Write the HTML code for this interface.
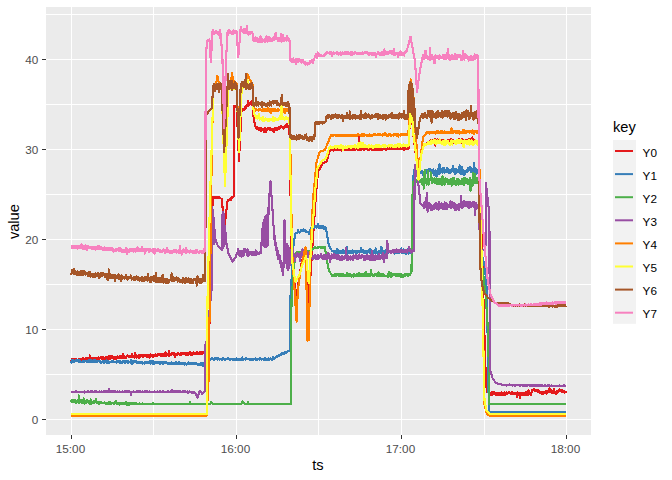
<!DOCTYPE html>
<html><head><meta charset="utf-8"><title>plot</title>
<style>
html,body{margin:0;padding:0;background:#fff;}
body{width:672px;height:480px;overflow:hidden;font-family:"Liberation Sans",sans-serif;}
svg{display:block;}
text{font-family:"Liberation Sans",sans-serif;}
.tk{font-size:11.73px;fill:#4D4D4D;}
.lg{font-size:11.73px;fill:#000;}
.tt{font-size:14.67px;fill:#000;}
.ln path{shape-rendering:crispEdges;fill:none;stroke-width:2.13;stroke-linejoin:round;stroke-linecap:butt;}
</style></head><body>
<svg width="672" height="480" viewBox="0 0 672 480">
<rect width="672" height="480" fill="#fff"/>
<rect x="46" y="7" width="545" height="428" fill="#EBEBEB"/>
<defs><clipPath id="cp"><rect x="46" y="7" width="545" height="428"/></clipPath></defs>
<g><rect x="46" y="14" width="545" height="1" fill="#fff"/><rect x="46" y="104" width="545" height="1" fill="#fff"/><rect x="46" y="194" width="545" height="1" fill="#fff"/><rect x="46" y="284" width="545" height="1" fill="#fff"/><rect x="46" y="374" width="545" height="1" fill="#fff"/><rect x="46" y="59" width="545" height="1" fill="#fff"/><rect x="46" y="149" width="545" height="1" fill="#fff"/><rect x="46" y="239" width="545" height="1" fill="#fff"/><rect x="46" y="329" width="545" height="1" fill="#fff"/><rect x="46" y="419" width="545" height="1" fill="#fff"/><rect x="153" y="7" width="1" height="428" fill="#fff"/><rect x="318" y="7" width="1" height="428" fill="#fff"/><rect x="484" y="7" width="1" height="428" fill="#fff"/><rect x="71" y="7" width="1" height="428" fill="#fff"/><rect x="236" y="7" width="1" height="428" fill="#fff"/><rect x="401" y="7" width="1" height="428" fill="#fff"/><rect x="566" y="7" width="1" height="428" fill="#fff"/></g>
<g class="ln" clip-path="url(#cp)">
<path d="M71.0,360.0 71.3,360.8 71.6,360.1 71.9,358.7 72.2,360.3 72.5,360.3 72.8,358.7 73.1,358.8 73.4,360.8 73.7,359.6 74.0,360.9 74.3,359.2 74.6,359.5 74.9,358.8 75.2,359.8 75.5,360.7 75.8,359.7 76.1,359.1 76.4,359.3 76.7,359.2 77.0,360.1 77.3,359.9 77.6,360.0 77.9,359.8 78.2,360.2 78.5,360.0 78.8,360.5 79.1,359.4 79.4,360.7 79.7,359.2 80.0,359.7 80.3,359.2 80.6,360.6 80.9,358.8 81.2,360.9 81.5,358.8 81.8,358.8 82.1,359.4 82.4,360.0 82.7,358.5 83.0,357.8 83.3,360.7 83.6,359.9 83.9,360.3 84.2,360.0 84.5,359.3 84.8,359.0 85.1,359.5 85.4,358.9 85.7,359.0 86.0,358.4 86.3,361.2 86.6,358.8 86.9,358.5 87.2,359.0 87.5,359.6 87.8,358.0 88.1,359.2 88.4,357.7 88.7,358.8 89.0,359.5 89.3,359.7 89.6,359.0 89.9,355.4 90.2,358.0 90.5,359.0 90.8,359.2 91.1,358.7 91.4,358.2 91.7,359.2 92.0,359.5 92.3,358.5 92.6,358.2 92.9,358.5 93.2,358.8 93.5,359.3 93.8,358.4 94.1,358.2 94.4,358.5 94.7,357.6 95.0,358.3 95.3,359.3 95.6,359.9 95.9,359.0 96.2,359.2 96.5,358.4 96.8,357.9 97.1,357.7 97.4,358.7 97.7,359.0 98.0,358.7 98.3,359.0 98.6,357.3 98.9,357.9 99.2,359.3 99.5,357.7 99.8,358.0 100.1,358.3 100.4,358.3 100.7,357.3 101.0,358.5 101.3,357.3 101.6,358.8 101.9,359.1 102.2,357.3 102.5,358.0 102.8,358.1 103.1,359.3 103.4,358.5 103.7,357.4 104.0,358.4 104.3,357.6 104.6,359.4 104.9,359.1 105.2,358.4 105.5,359.3 105.8,359.0 106.1,357.3 106.4,359.0 106.7,358.3 107.0,357.8 107.3,358.1 107.6,358.5 107.9,356.8 108.2,356.8 108.5,358.9 108.8,358.1 109.1,357.7 109.4,356.0 109.7,356.6 110.0,356.9 110.3,358.8 110.6,358.0 110.9,356.3 111.2,357.3 111.5,358.4 111.8,357.6 112.1,356.7 112.4,356.0 112.7,357.1 113.0,356.5 113.3,357.6 113.6,357.3 113.9,359.0 114.2,356.7 114.5,357.7 114.8,358.0 115.1,358.1 115.4,358.5 115.7,358.3 116.0,357.2 116.3,358.2 116.6,358.6 116.9,356.9 117.2,356.5 117.5,357.7 117.8,357.6 118.1,356.6 118.4,357.6 118.7,357.9 119.0,358.4 119.3,357.0 119.6,357.8 119.9,357.2 120.2,355.7 120.5,357.4 120.8,356.1 121.1,357.4 121.4,358.1 121.7,356.6 122.0,357.9 122.3,356.6 122.6,357.1 122.9,356.3 123.2,353.7 123.5,356.9 123.8,356.6 124.1,357.7 124.4,356.0 124.7,357.5 125.0,356.7 125.3,356.9 125.6,357.7 125.9,357.3 126.2,357.5 126.5,356.2 126.8,356.7 127.1,356.1 127.4,355.4 127.7,355.5 128.0,356.4 128.3,355.6 128.6,356.6 128.9,357.0 129.2,357.3 129.5,356.4 129.8,356.5 130.1,356.5 130.4,356.1 130.7,356.6 131.0,357.2 131.3,356.1 131.6,357.1 131.9,354.0 132.2,357.4 132.5,356.5 132.8,356.7 133.1,357.5 133.4,355.7 133.7,356.0 134.0,356.2 134.3,355.6 134.6,357.8 134.9,357.2 135.2,352.9 135.5,356.2 135.8,356.3 136.1,356.0 136.4,357.6 136.7,355.4 137.0,357.0 137.3,356.5 137.6,355.6 137.9,356.5 138.2,357.4 138.5,355.4 138.8,357.8 139.1,356.2 139.4,355.5 139.7,356.8 140.0,357.1 140.3,356.6 140.6,356.6 140.9,355.5 141.2,356.3 141.5,356.1 141.8,355.3 142.1,355.4 142.4,356.6 142.7,356.9 143.0,356.6 143.3,355.1 143.6,356.2 143.9,356.0 144.2,355.0 144.5,354.8 144.8,355.9 145.1,355.0 145.4,355.8 145.7,356.4 146.0,356.4 146.3,356.4 146.6,355.4 146.9,356.7 147.2,356.4 147.5,355.7 147.8,354.8 148.1,355.6 148.4,356.9 148.7,356.7 149.0,355.9 149.3,357.6 149.6,355.2 149.9,355.6 150.2,354.5 150.5,356.6 150.8,355.0 151.1,356.5 151.4,354.8 151.7,354.9 152.0,354.8 152.3,356.5 152.6,356.8 152.9,356.2 153.2,355.1 153.5,356.5 153.8,355.2 154.1,354.6 154.4,355.8 154.7,355.0 155.0,354.9 155.3,354.6 155.6,354.4 155.9,355.2 156.2,355.8 156.5,355.4 156.8,355.3 157.1,355.5 157.4,355.8 157.7,354.4 158.0,354.1 158.3,354.2 158.6,354.8 158.9,353.8 159.2,355.2 159.5,354.0 159.8,355.3 160.1,354.6 160.4,355.9 160.7,355.2 161.0,354.4 161.3,355.4 161.6,354.8 161.9,355.0 162.2,356.4 162.5,355.3 162.8,356.3 163.1,354.3 163.4,354.2 163.7,356.2 164.0,355.9 164.3,354.3 164.6,354.4 164.9,356.2 165.2,354.4 165.5,352.5 165.8,354.6 166.1,353.9 166.4,355.5 166.7,354.7 167.0,354.5 167.3,354.3 167.6,355.2 167.9,353.9 168.2,355.3 168.5,355.3 168.8,355.7 169.1,350.7 169.4,355.5 169.7,353.9 170.0,355.4 170.3,354.1 170.6,353.9 170.9,353.9 171.2,354.7 171.5,353.3 171.8,354.4 172.1,353.1 172.4,354.3 172.7,353.1 173.0,354.5 173.3,354.6 173.6,354.6 173.9,354.1 174.2,354.9 174.5,353.3 174.8,353.8 175.1,356.8 175.4,354.0 175.7,354.4 176.0,355.1 176.3,354.5 176.6,355.1 176.9,354.0 177.2,354.3 177.5,353.0 177.8,352.8 178.1,353.7 178.4,353.0 178.7,353.9 179.0,354.4 179.3,354.5 179.6,354.1 179.9,354.5 180.2,354.0 180.5,354.8 180.8,354.2 181.1,354.7 181.4,352.8 181.7,352.8 182.0,353.3 182.3,354.0 182.6,353.7 182.9,353.4 183.2,352.7 183.5,352.6 183.8,353.8 184.1,353.6 184.4,352.6 184.7,352.9 185.0,353.0 185.3,353.2 185.6,354.0 185.9,355.0 186.2,354.2 186.5,352.6 186.8,354.9 187.1,353.7 187.4,354.2 187.7,354.9 188.0,353.2 188.3,353.6 188.6,353.1 188.9,352.9 189.2,353.0 189.5,354.0 189.8,352.5 190.1,352.0 190.4,352.9 190.7,352.9 191.0,354.8 191.3,354.1 191.6,354.1 191.9,354.8 192.2,353.4 192.5,354.2 192.8,353.3 193.1,353.5 193.4,352.3 193.7,353.2 194.0,353.1 194.3,353.1 194.6,353.8 194.9,352.9 195.2,353.6 195.5,354.4 195.8,353.6 196.1,353.7 196.4,353.3 196.7,352.3 197.0,353.4 197.3,352.5 197.6,352.3 197.9,352.5 198.2,353.8 198.5,353.8 198.8,353.4 199.1,353.2 199.4,353.5 199.7,352.0 200.0,353.0 200.3,353.5 200.6,352.7 200.9,352.4 201.2,353.8 201.5,352.2 201.8,353.7 202.1,353.5 202.4,351.8 202.7,352.0 203.0,352.0 203.3,352.5 203.6,353.4 203.9,351.8 204.2,353.4 204.5,352.5 204.8,352.3 205.2,352.2 205.5,352.0 205.8,351.6 206.1,351.9 206.4,352.5 206.7,351.8 207.0,351.3 207.3,351.8 207.6,351.3 207.9,351.3 208.2,351.4 208.5,352.0 208.8,352.0 209.2,334.7 209.6,317.3 210.0,300.0 210.3,270.7 210.7,241.3 211.0,212.0 211.3,211.0 211.7,210.0 212.0,209.0 212.3,208.0 212.6,204.3 213.0,200.7 213.3,197.0 213.6,197.9 213.9,197.0 214.2,197.1 214.5,197.6 214.8,197.9 215.1,196.8 215.4,197.9 215.7,196.9 216.0,197.9 216.3,196.7 216.7,197.0 217.0,196.8 217.3,196.7 217.6,196.9 217.9,197.6 218.2,197.6 218.5,197.9 218.8,197.5 219.1,197.0 219.4,197.8 219.7,197.6 220.0,198.0 220.3,198.2 220.7,198.3 221.0,198.5 221.3,198.7 221.7,198.8 222.0,199.0 222.3,204.4 222.7,209.9 223.0,215.3 223.3,220.8 223.7,226.2 224.0,231.7 224.3,229.0 224.6,226.2 225.0,223.5 225.3,220.8 225.6,218.1 225.9,215.3 226.2,212.6 226.5,209.9 226.9,207.2 227.2,204.4 227.5,201.7 227.8,201.0 228.1,200.2 228.5,200.6 228.8,200.6 229.1,200.3 229.4,199.6 229.8,200.1 230.1,199.9 230.4,198.7 230.7,198.9 231.1,198.3 231.4,199.8 231.7,197.5 232.0,197.4 232.3,197.3 232.6,197.2 232.9,197.0 233.2,196.9 233.5,196.8 233.8,196.7 234.2,105.8 234.5,105.8 234.8,106.5 235.1,106.0 235.4,106.7 235.8,107.0 236.1,106.3 236.4,107.4 236.7,106.7 237.0,114.4 237.4,122.2 237.7,129.9 238.0,137.6 238.3,145.3 238.7,153.1 239.0,160.8 239.3,154.6 239.6,148.4 239.9,142.1 240.2,135.9 240.6,129.7 240.9,123.5 241.2,117.2 241.5,111.0 241.8,109.4 242.1,108.8 242.4,109.9 242.7,110.3 243.0,110.0 243.3,108.9 243.6,109.2 243.9,110.2 244.2,108.9 244.5,107.9 244.8,107.5 245.1,107.5 245.4,109.0 245.7,107.9 246.0,107.9 246.3,105.9 246.7,106.8 247.0,104.9 247.3,104.3 247.6,106.0 247.9,105.6 248.2,100.5 248.5,103.6 248.8,103.2 249.1,104.7 249.4,103.6 249.7,103.5 250.0,103.0 250.3,104.3 250.7,102.3 251.0,103.0 251.3,101.8 251.6,101.6 252.0,103.0 252.3,103.0 252.6,106.4 252.9,109.8 253.2,113.2 253.5,116.6 253.8,120.0 254.1,121.1 254.4,122.3 254.7,123.4 255.1,124.6 255.4,125.7 255.7,126.9 256.0,128.0 256.3,126.7 256.6,127.0 256.9,129.3 257.2,128.3 257.5,127.4 257.8,128.6 258.1,128.5 258.4,127.9 258.7,130.2 259.0,127.6 259.3,129.4 259.6,129.1 259.9,128.8 260.2,130.4 260.5,128.5 260.8,131.2 261.1,128.4 261.4,130.4 261.7,129.4 262.0,130.5 262.3,129.2 262.6,129.5 262.9,130.2 263.2,129.5 263.5,130.8 263.8,129.7 264.1,132.0 264.4,130.5 264.7,131.3 265.0,130.5 265.3,127.9 265.6,129.5 265.9,132.0 266.2,131.2 266.5,129.3 266.8,130.1 267.1,129.0 267.4,128.3 267.7,128.7 268.0,129.5 268.3,128.5 268.7,129.3 269.0,129.1 269.3,129.4 269.6,128.1 269.9,129.0 270.2,128.3 270.5,130.3 270.8,129.2 271.1,128.5 271.4,129.1 271.7,129.2 272.0,129.1 272.3,130.2 272.6,129.5 272.9,128.7 273.2,130.9 273.5,129.6 273.8,131.9 274.1,129.4 274.4,129.1 274.7,129.0 275.0,128.5 275.3,127.6 275.6,128.4 275.9,130.1 276.2,128.6 276.5,128.0 276.8,129.7 277.1,129.9 277.4,128.1 277.7,128.7 278.0,129.6 278.3,128.5 278.7,127.1 279.0,129.4 279.3,129.0 279.6,129.0 279.9,127.4 280.2,126.5 280.5,128.0 280.8,126.5 281.1,126.6 281.4,126.1 281.7,126.6 282.0,127.1 282.3,127.7 282.6,127.2 282.9,126.7 283.2,127.6 283.5,128.6 283.8,128.0 284.1,128.3 284.4,128.3 284.7,125.8 285.0,127.5 285.3,127.5 285.7,125.5 286.0,125.5 286.3,126.6 286.6,126.3 286.9,126.8 287.2,124.3 287.5,126.6 287.8,127.1 288.1,125.5 288.4,126.5 288.7,125.9 289.0,127.0 289.5,129.0 289.8,149.2 290.2,169.3 290.5,189.5 290.8,209.7 291.2,229.8 291.5,250.0 291.8,253.4 292.1,256.8 292.4,260.2 292.7,263.6 293.0,267.0 293.3,270.4 293.6,273.8 293.9,277.2 294.2,280.5 294.5,283.9 294.8,287.3 295.1,290.7 295.4,294.1 295.7,297.5 296.0,300.9 296.3,304.3 296.6,307.7 297.1,298.9 297.5,290.0 297.8,287.8 298.1,285.5 298.4,283.2 298.8,281.0 299.1,278.8 299.4,276.5 299.7,274.2 300.0,272.0 300.3,270.3 300.7,268.6 301.0,266.9 301.3,265.1 301.6,263.4 302.0,261.7 302.3,260.0 302.6,258.8 302.9,257.6 303.3,256.4 303.6,255.2 303.9,254.0 304.2,252.8 304.5,251.6 304.9,250.4 305.2,249.2 305.5,248.0 305.8,253.5 306.1,258.9 306.5,264.4 306.8,269.8 307.1,275.3 307.4,280.8 307.7,286.2 308.1,291.7 308.4,297.1 308.7,302.6 309.0,297.8 309.3,293.0 309.7,288.3 310.0,283.5 310.3,278.7 310.6,273.9 310.9,269.1 311.2,264.3 311.6,259.6 311.9,254.8 312.2,250.0 312.5,245.4 312.8,240.8 313.1,236.2 313.4,231.7 313.7,227.1 314.0,222.5 314.4,217.9 314.7,213.3 315.0,208.8 315.3,204.2 315.6,199.6 315.9,195.0 316.2,191.7 316.5,188.4 316.8,185.1 317.1,181.9 317.4,178.6 317.7,175.3 318.0,172.0 318.3,171.4 318.6,170.9 318.9,170.3 319.2,169.7 319.5,169.2 319.8,168.6 320.1,168.0 320.4,167.5 320.7,166.9 321.0,166.3 321.3,165.8 321.6,165.2 321.9,164.6 322.2,164.1 322.5,163.5 322.8,163.3 323.1,163.2 323.4,163.0 323.7,162.9 324.0,162.7 324.3,162.6 324.7,162.4 325.0,162.3 325.3,162.1 325.6,162.0 325.9,161.8 326.2,161.7 326.5,161.5 326.8,160.5 327.1,159.4 327.5,158.4 327.8,157.3 328.1,156.3 328.4,155.2 328.7,154.2 329.0,153.1 329.4,152.1 329.7,151.0 330.0,150.0 330.3,149.8 330.6,150.1 330.9,149.9 331.2,149.6 331.5,150.2 331.8,150.2 332.1,150.0 332.4,149.7 332.7,149.6 333.0,149.9 333.3,150.5 333.6,150.3 333.9,150.1 334.2,149.2 334.5,148.8 334.8,149.7 335.1,149.3 335.4,150.0 335.7,148.8 336.0,149.4 336.3,149.9 336.6,149.8 336.9,149.3 337.2,149.4 337.5,150.2 337.8,149.1 338.1,149.7 338.4,150.2 338.7,149.4 339.0,149.5 339.3,149.7 339.6,149.0 339.9,149.5 340.2,150.3 340.5,149.0 340.8,149.2 341.1,150.0 341.4,149.7 341.7,150.5 342.0,149.0 342.3,149.3 342.6,149.3 342.9,149.3 343.2,147.6 343.5,150.1 343.8,149.3 344.1,149.8 344.4,149.2 344.7,149.8 345.0,148.5 345.3,149.0 345.6,149.8 345.9,149.1 346.2,150.1 346.5,150.1 346.8,149.1 347.1,148.9 347.4,149.7 347.7,150.0 348.0,149.0 348.3,149.4 348.6,149.5 348.9,149.0 349.2,149.3 349.5,149.3 349.8,150.2 350.1,149.2 350.4,149.6 350.7,149.1 351.0,150.5 351.3,149.2 351.6,149.7 351.9,149.9 352.2,149.4 352.5,149.9 352.8,149.7 353.1,149.3 353.4,150.1 353.7,150.1 354.0,149.5 354.3,149.8 354.6,148.7 354.9,150.0 355.2,148.7 355.5,148.7 355.8,148.8 356.1,148.5 356.4,148.6 356.7,148.6 357.0,148.5 357.3,148.3 357.6,146.5 357.9,149.8 358.2,149.5 358.5,149.3 359.0,136.5 359.5,149.3 359.8,149.0 360.1,149.8 360.4,149.9 360.7,150.2 361.0,150.1 361.3,150.0 361.6,148.7 361.9,148.4 362.2,148.7 362.5,148.9 362.8,149.3 363.1,148.6 363.4,148.3 363.7,149.9 364.0,149.1 364.3,149.8 364.6,149.4 364.9,148.5 365.2,148.6 365.5,148.7 365.8,148.4 366.1,148.9 366.4,148.6 366.7,148.0 367.0,148.9 367.3,149.4 367.6,149.5 367.9,149.3 368.2,150.4 368.5,148.6 368.8,148.3 369.1,149.8 369.4,149.4 369.7,148.9 370.0,148.0 370.3,149.3 370.6,149.4 370.9,148.8 371.2,149.2 371.5,149.9 371.9,149.1 372.2,149.8 372.5,148.3 372.8,149.7 373.1,149.1 373.4,148.7 373.7,149.6 374.0,149.9 374.3,149.2 374.6,148.7 374.9,149.6 375.2,149.6 375.5,148.8 375.8,149.5 376.1,149.5 376.4,149.7 376.7,150.1 377.0,149.0 377.3,148.9 377.6,149.3 377.9,148.7 378.2,149.6 378.5,149.2 378.8,148.6 379.1,149.0 379.4,148.8 379.7,149.6 380.0,148.5 380.3,149.0 380.6,148.3 380.9,149.8 381.2,148.5 381.5,148.3 381.8,149.8 382.1,149.4 382.4,149.3 382.7,149.3 383.0,149.5 383.3,148.4 383.6,148.9 383.9,148.7 384.2,148.3 384.5,148.7 384.8,149.3 385.1,148.7 385.4,148.5 385.7,149.9 386.0,148.5 386.3,149.6 386.6,148.6 386.9,149.3 387.2,148.7 387.5,149.0 387.8,148.9 388.1,148.3 388.4,148.8 388.7,149.3 389.0,148.7 389.3,148.5 389.6,147.8 389.9,147.9 390.2,148.9 390.5,148.4 390.8,149.0 391.1,148.2 391.4,149.2 391.7,148.8 392.0,149.2 392.3,148.5 392.6,149.2 392.9,148.2 393.2,148.5 393.5,147.7 393.8,148.5 394.1,148.3 394.4,146.3 394.7,147.8 395.0,148.7 395.3,149.1 395.6,148.9 395.9,148.5 396.2,147.7 396.6,147.5 396.9,148.9 397.2,148.3 397.5,147.7 397.8,148.3 398.1,148.9 398.4,148.5 398.7,149.2 399.0,148.8 399.3,148.4 399.6,149.1 399.9,147.8 400.2,148.0 400.5,147.4 400.8,147.4 401.1,148.5 401.4,149.1 401.7,148.9 402.0,148.8 402.3,148.0 402.6,149.4 402.9,149.4 403.2,149.5 403.5,148.3 403.8,149.1 404.1,149.2 404.4,149.4 404.7,148.6 405.0,148.1 405.3,148.4 405.6,146.7 405.9,148.9 406.2,148.8 406.5,149.2 406.8,149.1 407.1,147.6 407.4,146.0 407.7,149.2 408.0,148.4 408.3,147.4 408.6,148.5 408.9,140.8 409.3,133.1 409.6,125.4 410.0,117.7 410.3,110.0 410.6,111.6 411.0,113.2 411.3,114.8 411.7,116.4 412.0,118.0 412.3,121.6 412.6,125.2 412.9,128.8 413.2,132.4 413.5,136.0 413.8,138.5 414.1,140.9 414.4,143.4 414.7,145.9 415.0,148.4 415.3,150.8 415.6,153.3 415.9,155.8 416.2,158.2 416.5,160.7 416.8,163.2 417.1,165.6 417.4,168.1 417.7,170.6 418.0,173.1 418.3,175.5 418.6,178.0 418.9,174.7 419.3,171.4 419.6,168.1 420.0,164.9 420.3,161.6 420.7,158.3 421.0,155.0 421.3,154.0 421.6,153.0 421.9,152.0 422.2,151.0 422.5,150.0 422.8,149.0 423.1,148.0 423.4,147.0 423.7,146.0 424.0,145.0 424.3,144.8 424.6,144.7 424.9,144.5 425.2,144.3 425.5,144.1 425.8,143.9 426.1,143.8 426.4,143.6 426.7,143.4 427.0,143.2 427.3,143.1 427.6,142.9 427.9,142.7 428.2,142.6 428.5,142.4 428.8,142.2 429.1,142.0 429.4,141.8 429.7,141.7 430.0,141.5 430.3,140.9 430.6,141.0 430.9,142.6 431.2,140.2 431.5,143.0 431.8,141.6 432.1,140.9 432.4,142.5 432.7,140.4 433.0,143.4 433.3,141.7 433.6,141.3 433.9,141.8 434.2,140.6 434.5,142.8 434.8,139.8 435.1,139.3 435.4,145.6 435.7,142.4 436.0,139.7 436.3,141.6 436.6,141.7 436.9,140.9 437.2,142.2 437.5,139.0 437.8,142.7 438.1,141.4 438.4,140.4 438.7,141.2 439.0,142.9 439.3,139.5 439.6,139.6 439.9,141.9 440.2,142.4 440.5,140.3 440.8,140.1 441.1,140.3 441.4,141.4 441.7,140.7 442.0,142.1 442.3,141.2 442.6,142.7 442.9,140.4 443.2,142.1 443.5,143.0 443.8,143.8 444.1,140.3 444.4,143.0 444.7,140.8 445.0,142.7 445.3,140.9 445.6,143.5 445.9,142.9 446.2,140.6 446.5,143.4 446.8,142.7 447.1,140.9 447.4,142.0 447.7,139.9 448.0,141.4 448.3,141.6 448.6,141.8 448.9,140.1 449.2,140.1 449.5,140.4 449.8,141.7 450.1,141.2 450.4,141.8 450.7,142.8 451.0,139.4 451.3,139.5 451.6,141.6 451.9,140.4 452.2,142.8 452.5,141.4 452.8,140.9 453.1,140.0 453.4,142.2 453.7,142.8 454.0,143.0 454.3,141.6 454.6,142.8 454.9,141.4 455.2,141.7 455.5,141.6 455.8,141.0 456.1,141.2 456.4,142.4 456.7,140.2 457.0,140.3 457.3,141.7 457.6,141.8 457.9,141.0 458.2,139.6 458.5,139.3 458.8,140.2 459.1,138.5 459.4,140.9 459.7,141.0 460.0,140.5 460.3,142.0 460.6,140.3 460.9,141.2 461.2,142.2 461.5,142.6 461.8,141.0 462.1,139.4 462.4,141.1 462.7,141.1 463.0,142.6 463.3,139.8 463.6,140.8 463.9,142.0 464.2,142.5 464.5,140.6 464.8,142.5 465.1,141.3 465.4,141.3 465.7,139.8 466.0,141.0 466.3,141.7 466.6,140.7 466.9,141.4 467.2,139.8 467.5,141.1 467.8,142.5 468.1,140.4 468.4,140.6 468.7,140.9 469.0,140.8 469.3,139.1 469.6,139.6 469.9,141.3 470.2,140.5 470.5,140.1 470.8,139.3 471.1,142.2 471.4,142.2 471.7,139.1 472.0,141.2 472.3,137.5 472.6,139.4 472.9,140.9 473.2,140.5 473.5,140.1 473.8,141.0 474.1,140.0 474.4,142.4 474.7,141.9 475.0,139.7 475.3,141.3 475.6,141.2 475.9,141.5 476.2,141.6 476.5,142.8 476.8,142.2 477.1,141.8 477.4,141.4 477.7,141.9 478.0,141.0 478.3,141.0 478.6,141.0 478.9,150.9 479.2,160.8 479.5,170.7 479.8,180.6 480.1,190.5 480.5,200.5 480.8,210.4 481.1,220.3 481.4,230.2 481.7,240.1 482.0,250.0 482.3,260.8 482.6,271.7 482.9,282.5 483.3,293.3 483.6,304.2 483.9,315.0 484.2,325.8 484.5,336.7 484.9,347.5 485.2,358.3 485.5,369.2 485.8,380.0 486.2,384.0 486.6,388.0 487.0,392.0 487.3,392.2 487.6,392.3 487.9,392.5 488.2,392.6 488.5,392.8 488.8,393.0 489.1,393.1 489.4,393.3 489.7,393.4 490.0,393.6 490.3,393.2 490.6,394.3 490.9,394.6 491.2,394.2 491.5,395.3 491.8,391.9 492.1,393.8 492.4,392.6 492.7,394.1 493.0,392.8 493.3,392.7 493.6,393.5 493.9,393.1 494.2,392.2 494.5,393.3 494.8,393.4 495.1,393.9 495.4,393.5 495.7,392.8 496.0,394.6 496.3,394.2 496.6,394.9 496.9,394.4 497.2,393.6 497.5,393.1 497.8,394.6 498.1,394.9 498.4,393.9 498.7,393.5 499.0,393.0 499.3,395.0 499.6,394.3 499.9,393.7 500.2,393.3 500.6,395.1 500.9,394.3 501.2,392.4 501.5,392.6 501.8,394.5 502.1,392.8 502.4,394.5 502.7,394.5 503.0,392.6 503.3,394.9 503.6,393.9 503.9,394.1 504.2,392.4 504.5,393.1 504.8,394.5 505.1,394.9 505.4,394.1 505.7,393.5 506.0,394.2 506.3,392.4 506.6,392.8 506.9,394.3 507.2,393.1 507.5,393.5 507.8,393.4 508.1,393.5 508.4,392.8 508.7,391.9 509.0,393.4 509.3,393.1 509.6,392.6 509.9,392.6 510.2,393.1 510.5,393.6 510.8,393.8 511.1,392.5 511.4,394.0 511.7,392.4 512.0,393.9 512.3,394.3 512.6,392.1 512.9,392.6 513.2,392.9 513.5,394.1 513.8,394.2 514.1,393.3 514.4,394.2 514.7,394.4 515.0,394.0 515.3,394.2 515.6,393.3 515.9,393.5 516.2,394.4 516.5,393.0 516.8,396.8 517.1,393.9 517.4,392.5 517.7,392.7 518.0,394.0 518.3,394.3 518.6,394.2 518.9,394.8 519.2,394.1 519.5,393.6 519.8,394.1 520.1,398.4 520.4,393.7 520.8,394.0 521.1,395.2 521.4,392.9 521.7,395.2 522.0,394.8 522.3,392.9 522.6,394.9 522.9,392.7 523.2,394.0 523.5,393.0 523.8,392.6 524.1,394.8 524.4,393.6 524.7,393.6 525.0,394.1 525.3,393.3 525.6,394.6 525.9,392.3 526.2,393.7 526.5,392.9 526.8,394.9 527.1,393.2 527.4,393.9 527.7,392.5 528.0,395.1 528.3,391.7 528.6,390.5 528.9,393.3 529.2,393.3 529.5,393.3 529.8,392.8 530.1,394.0 530.4,394.7 530.7,395.1 531.0,393.8 531.3,393.0 531.6,392.2 531.9,391.3 532.2,390.5 532.5,389.7 532.8,390.7 533.1,389.7 533.5,389.0 533.8,390.3 534.1,388.8 534.4,389.8 534.7,389.8 535.0,390.8 535.4,390.9 535.7,390.3 536.0,390.5 536.3,391.4 536.6,389.9 536.9,391.5 537.2,389.9 537.5,390.7 537.8,390.7 538.1,391.9 538.4,391.7 538.7,390.4 539.0,392.3 539.3,390.9 539.6,391.2 539.9,392.6 540.2,392.4 540.5,392.3 540.8,391.7 541.1,391.8 541.4,393.5 541.7,393.2 542.0,392.5 542.3,393.3 542.6,394.0 542.9,393.0 543.2,393.2 543.5,391.8 543.8,393.5 544.1,391.7 544.4,392.2 544.7,393.1 545.0,392.9 545.3,391.8 545.6,391.3 545.9,391.7 546.2,391.6 546.5,393.0 546.8,393.7 547.1,391.2 547.4,392.8 547.7,391.3 548.0,391.4 548.3,391.8 548.6,392.1 548.9,390.6 549.2,392.3 549.5,388.0 549.8,391.1 550.1,391.7 550.4,390.5 550.7,391.0 551.0,390.2 551.3,390.8 551.7,390.6 552.0,391.7 552.3,392.8 552.6,392.2 552.9,393.2 553.2,393.1 553.6,392.3 553.9,391.8 554.2,388.9 554.5,392.4 554.8,393.1 555.2,393.7 555.5,392.5 555.8,393.0 556.1,393.6 556.4,393.1 556.8,393.1 557.1,391.3 557.4,391.8 557.7,391.9 558.0,392.0 558.3,391.5 558.6,391.1 559.0,390.8 559.3,389.3 559.6,389.9 559.9,390.4 560.2,389.7 560.5,389.7 560.8,390.7 561.1,390.9 561.4,390.9 561.7,390.1 562.0,392.3 562.3,390.2 562.6,390.4 563.0,390.8 563.3,391.1 563.6,391.1 563.9,391.9 564.2,391.4 564.5,392.0 564.8,392.5 565.1,392.4 565.4,391.8 565.7,392.0 566.0,393.0" stroke="#E41A1C"/>
<path d="M71.0,361.0 71.3,362.6 71.6,360.5 71.9,361.1 72.2,360.2 72.5,361.2 72.8,360.1 73.1,361.7 73.4,360.7 73.7,361.2 74.0,361.4 74.3,360.6 74.6,361.6 74.9,361.1 75.2,360.4 75.5,360.1 75.8,360.9 76.1,360.0 76.4,361.3 76.7,360.1 77.0,360.6 77.3,360.2 77.6,360.3 77.9,361.5 78.2,360.1 78.5,359.7 78.8,361.9 79.1,361.4 79.4,361.9 79.7,362.0 80.0,361.6 80.3,361.5 80.6,361.2 80.9,361.7 81.2,361.9 81.5,361.7 81.8,361.8 82.1,361.9 82.4,361.2 82.7,360.9 83.0,361.4 83.3,360.9 83.6,360.8 83.9,361.6 84.2,362.1 84.5,360.6 84.8,360.7 85.1,360.9 85.4,360.8 85.7,361.2 86.0,360.8 86.3,361.4 86.6,361.6 86.9,360.8 87.2,361.1 87.5,361.3 87.8,361.8 88.1,361.9 88.4,360.5 88.7,360.9 89.0,360.8 89.3,360.3 89.6,361.9 89.9,361.8 90.2,360.7 90.5,361.3 90.8,360.5 91.1,360.8 91.4,360.6 91.7,361.5 92.0,361.5 92.3,361.2 92.6,362.1 92.9,361.6 93.2,361.2 93.5,360.4 93.8,360.3 94.1,362.0 94.4,361.9 94.7,360.7 95.0,361.3 95.3,362.2 95.6,362.3 95.9,360.4 96.2,362.0 96.5,362.1 96.8,361.0 97.1,361.3 97.4,361.7 97.7,360.9 98.0,361.1 98.3,361.3 98.6,361.3 98.9,361.1 99.2,361.4 99.5,361.4 99.8,361.0 100.1,362.6 100.4,361.8 100.7,362.1 101.0,361.9 101.3,361.9 101.6,362.4 101.9,362.2 102.2,361.5 102.5,361.7 102.8,361.1 103.1,361.5 103.4,361.1 103.7,361.7 104.0,362.8 104.3,362.9 104.6,361.3 104.9,361.3 105.2,361.0 105.5,362.0 105.8,361.6 106.1,361.9 106.4,362.6 106.7,360.2 107.0,362.1 107.3,362.1 107.6,362.1 107.9,361.0 108.2,362.7 108.5,362.1 108.8,362.8 109.1,361.6 109.4,362.5 109.7,361.9 110.0,362.4 110.3,361.7 110.6,362.1 110.9,361.6 111.2,361.8 111.5,361.4 111.8,361.4 112.1,362.3 112.4,361.2 112.7,361.6 113.0,360.8 113.3,361.8 113.6,362.2 113.9,362.0 114.2,361.6 114.5,361.9 114.8,362.1 115.1,362.5 115.4,362.0 115.7,362.0 116.0,362.4 116.3,362.8 116.6,362.1 116.9,361.1 117.2,361.4 117.5,361.5 117.8,362.2 118.1,361.4 118.4,361.4 118.7,361.5 119.0,362.0 119.3,361.5 119.6,362.8 119.9,361.3 120.2,361.7 120.5,362.2 120.8,361.9 121.1,363.1 121.4,362.5 121.7,362.5 122.0,362.8 122.3,362.5 122.6,361.3 122.9,362.4 123.2,361.6 123.5,361.9 123.8,361.4 124.1,361.1 124.4,361.9 124.7,361.4 125.0,362.6 125.3,361.5 125.6,362.5 125.9,361.6 126.2,361.3 126.5,361.4 126.8,362.0 127.1,361.3 127.4,362.5 127.7,362.1 128.0,362.8 128.3,361.3 128.6,362.3 128.9,361.8 129.2,362.0 129.5,362.2 129.8,361.8 130.1,362.1 130.4,362.7 130.7,361.8 131.0,361.6 131.3,360.1 131.6,362.5 131.9,361.7 132.2,363.8 132.5,361.8 132.8,361.0 133.1,361.5 133.4,361.7 133.7,362.6 134.0,362.2 134.3,361.5 134.6,361.9 134.9,362.3 135.2,362.1 135.5,361.8 135.8,362.4 136.1,361.4 136.4,361.4 136.7,361.4 137.0,362.1 137.3,362.9 137.6,362.3 137.9,361.7 138.2,363.1 138.5,362.6 138.8,361.7 139.1,363.2 139.4,362.8 139.7,363.0 140.0,362.8 140.3,362.9 140.6,362.5 140.9,363.3 141.2,362.9 141.5,362.7 141.8,363.1 142.1,363.1 142.4,361.9 142.7,363.8 143.0,363.2 143.3,363.3 143.6,363.0 143.9,363.3 144.2,362.8 144.5,363.5 144.8,362.8 145.1,362.4 145.4,362.9 145.7,362.9 146.0,363.1 146.3,362.7 146.6,362.9 146.9,362.1 147.2,362.4 147.5,362.9 147.8,362.2 148.1,361.9 148.4,362.8 148.7,362.2 149.0,363.1 149.3,363.4 149.6,363.2 149.9,360.8 150.2,363.1 150.5,363.6 150.8,363.6 151.1,362.4 151.4,363.3 151.7,362.3 152.0,361.2 152.3,362.8 152.6,363.5 152.9,363.6 153.2,362.6 153.5,361.0 153.8,362.8 154.1,363.3 154.4,361.9 154.7,363.5 155.0,362.2 155.3,362.6 155.6,361.9 155.9,362.9 156.2,362.4 156.5,362.5 156.8,363.0 157.1,362.6 157.4,361.9 157.7,362.7 158.0,362.0 158.3,362.6 158.6,362.4 158.9,362.3 159.2,363.6 159.5,362.1 159.8,362.2 160.1,363.2 160.4,362.6 160.7,363.6 161.0,363.1 161.3,362.3 161.6,362.3 161.9,361.9 162.2,362.6 162.5,363.1 162.8,363.6 163.1,362.4 163.4,363.7 163.7,363.4 164.0,362.5 164.3,362.9 164.6,362.4 164.9,363.3 165.2,362.7 165.5,362.8 165.8,363.1 166.1,362.3 166.4,362.2 166.7,362.9 167.0,362.6 167.3,363.0 167.6,362.8 167.9,362.6 168.2,364.5 168.5,363.1 168.8,363.6 169.1,364.2 169.4,362.7 169.7,363.0 170.0,363.4 170.3,363.5 170.6,362.8 170.9,362.7 171.2,363.2 171.5,364.0 171.8,362.3 172.1,362.9 172.4,364.1 172.7,363.7 173.0,363.0 173.3,363.2 173.6,362.7 173.9,363.4 174.2,363.8 174.5,362.7 174.8,363.6 175.1,363.6 175.4,362.2 175.7,363.3 176.0,362.8 176.3,362.2 176.6,363.8 176.9,362.5 177.2,362.8 177.5,363.0 177.8,364.0 178.1,363.6 178.4,362.1 178.7,363.3 179.0,361.9 179.3,362.7 179.6,362.5 179.9,364.2 180.2,362.7 180.5,363.4 180.8,363.8 181.1,362.5 181.4,363.9 181.7,363.2 182.0,363.1 182.3,364.1 182.6,364.1 182.9,363.4 183.2,363.4 183.5,363.6 183.8,363.5 184.1,362.9 184.4,364.5 184.7,362.8 185.0,364.4 185.3,363.9 185.6,363.4 185.9,364.5 186.2,364.5 186.5,363.6 186.8,364.5 187.1,364.2 187.4,363.4 187.7,363.9 188.0,363.1 188.3,363.8 188.6,362.7 188.9,362.5 189.2,362.8 189.5,363.2 189.8,363.5 190.1,363.7 190.4,363.6 190.7,362.7 191.0,363.8 191.3,363.2 191.6,362.8 191.9,362.8 192.2,362.6 192.5,363.6 192.8,362.8 193.1,363.3 193.4,363.2 193.7,362.9 194.0,364.2 194.3,363.0 194.6,363.3 194.9,364.1 195.2,364.0 195.5,364.1 195.8,362.9 196.1,363.0 196.4,363.7 196.7,364.2 197.0,363.7 197.3,363.8 197.6,364.6 197.9,364.0 198.2,364.3 198.5,364.7 198.8,364.5 199.1,364.5 199.4,364.9 199.7,364.6 200.0,364.4 200.3,363.4 200.6,364.4 200.9,364.7 201.2,363.3 201.5,363.7 201.8,362.7 202.1,363.1 202.4,364.4 202.7,364.6 203.0,366.4 203.3,364.5 203.6,364.6 203.9,363.5 204.2,363.9 204.5,363.8 205.0,364.0 205.3,363.7 205.6,363.4 205.9,363.1 206.2,362.8 206.6,362.4 206.9,362.1 207.2,361.8 207.5,361.5 207.8,361.2 208.1,360.9 208.4,360.6 208.8,360.2 209.1,359.9 209.4,359.6 209.7,359.3 210.0,359.0 210.3,359.5 210.6,358.8 210.9,358.6 211.2,358.5 211.5,358.6 211.8,358.8 212.1,358.6 212.4,359.4 212.7,358.4 213.0,358.7 213.3,359.6 213.6,359.2 213.9,358.9 214.2,358.8 214.5,358.5 214.8,359.5 215.1,358.6 215.4,358.7 215.7,358.5 216.0,359.1 216.3,359.3 216.6,358.6 216.9,359.0 217.2,358.6 217.5,359.5 217.8,359.0 218.1,358.1 218.4,358.4 218.7,358.5 219.0,359.2 219.3,358.9 219.6,359.5 219.9,358.7 220.2,359.0 220.5,358.6 220.8,358.7 221.1,359.3 221.4,359.0 221.7,359.4 222.0,359.6 222.3,358.5 222.6,358.6 222.9,358.6 223.2,359.2 223.5,358.4 223.8,359.5 224.1,359.5 224.4,359.6 224.7,359.3 225.0,358.6 225.3,359.5 225.6,359.1 225.9,359.0 226.2,358.8 226.5,358.8 226.8,359.4 227.1,358.5 227.4,358.1 227.7,358.3 228.0,358.8 228.3,359.2 228.6,358.4 228.9,359.4 229.2,358.7 229.5,359.6 229.8,359.5 230.1,359.6 230.4,358.6 230.7,358.7 231.0,358.5 231.3,358.9 231.6,359.4 231.9,359.3 232.2,359.5 232.5,359.5 232.8,358.8 233.1,358.9 233.4,358.7 233.7,358.7 234.0,359.7 234.3,359.2 234.6,358.8 234.9,359.8 235.2,359.3 235.5,359.1 235.8,359.3 236.1,359.0 236.4,358.5 236.7,359.5 237.0,358.8 237.3,359.3 237.6,359.7 237.9,359.2 238.2,359.0 238.5,359.6 238.8,359.1 239.1,359.7 239.4,359.6 239.7,358.8 240.0,359.8 240.3,359.0 240.6,359.9 240.9,359.9 241.2,359.8 241.5,358.8 241.8,359.2 242.1,359.6 242.4,357.5 242.7,359.3 243.0,359.6 243.3,359.6 243.6,359.0 243.9,359.2 244.2,359.1 244.5,358.9 244.8,358.7 245.1,359.5 245.4,359.5 245.7,358.7 246.0,358.0 246.3,358.3 246.6,358.9 246.9,359.4 247.2,358.7 247.5,358.8 247.8,359.4 248.1,358.5 248.4,359.3 248.7,359.1 249.0,359.3 249.3,359.2 249.6,359.7 249.9,358.7 250.2,358.7 250.5,359.5 250.8,358.6 251.1,359.3 251.4,359.7 251.7,359.4 252.0,359.9 252.3,359.0 252.6,359.4 252.9,359.3 253.2,359.7 253.5,359.1 253.8,358.8 254.1,359.0 254.4,359.2 254.7,359.3 255.0,358.7 255.3,359.5 255.6,358.5 255.9,359.3 256.2,359.1 256.5,358.9 256.8,359.6 257.1,358.7 257.4,359.0 257.7,359.5 258.0,359.5 258.3,359.3 258.6,359.4 258.9,359.4 259.2,358.5 259.5,358.9 259.8,359.5 260.1,357.5 260.4,359.2 260.7,359.0 261.0,359.4 261.3,359.6 261.6,359.5 261.9,358.7 262.2,359.1 262.5,358.9 262.8,358.7 263.1,359.2 263.4,359.1 263.7,359.8 264.0,359.4 264.3,359.0 264.6,358.5 264.9,359.7 265.2,358.5 265.5,358.9 265.8,358.4 266.1,360.3 266.4,359.4 266.7,359.3 267.0,359.7 267.3,359.2 267.6,359.3 267.9,358.9 268.2,359.0 268.5,358.6 268.8,359.8 269.1,359.4 269.4,359.2 269.7,359.7 270.0,358.5 270.3,358.7 270.6,358.5 270.9,359.4 271.2,359.6 271.5,359.7 271.8,359.5 272.1,359.1 272.4,359.5 272.7,357.1 273.0,359.0 273.3,358.5 273.6,358.3 273.9,358.9 274.2,358.2 274.5,358.6 274.8,358.6 275.1,358.1 275.4,357.3 275.7,357.1 276.0,357.3 276.3,357.1 276.6,357.3 276.9,356.3 277.2,355.6 277.5,356.0 277.8,356.0 278.1,356.0 278.4,356.1 278.7,355.5 279.0,355.4 279.3,355.2 279.6,355.9 279.9,355.4 280.2,354.7 280.5,354.8 280.8,354.7 281.2,354.2 281.5,354.5 281.8,354.2 282.1,353.3 282.4,353.8 282.7,354.4 283.0,353.5 283.3,354.1 283.6,353.0 283.9,353.9 284.2,353.4 284.5,353.2 284.8,352.5 285.1,352.3 285.4,353.0 285.7,351.9 286.0,352.5 286.3,352.0 286.6,352.5 286.9,352.3 287.2,352.3 287.5,351.5 287.8,351.6 288.1,350.9 288.4,351.3 288.7,351.0 289.0,351.0 289.3,351.0 289.7,351.0 290.0,351.0 290.3,300.0 290.6,294.5 290.9,289.0 291.3,283.5 291.6,278.0 291.9,272.5 292.2,267.0 292.5,261.5 292.9,256.0 293.2,250.5 293.5,245.0 293.8,243.1 294.1,241.1 294.4,239.2 294.7,237.2 295.0,235.2 295.3,233.3 295.6,233.4 295.9,233.3 296.2,233.1 296.5,232.7 296.8,233.0 297.1,233.0 297.4,232.8 297.8,231.1 298.1,230.4 298.4,231.5 298.7,232.2 299.0,231.7 299.3,231.9 299.6,232.5 299.9,232.2 300.2,232.1 300.5,231.3 300.8,231.5 301.1,230.6 301.4,229.6 301.7,230.8 302.0,231.1 302.4,231.0 302.7,231.4 303.0,230.0 303.3,230.3 303.6,229.6 303.9,230.5 304.2,229.8 304.5,230.4 304.8,230.0 305.1,230.9 305.4,231.5 305.8,231.8 306.1,230.8 306.4,231.1 306.7,231.8 307.0,231.7 307.3,232.1 307.6,232.1 307.9,232.4 308.2,232.6 308.6,232.6 308.9,232.4 309.2,233.7 309.5,233.3 309.8,232.0 310.1,230.7 310.4,229.3 310.8,228.0 311.1,228.1 311.4,227.9 311.7,227.1 312.0,228.1 312.3,228.2 312.6,228.8 312.9,227.5 313.2,227.8 313.5,227.5 313.8,227.6 314.1,227.8 314.4,227.3 314.7,226.4 315.0,226.8 315.3,226.7 315.6,225.8 315.9,226.6 316.2,227.1 316.5,227.4 316.8,227.6 317.1,226.2 317.4,226.3 317.7,226.6 318.1,224.1 318.4,226.7 318.7,227.0 319.0,227.1 319.3,227.9 319.6,227.5 319.9,227.0 320.2,227.2 320.5,225.7 320.8,227.0 321.1,227.8 321.4,227.8 321.7,227.1 322.0,226.6 322.3,227.9 322.6,227.6 322.9,226.2 323.2,227.3 323.6,226.9 323.9,227.3 324.2,228.8 324.5,228.0 324.8,228.4 325.1,228.8 325.4,227.2 325.7,227.5 326.0,228.0 326.3,230.1 326.7,232.2 327.0,234.4 327.4,236.5 327.7,238.6 328.0,240.8 328.4,242.9 328.7,245.0 329.0,245.5 329.3,246.1 329.6,246.6 329.9,247.1 330.2,247.6 330.5,248.2 330.8,248.7 331.1,249.2 331.4,249.7 331.7,250.3 332.0,250.8 332.3,250.9 332.6,251.0 332.9,251.2 333.2,251.3 333.5,251.4 333.8,251.5 334.1,251.6 334.4,251.8 334.7,251.9 335.0,252.0 335.3,250.9 335.6,252.1 335.9,252.7 336.2,252.2 336.5,253.2 336.8,252.5 337.1,250.5 337.4,248.8 337.7,250.9 338.0,250.7 338.3,252.1 338.6,252.0 338.9,252.8 339.2,250.8 339.5,252.1 339.8,252.7 340.1,250.6 340.4,253.3 340.7,253.2 341.0,252.0 341.3,251.6 341.6,251.4 341.9,251.2 342.2,251.8 342.5,251.8 342.8,253.3 343.1,250.3 343.4,252.8 343.7,251.1 344.0,251.3 344.3,252.4 344.6,252.0 344.9,251.2 345.2,252.3 345.5,253.2 345.8,252.8 346.1,251.9 346.4,252.1 346.7,246.6 347.0,250.5 347.3,254.4 347.6,252.4 347.9,252.1 348.2,251.3 348.5,252.5 348.8,252.5 349.1,252.6 349.4,252.4 349.7,250.8 350.0,251.1 350.3,251.5 350.6,252.3 350.9,253.1 351.2,252.8 351.5,253.0 351.8,252.1 352.1,251.5 352.4,250.4 352.7,253.2 353.0,251.4 353.3,252.0 353.6,251.9 353.9,250.7 354.2,252.1 354.5,251.8 354.8,251.8 355.1,251.2 355.4,252.9 355.7,250.6 356.0,252.2 356.3,250.7 356.6,251.6 356.9,250.9 357.2,253.5 357.5,252.5 357.8,252.2 358.1,251.5 358.4,252.0 358.7,250.9 359.0,251.9 359.3,252.1 359.6,252.8 359.9,251.0 360.2,251.0 360.5,250.7 360.8,250.7 361.1,247.8 361.4,251.8 361.7,250.4 362.0,251.1 362.3,250.6 362.6,251.5 362.9,250.2 363.2,251.1 363.5,251.6 363.8,253.2 364.1,251.0 364.4,252.7 364.7,253.2 365.0,253.2 365.3,251.0 365.6,253.3 365.9,250.8 366.2,250.7 366.5,253.3 366.8,253.4 367.1,251.7 367.4,252.8 367.7,252.7 368.0,251.5 368.3,250.8 368.6,250.8 368.9,251.2 369.2,250.0 369.5,251.9 369.8,252.7 370.1,250.9 370.4,248.8 370.7,250.2 371.0,252.8 371.3,252.6 371.6,251.0 371.9,250.6 372.2,251.9 372.5,251.2 372.8,252.8 373.2,251.6 373.5,251.4 373.8,251.8 374.1,252.5 374.4,252.7 374.7,250.7 375.0,253.4 375.3,252.8 375.6,248.3 375.9,252.5 376.2,250.5 376.5,253.0 376.8,252.9 377.1,251.6 377.4,252.4 377.7,251.7 378.0,254.8 378.3,251.8 378.6,253.2 378.9,251.4 379.2,251.0 379.5,252.4 379.8,252.9 380.1,252.6 380.4,250.6 380.7,251.4 381.0,246.7 381.3,252.5 381.6,247.7 381.9,250.1 382.2,248.0 382.5,251.8 382.8,250.9 383.1,251.9 383.4,253.1 383.7,252.4 384.0,251.4 384.3,251.8 384.6,252.3 384.9,250.9 385.2,254.6 385.5,251.6 385.8,250.4 386.1,251.9 386.4,251.3 386.7,251.1 387.0,250.5 387.3,250.5 387.6,251.0 387.9,252.9 388.2,253.1 388.5,252.4 388.8,252.3 389.1,251.7 389.4,251.4 389.7,252.3 390.0,251.2 390.3,250.6 390.6,252.1 390.9,253.0 391.2,251.8 391.5,252.0 391.8,250.9 392.1,251.8 392.4,250.4 392.7,251.8 393.0,251.9 393.3,252.4 393.6,252.6 393.9,251.9 394.2,250.3 394.5,253.5 394.8,250.9 395.1,251.6 395.4,251.6 395.7,251.0 396.0,253.5 396.3,252.5 396.6,252.7 396.9,251.4 397.2,251.3 397.5,251.4 397.8,252.8 398.1,253.2 398.4,250.5 398.7,251.0 399.0,252.9 399.3,251.3 399.6,252.5 399.9,251.8 400.2,251.3 400.5,252.1 400.8,252.3 401.1,251.3 401.4,248.3 401.7,251.8 402.0,252.2 402.3,253.4 402.6,252.4 402.9,253.0 403.2,250.7 403.5,249.2 403.8,252.7 404.1,252.1 404.4,252.5 404.7,252.0 405.0,253.5 405.3,252.3 405.6,251.3 405.9,253.6 406.2,253.7 406.5,252.3 406.8,251.3 407.1,251.0 407.4,252.0 407.7,248.7 408.0,253.4 408.3,250.9 408.6,251.1 408.9,253.6 409.2,252.8 409.5,250.9 409.8,251.4 410.1,251.6 410.4,253.0 410.7,251.5 411.0,252.0 411.3,251.6 411.6,251.2 411.9,250.8 412.2,250.4 412.5,250.0 413.0,180.0 413.3,177.3 413.7,174.7 414.0,172.0 414.3,172.0 414.6,168.2 414.9,171.2 415.2,173.6 415.5,172.6 415.8,171.6 416.2,170.8 416.5,172.3 416.8,172.7 417.1,172.1 417.4,171.4 417.7,172.7 418.0,173.1 418.3,173.6 418.6,171.2 418.9,173.6 419.2,172.1 419.5,171.4 419.9,171.7 420.2,172.1 420.5,171.8 420.8,171.8 421.1,172.0 421.4,173.2 421.7,171.5 422.0,171.3 422.3,170.6 422.6,173.7 422.9,173.6 423.2,175.2 423.5,173.5 423.8,173.1 424.1,173.8 424.4,173.0 424.7,172.4 425.0,170.6 425.3,171.5 425.6,171.2 425.9,171.3 426.2,172.5 426.5,171.5 426.8,169.7 427.1,171.7 427.4,172.1 427.7,173.7 428.0,173.7 428.3,172.4 428.6,168.9 428.9,170.9 429.2,168.9 429.5,171.0 429.8,170.3 430.1,170.3 430.4,170.1 430.7,169.3 431.0,172.1 431.3,171.3 431.6,173.6 431.9,172.4 432.2,171.4 432.5,172.9 432.8,172.7 433.1,170.1 433.4,169.5 433.7,174.9 434.0,173.0 434.3,170.8 434.6,173.5 434.9,171.7 435.2,173.9 435.5,170.3 435.9,174.1 436.2,174.5 436.5,177.2 436.8,170.8 437.1,172.1 437.4,170.3 437.7,169.5 438.0,170.2 438.3,174.0 438.6,173.4 438.9,171.5 439.2,170.7 439.5,164.5 439.8,173.6 440.1,171.6 440.4,169.7 440.7,170.8 441.0,170.9 441.3,170.1 441.6,171.5 441.9,171.2 442.2,172.6 442.5,168.2 442.8,169.7 443.1,172.1 443.4,170.0 443.7,167.7 444.0,171.7 444.3,169.0 444.6,173.0 444.9,170.4 445.2,171.3 445.5,170.4 445.8,169.7 446.1,170.4 446.4,172.2 446.7,169.6 447.0,171.8 447.3,168.2 447.6,168.3 447.9,170.4 448.2,172.6 448.5,171.0 448.8,171.3 449.1,171.5 449.4,172.6 449.7,173.1 450.0,170.8 450.3,169.7 450.6,172.8 450.9,170.4 451.2,172.1 451.5,172.0 451.8,169.5 452.1,170.8 452.4,171.2 452.7,170.9 453.0,169.4 453.3,166.3 453.6,172.1 453.9,171.9 454.2,169.2 454.5,173.0 454.8,173.8 455.1,170.8 455.4,170.8 455.7,173.5 456.0,168.9 456.3,171.8 456.6,172.9 456.9,171.1 457.2,172.5 457.5,170.4 457.8,172.4 458.1,171.4 458.4,171.1 458.7,171.8 459.0,172.2 459.3,171.8 459.6,165.1 459.9,170.8 460.2,172.8 460.5,172.0 460.8,172.5 461.1,174.0 461.4,174.0 461.7,170.4 462.0,166.8 462.3,174.4 462.6,169.6 462.9,172.0 463.2,172.9 463.5,174.3 463.8,174.0 464.2,175.0 464.5,170.7 464.8,174.3 465.1,171.8 465.4,172.4 465.7,172.5 466.0,170.6 466.3,171.3 466.6,172.4 466.9,170.9 467.2,169.6 467.5,169.7 467.8,169.1 468.1,168.2 468.4,170.8 468.7,170.7 469.0,167.7 469.3,168.6 469.6,168.2 469.9,168.4 470.2,167.4 470.5,170.6 470.8,167.6 471.1,172.3 471.4,169.7 471.7,168.3 472.0,171.7 472.3,172.5 472.6,170.5 472.9,169.5 473.2,172.3 473.5,171.2 473.8,170.3 474.1,163.3 474.4,171.0 474.7,171.3 475.0,168.1 475.3,171.3 475.6,172.9 475.9,170.8 476.2,169.4 476.5,174.0 476.8,170.2 477.1,173.0 477.4,172.5 477.7,170.8 478.0,171.3 478.3,171.2 478.7,171.1 479.0,171.0 479.3,184.2 479.7,197.3 480.0,210.5 480.3,223.7 480.7,236.8 481.0,250.0 481.3,251.4 481.6,252.8 481.9,254.2 482.2,255.5 482.5,256.9 482.8,258.3 483.2,259.7 483.5,261.1 483.8,262.5 484.1,263.8 484.4,265.2 484.7,266.6 485.0,268.0 485.3,272.4 485.7,276.8 486.0,281.2 486.4,285.6 486.7,290.0 487.0,306.0 487.3,322.0 487.7,338.0 488.0,354.0 488.3,370.0 488.8,412.0 489.1,412.0 489.4,412.0 489.7,412.0 490.0,412.0 490.3,412.0 490.6,412.0 490.9,412.0 491.2,412.0 491.5,412.0 491.8,412.0 492.1,412.0 492.4,412.0 492.7,412.0 493.0,412.0 493.3,412.0 493.6,412.0 493.9,412.0 494.2,412.0 494.5,412.0 494.8,412.0 495.1,412.0 495.4,412.0 495.7,412.0 496.0,412.0 496.3,412.0 496.6,412.0 496.9,412.0 497.2,412.0 497.5,412.0 497.8,412.0 498.1,412.0 498.4,412.0 498.7,412.0 499.0,412.0 499.3,412.0 499.6,412.0 499.9,412.0 500.2,412.0 500.5,412.0 500.8,412.0 501.1,412.0 501.4,412.0 501.7,412.0 502.0,412.0 502.3,412.0 502.6,412.0 502.9,412.0 503.2,412.0 503.5,412.0 503.8,412.0 504.1,412.0 504.4,412.0 504.7,412.0 505.0,412.0 505.3,412.0 505.6,412.0 505.9,412.0 506.2,412.0 506.5,412.0 506.8,412.0 507.1,412.0 507.4,412.0 507.7,412.0 508.0,412.0 508.3,412.0 508.6,412.0 508.9,412.0 509.2,412.0 509.5,412.0 509.8,412.0 510.1,412.0 510.4,412.0 510.7,412.0 511.0,412.0 511.3,412.0 511.6,412.0 511.9,412.0 512.2,412.0 512.5,412.0 512.8,412.0 513.1,412.0 513.4,412.0 513.7,412.0 514.0,412.0 514.3,412.0 514.6,412.0 514.9,412.0 515.2,412.0 515.5,412.0 515.8,412.0 516.1,412.0 516.4,412.0 516.7,412.0 517.0,412.0 517.3,412.0 517.6,412.0 517.9,412.0 518.2,412.0 518.5,412.0 518.8,412.0 519.1,412.0 519.4,412.0 519.7,412.0 520.0,412.0 520.3,412.0 520.6,412.0 520.9,412.0 521.2,412.0 521.5,412.0 521.8,412.0 522.1,412.0 522.4,412.0 522.7,412.0 523.0,412.0 523.3,412.0 523.6,412.0 523.9,412.0 524.2,412.0 524.5,412.0 524.8,412.0 525.1,412.0 525.4,412.0 525.7,412.0 526.0,412.0 526.3,412.0 526.6,412.0 526.9,412.0 527.2,412.0 527.6,412.0 527.9,412.0 528.2,412.0 528.5,412.0 528.8,412.0 529.1,412.0 529.4,412.0 529.7,412.0 530.0,412.0 530.3,412.0 530.6,412.0 530.9,412.0 531.2,412.0 531.5,412.0 531.8,412.0 532.1,412.0 532.4,412.0 532.7,412.0 533.0,412.0 533.3,412.0 533.6,412.0 533.9,412.0 534.2,412.0 534.5,412.0 534.8,412.0 535.1,412.0 535.4,412.0 535.7,412.0 536.0,412.0 536.3,412.0 536.6,412.0 536.9,412.0 537.2,412.0 537.5,412.0 537.8,412.0 538.1,412.0 538.4,412.0 538.7,412.0 539.0,412.0 539.3,412.0 539.6,412.0 539.9,412.0 540.2,412.0 540.5,412.0 540.8,412.0 541.1,412.0 541.4,412.0 541.7,412.0 542.0,412.0 542.3,412.0 542.6,412.0 542.9,412.0 543.2,412.0 543.5,412.0 543.8,412.0 544.1,412.0 544.4,412.0 544.7,412.0 545.0,412.0 545.3,412.0 545.6,412.0 545.9,412.0 546.2,412.0 546.5,412.0 546.8,412.0 547.1,412.0 547.4,412.0 547.7,412.0 548.0,412.0 548.3,412.0 548.6,412.0 548.9,412.0 549.2,412.0 549.5,412.0 549.8,412.0 550.1,412.0 550.4,412.0 550.7,412.0 551.0,412.0 551.3,412.0 551.6,412.0 551.9,412.0 552.2,412.0 552.5,412.0 552.8,412.0 553.1,412.0 553.4,412.0 553.7,412.0 554.0,412.0 554.3,412.0 554.6,412.0 554.9,412.0 555.2,412.0 555.5,412.0 555.8,412.0 556.1,412.0 556.4,412.0 556.7,412.0 557.0,412.0 557.3,412.0 557.6,412.0 557.9,412.0 558.2,412.0 558.5,412.0 558.8,412.0 559.1,412.0 559.4,412.0 559.7,412.0 560.0,412.0 560.3,412.0 560.6,412.0 560.9,412.0 561.2,412.0 561.5,412.0 561.8,412.0 562.1,412.0 562.4,412.0 562.7,412.0 563.0,412.0 563.3,412.0 563.6,412.0 563.9,412.0 564.2,412.0 564.5,412.0 564.8,412.0 565.1,412.0 565.4,412.0 565.7,412.0 566.0,412.0" stroke="#377EB8"/>
<path d="M71.0,401.0 71.3,401.6 71.6,400.5 71.9,401.4 72.2,401.0 72.5,400.3 72.8,402.2 73.1,400.9 73.4,402.2 73.7,400.8 74.0,402.4 74.3,400.1 74.6,400.1 74.9,401.5 75.2,401.3 75.5,400.1 75.8,401.2 76.1,402.6 76.4,400.6 76.7,401.0 77.0,402.3 77.3,400.5 77.6,401.5 77.9,400.2 78.2,400.6 78.5,399.8 78.8,395.4 79.1,401.5 79.4,403.3 79.7,401.0 80.0,400.5 80.3,400.7 80.6,400.5 80.9,400.4 81.2,401.2 81.5,402.4 81.8,401.7 82.1,402.6 82.4,400.7 82.7,401.3 83.0,403.2 83.3,401.5 83.6,398.4 83.9,401.9 84.2,401.5 84.5,403.8 84.8,402.8 85.1,402.5 85.4,401.8 85.7,401.0 86.0,403.1 86.3,402.8 86.6,401.6 86.9,401.9 87.2,400.3 87.5,401.6 87.8,402.4 88.1,402.4 88.4,401.5 88.7,401.1 89.0,401.5 89.3,402.9 89.6,403.3 89.9,403.7 90.2,401.5 90.5,402.6 90.8,399.5 91.1,401.1 91.4,403.8 91.7,403.8 92.0,403.3 92.3,403.3 92.6,403.1 92.9,402.4 93.2,402.6 93.5,401.5 93.8,402.7 94.1,403.0 94.4,402.0 94.7,401.4 95.0,402.5 95.3,402.1 95.6,402.0 95.9,401.8 96.2,399.3 96.5,402.0 96.8,402.9 97.1,401.7 97.4,402.8 97.7,402.1 98.0,402.4 98.3,402.9 98.6,403.5 98.9,402.3 99.2,403.2 99.5,403.2 99.8,403.5 100.1,403.4 100.4,401.7 100.7,402.1 101.0,403.1 101.3,402.9 101.6,403.4 101.9,403.3 102.2,402.6 102.5,403.0 102.8,403.3 103.1,403.2 103.4,403.0 103.8,402.6 104.1,403.3 104.4,402.2 104.7,402.7 105.0,403.0 105.3,403.3 105.6,403.5 105.9,403.2 106.2,403.2 106.5,402.7 106.8,403.9 107.1,402.6 107.4,404.1 107.7,403.3 108.0,404.1 108.3,403.0 108.6,402.2 108.9,402.1 109.2,403.7 109.5,403.4 109.8,402.7 110.1,402.3 110.4,402.4 110.7,403.5 111.0,402.6 111.3,403.0 111.6,403.4 111.9,403.6 112.2,403.3 112.5,403.4 112.8,402.9 113.1,402.9 113.4,403.2 113.7,402.9 114.0,403.7 114.3,403.9 114.6,402.2 114.9,402.8 115.2,403.4 115.5,403.1 115.8,402.6 116.1,401.0 116.4,402.9 116.7,403.4 117.0,404.2 117.3,403.7 117.6,403.2 117.9,402.7 118.2,403.9 118.5,402.8 118.8,402.6 119.1,403.5 119.4,402.9 119.7,404.5 120.0,403.3 120.3,403.0 120.6,403.8 120.9,403.1 121.2,403.0 121.6,404.2 121.9,403.7 122.2,403.4 122.5,402.8 122.8,402.7 123.1,404.0 123.4,403.4 123.7,403.1 124.0,404.2 124.3,403.2 124.6,402.7 124.9,403.9 125.2,402.7 125.5,403.7 125.8,403.2 126.1,402.4 126.4,404.7 126.7,404.1 127.0,403.6 127.3,403.5 127.6,403.8 127.9,404.8 128.2,404.6 128.5,404.1 128.8,404.8 129.1,403.4 129.4,403.7 129.7,403.7 130.0,403.7 130.3,404.0 130.6,403.5 130.9,403.8 131.2,404.0 131.5,403.6 131.8,404.1 132.1,403.8 132.4,403.5 132.7,404.1 133.0,403.6 133.3,403.4 133.6,403.9 133.9,403.7 134.2,403.5 134.5,404.3 134.8,403.6 135.1,403.5 135.4,404.1 135.7,403.7 136.0,403.7 136.3,403.5 136.6,404.1 136.9,404.2 137.2,403.9 137.5,403.8 137.8,404.0 138.1,404.2 138.4,403.8 138.7,404.0 139.0,403.7 139.3,403.8 139.6,403.4 139.9,403.7 140.2,403.9 140.5,403.7 140.8,403.8 141.1,403.9 141.4,403.7 141.7,404.0 142.0,403.9 142.3,404.0 142.6,403.4 142.9,403.4 143.2,403.7 143.5,403.6 143.8,404.2 144.1,403.6 144.4,404.0 144.7,404.1 145.0,404.0 145.3,403.6 145.6,403.8 145.9,404.2 146.2,403.7 146.5,403.7 146.8,404.2 147.1,403.7 147.4,404.0 147.7,404.0 148.0,403.7 148.3,403.9 148.6,403.8 148.9,404.4 149.2,404.2 149.5,403.8 149.8,403.9 150.1,404.0 150.4,403.9 150.7,404.0 151.0,404.5 151.3,404.4 151.6,404.1 151.9,404.2 152.2,403.8 152.5,403.8 152.8,402.8 153.1,404.2 153.4,403.7 153.7,404.3 154.0,404.0 154.3,403.7 154.6,404.0 154.9,403.9 155.2,404.3 155.5,404.3 155.8,403.8 156.1,404.3 156.4,404.0 156.7,404.2 157.0,404.1 157.3,404.1 157.6,404.1 157.9,404.0 158.2,403.8 158.5,403.7 158.8,404.1 159.1,403.8 159.4,404.2 159.7,403.8 160.0,404.0 160.3,404.0 160.6,403.9 160.9,404.1 161.2,404.0 161.5,404.0 161.8,404.0 162.1,403.9 162.4,403.9 162.7,403.9 163.0,404.0 163.3,404.0 163.6,404.0 163.9,403.9 164.2,404.0 164.5,403.7 164.8,403.7 165.1,403.9 165.4,404.0 165.7,404.0 166.0,404.0 166.3,404.1 166.6,403.9 166.9,404.0 167.2,404.0 167.5,404.0 167.8,404.0 168.1,404.0 168.4,404.1 168.7,403.9 169.0,404.0 169.3,404.1 169.6,404.1 169.9,404.0 170.2,404.0 170.5,403.9 170.8,403.9 171.1,404.1 171.4,404.0 171.7,403.9 172.0,403.9 172.3,404.0 172.6,404.1 172.9,404.1 173.2,404.0 173.5,404.1 173.8,404.1 174.1,404.1 174.4,404.1 174.8,404.1 175.1,404.0 175.4,404.1 175.7,403.9 176.0,404.0 176.3,403.9 176.6,404.0 176.9,403.9 177.2,404.1 177.5,404.0 177.8,404.1 178.1,404.0 178.4,404.1 178.7,403.9 179.0,404.1 179.3,404.0 179.6,404.0 179.9,404.0 180.2,404.1 180.5,404.1 180.8,404.0 181.1,404.1 181.4,404.0 181.7,404.0 182.0,403.9 182.3,403.9 182.6,404.0 182.9,404.0 183.2,404.1 183.5,404.1 183.8,404.1 184.1,404.0 184.4,404.1 184.7,403.9 185.0,404.1 185.3,403.9 185.6,404.0 185.9,404.0 186.2,403.9 186.5,403.9 186.8,404.0 187.1,403.9 187.4,403.9 187.7,404.0 188.0,403.9 188.3,404.0 188.6,404.0 188.9,404.1 189.2,404.0 189.5,404.0 190.0,401.5 190.5,404.0 190.8,404.0 191.1,404.0 191.4,404.0 191.7,404.0 192.0,404.0 192.3,404.0 192.6,404.0 192.9,404.0 193.2,404.0 193.5,404.0 193.8,404.0 194.1,404.0 194.4,404.0 194.7,404.0 195.0,404.0 195.3,404.0 195.6,404.0 195.9,404.0 196.2,404.0 196.5,404.0 196.8,404.0 197.1,404.0 197.4,404.0 197.7,404.0 198.0,404.0 198.3,404.0 198.6,404.0 198.9,404.0 199.2,404.0 199.5,404.0 199.8,404.0 200.1,404.0 200.4,404.0 200.7,404.0 201.0,404.0 201.3,404.0 201.6,404.0 201.9,404.0 202.2,404.0 202.5,404.0 202.8,404.0 203.1,404.0 203.4,404.0 203.7,404.0 204.0,404.0 204.3,404.0 204.6,404.0 204.9,404.0 205.2,404.0 205.5,404.0 205.8,404.0 206.1,404.0 206.4,404.0 206.7,404.0 207.0,404.0 207.3,404.0 207.6,404.0 207.9,404.0 208.2,404.0 208.5,404.0 208.8,404.0 209.1,404.0 209.4,404.0 209.7,404.0 210.0,404.0 210.3,403.4 210.7,402.9 211.0,402.3 211.3,402.6 211.7,402.9 212.0,403.1 212.3,403.4 212.7,403.7 213.0,404.0 213.3,404.0 213.6,404.0 213.9,404.0 214.2,404.0 214.5,404.0 214.8,404.0 215.1,404.0 215.4,404.0 215.7,404.0 216.0,404.0 216.3,404.0 216.6,404.0 216.9,404.0 217.2,404.0 217.5,404.0 217.8,404.0 218.1,404.0 218.4,404.0 218.7,404.0 219.0,404.0 219.3,404.0 219.6,404.0 219.9,404.0 220.2,404.0 220.5,404.0 220.8,404.0 221.1,404.0 221.4,404.0 221.7,404.0 222.0,404.0 222.3,404.0 222.6,404.0 222.9,404.0 223.2,404.0 223.5,404.0 223.8,404.0 224.1,404.0 224.4,404.0 224.7,404.0 225.0,404.0 225.3,404.0 225.6,404.0 225.9,404.0 226.2,404.0 226.5,404.0 226.8,404.0 227.1,404.0 227.4,404.0 227.7,404.0 228.0,404.0 228.3,404.0 228.6,404.0 228.9,404.0 229.2,404.0 229.5,404.0 229.8,404.0 230.1,404.0 230.4,404.0 230.7,404.0 231.0,404.0 231.3,404.0 231.6,404.0 231.9,404.0 232.2,404.0 232.5,404.0 232.8,404.0 233.1,404.0 233.4,404.0 233.7,404.0 234.0,404.0 234.3,404.0 234.6,404.0 234.9,404.0 235.2,404.0 235.5,404.0 235.8,404.0 236.1,404.0 236.4,404.0 236.7,404.0 237.0,404.0 237.3,404.0 237.6,404.0 237.9,404.0 238.2,404.0 238.5,404.0 238.8,404.0 239.1,404.0 239.4,404.0 239.7,404.0 240.0,404.0 240.3,404.0 240.6,404.0 240.9,404.0 241.2,404.0 241.5,404.0 241.8,403.1 242.2,402.2 242.5,401.3 242.8,401.8 243.2,402.2 243.5,402.6 243.8,403.1 244.2,403.6 244.5,404.0 244.8,404.0 245.1,404.0 245.4,404.0 245.7,404.0 246.1,404.0 246.4,404.0 246.7,404.0 247.0,404.0 247.3,404.0 247.7,403.1 248.0,402.3 248.3,402.9 248.7,403.4 249.0,404.0 249.3,404.0 249.6,404.0 249.9,404.0 250.2,404.0 250.5,404.0 250.8,404.0 251.1,404.0 251.4,404.0 251.7,404.0 252.0,404.0 252.3,404.0 252.6,404.0 252.9,404.0 253.2,404.0 253.5,404.0 253.8,404.0 254.1,404.0 254.4,404.0 254.7,404.0 255.0,404.0 255.3,404.0 255.6,404.0 255.9,404.0 256.2,404.0 256.5,404.0 256.8,404.0 257.1,404.0 257.4,404.0 257.7,404.0 258.0,404.0 258.3,404.0 258.6,404.0 258.9,404.0 259.2,404.0 259.6,404.0 259.9,404.0 260.2,404.0 260.5,404.0 260.8,404.0 261.1,404.0 261.4,404.0 261.7,404.0 262.0,404.0 262.3,404.0 262.6,404.0 262.9,404.0 263.2,404.0 263.5,404.0 263.8,404.0 264.1,404.0 264.4,404.0 264.7,404.0 265.0,404.0 265.3,404.0 265.6,404.0 265.9,404.0 266.2,404.0 266.5,404.0 266.8,404.0 267.1,404.0 267.4,404.0 267.7,404.0 268.0,404.0 268.3,404.0 268.6,404.0 268.9,404.0 269.2,404.0 269.5,404.0 269.8,404.0 270.1,404.0 270.4,404.0 270.7,404.0 271.0,404.0 271.3,404.0 271.6,404.0 271.9,404.0 272.2,404.0 272.5,404.0 272.8,404.0 273.1,404.0 273.4,404.0 273.7,404.0 274.0,404.0 274.3,404.0 274.6,404.0 274.9,404.0 275.2,404.0 275.5,404.0 275.8,404.0 276.1,404.0 276.4,404.0 276.7,404.0 277.0,404.0 277.3,404.0 277.6,404.0 277.9,404.0 278.2,404.0 278.5,404.0 278.8,404.0 279.1,404.0 279.4,404.0 279.8,404.0 280.1,404.0 280.4,404.0 280.7,404.0 281.0,404.0 281.3,404.0 281.6,404.0 281.9,404.0 282.2,404.0 282.5,404.0 282.8,404.0 283.1,404.0 283.4,404.0 283.7,404.0 284.0,404.0 284.3,404.0 284.6,404.0 284.9,404.0 285.2,404.0 285.5,404.0 285.8,404.0 286.1,404.0 286.4,404.0 286.7,404.0 287.0,404.0 287.3,404.0 287.6,404.0 287.9,404.0 288.2,404.0 288.5,404.0 288.8,404.0 289.1,404.0 289.4,404.0 289.7,404.0 290.0,404.0 290.4,404.0 290.8,404.0 291.1,352.0 291.5,300.0 291.8,296.0 292.1,292.0 292.4,288.0 292.8,284.0 293.1,280.0 293.4,276.0 293.7,272.0 294.0,268.0 294.3,264.0 294.7,260.0 295.0,256.0 295.3,255.3 295.6,254.6 295.9,253.9 296.2,253.2 296.5,252.5 296.8,252.7 297.1,252.3 297.4,252.8 297.7,253.2 298.0,253.2 298.3,252.3 298.6,252.3 298.9,252.1 299.2,251.8 299.5,252.5 299.8,252.7 300.1,251.9 300.4,252.0 300.7,252.2 301.0,252.6 301.3,252.2 301.6,252.6 301.9,252.0 302.2,251.4 302.5,252.5 302.8,252.3 303.1,252.0 303.4,252.0 303.8,252.4 304.1,251.4 304.4,251.8 304.7,251.5 305.0,251.8 305.3,251.2 305.6,251.9 305.9,251.6 306.2,251.6 306.5,251.2 306.8,250.8 307.1,251.0 307.4,251.7 307.7,251.5 308.0,251.0 308.3,250.8 308.6,251.4 308.9,251.9 309.2,252.5 309.5,251.3 309.8,251.5 310.1,251.4 310.4,251.1 310.7,252.3 311.0,251.5 311.3,251.1 311.6,250.7 311.9,250.4 312.2,250.0 312.5,249.6 312.9,249.2 313.2,248.8 313.5,248.4 313.8,248.1 314.1,247.7 314.4,247.3 314.7,247.6 315.0,247.2 315.3,246.8 315.6,247.8 315.9,247.5 316.2,248.1 316.5,247.9 316.8,247.6 317.2,248.1 317.5,248.1 317.8,247.6 318.1,247.1 318.4,248.0 318.7,246.9 319.0,247.0 319.3,246.8 319.6,247.4 319.9,247.4 320.2,247.2 320.5,247.1 320.8,246.8 321.1,247.6 321.4,246.8 321.7,247.4 322.0,247.8 322.4,247.0 322.7,247.4 323.0,247.7 323.3,247.3 323.6,247.3 323.9,247.8 324.2,247.1 324.5,246.9 324.8,247.3 325.1,249.3 325.4,251.2 325.7,253.2 326.1,255.1 326.4,257.1 326.7,259.0 327.0,261.0 327.3,262.7 327.7,264.3 328.0,266.0 328.3,267.7 328.7,269.3 329.0,271.0 329.3,271.4 329.6,271.8 329.9,272.2 330.2,272.6 330.5,273.0 330.8,273.4 331.1,273.8 331.4,274.2 331.7,274.6 332.0,275.0 332.3,276.2 332.6,274.6 332.9,276.1 333.2,276.4 333.5,274.8 333.8,276.4 334.1,274.6 334.4,276.0 334.7,273.7 335.0,275.2 335.3,273.7 335.6,276.4 335.9,275.8 336.2,274.1 336.5,274.5 336.8,275.1 337.1,274.5 337.4,273.8 337.7,275.4 338.0,275.1 338.3,274.5 338.6,276.0 338.9,274.2 339.2,273.9 339.5,274.6 339.8,274.1 340.1,276.2 340.4,274.7 340.7,275.6 341.0,275.8 341.3,273.9 341.6,276.1 341.9,274.4 342.2,275.9 342.5,276.4 342.8,273.8 343.1,274.3 343.4,275.8 343.7,274.6 344.0,275.1 344.3,275.1 344.6,276.4 344.9,276.1 345.2,275.7 345.5,274.7 345.8,275.7 346.1,275.6 346.4,275.9 346.7,273.1 347.0,275.9 347.3,275.8 347.6,274.6 347.9,273.6 348.2,275.0 348.5,276.4 348.8,274.9 349.1,274.5 349.4,275.0 349.7,276.1 350.0,274.3 350.3,274.6 350.6,275.8 350.9,275.0 351.2,276.1 351.5,276.4 351.8,276.5 352.1,276.5 352.4,274.8 352.7,275.1 353.0,274.8 353.3,274.9 353.6,275.6 353.9,276.6 354.2,274.0 354.5,275.3 354.8,276.0 355.1,274.6 355.4,275.2 355.7,275.7 356.0,275.8 356.3,276.1 356.6,276.2 356.9,274.7 357.2,273.7 357.5,276.2 357.8,273.6 358.1,275.9 358.4,274.5 358.7,275.0 359.0,273.4 359.3,276.2 359.6,275.9 359.9,276.2 360.2,273.9 360.5,275.2 360.8,274.8 361.1,273.9 361.4,276.1 361.7,274.8 362.0,274.5 362.3,274.8 362.6,274.4 362.9,274.9 363.2,275.8 363.5,274.6 363.8,274.7 364.1,274.0 364.4,273.6 364.7,273.9 365.0,273.7 365.3,276.3 365.6,274.7 365.9,272.2 366.2,273.7 366.5,275.5 366.8,274.6 367.1,276.0 367.4,273.7 367.7,275.4 368.0,274.2 368.3,274.8 368.6,275.6 368.9,275.0 369.2,273.9 369.5,276.1 369.8,275.9 370.1,274.9 370.4,273.8 370.7,275.2 371.0,270.0 371.3,274.8 371.6,275.0 371.9,275.4 372.2,274.9 372.5,274.5 372.8,275.7 373.1,275.6 373.4,275.8 373.7,276.1 374.0,274.5 374.3,275.2 374.6,274.7 374.9,275.3 375.2,274.3 375.5,273.9 375.8,274.4 376.1,274.5 376.4,275.3 376.7,276.1 377.0,274.3 377.3,274.2 377.6,275.5 377.9,275.2 378.2,276.3 378.5,271.9 378.8,275.2 379.1,274.2 379.4,276.0 379.7,275.2 380.0,276.2 380.3,274.5 380.6,275.3 380.9,276.0 381.2,275.2 381.5,276.0 381.8,274.7 382.1,275.1 382.4,273.9 382.7,273.7 383.0,276.1 383.3,276.0 383.6,275.5 383.9,274.5 384.2,275.6 384.5,275.3 384.8,276.3 385.1,275.8 385.4,276.1 385.7,275.6 386.0,276.3 386.3,276.2 386.6,276.0 386.9,276.2 387.2,276.3 387.5,276.5 387.8,275.4 388.1,276.6 388.4,275.5 388.7,271.6 389.0,276.3 389.3,275.0 389.6,276.1 389.9,274.2 390.2,276.3 390.5,274.7 390.8,273.1 391.1,276.8 391.4,276.6 391.7,274.0 392.0,275.8 392.3,274.1 392.6,275.5 392.9,274.1 393.2,273.6 393.5,275.2 393.8,274.0 394.1,273.9 394.4,275.1 394.7,275.1 395.0,275.3 395.3,274.5 395.6,274.5 395.9,274.8 396.2,275.8 396.5,275.5 396.8,275.5 397.1,274.4 397.4,276.2 397.7,275.5 398.0,276.0 398.3,274.4 398.6,274.9 398.9,276.1 399.2,274.3 399.5,276.2 399.8,275.0 400.1,275.7 400.4,274.2 400.7,274.6 401.0,274.3 401.3,276.9 401.6,276.6 401.9,275.0 402.2,276.0 402.5,276.6 402.8,275.6 403.1,276.9 403.4,275.5 403.7,275.5 404.0,275.5 404.3,274.8 404.6,275.9 404.9,274.3 405.2,274.5 405.5,275.7 405.8,274.1 406.1,275.0 406.4,275.0 406.7,273.7 407.0,275.5 407.3,274.8 407.6,274.6 407.9,276.2 408.2,274.4 408.5,274.1 408.8,275.0 409.1,273.6 409.4,273.8 409.7,274.6 410.0,275.2 410.3,274.6 410.6,273.9 410.9,273.3 411.2,272.6 411.5,272.0 411.9,236.0 412.4,200.0 412.7,191.0 413.0,182.0 413.3,183.6 413.6,182.3 413.9,183.3 414.2,181.3 414.5,180.5 414.8,182.7 415.2,182.2 415.5,181.4 415.8,180.7 416.1,179.9 416.4,182.3 416.7,182.4 417.0,181.9 417.3,182.2 417.6,180.3 417.9,181.5 418.2,182.6 418.5,182.2 418.8,180.8 419.2,181.9 419.5,181.1 419.8,180.3 420.1,182.3 420.4,181.5 420.7,181.2 421.0,181.3 421.3,180.0 421.6,179.4 421.9,179.2 422.2,184.1 422.5,185.0 422.8,182.0 423.1,180.8 423.4,183.1 423.7,188.7 424.0,180.1 424.3,179.9 424.6,169.6 424.9,182.3 425.2,182.0 425.5,178.9 425.8,180.6 426.1,178.9 426.4,183.7 426.7,184.5 427.0,183.4 427.3,179.4 427.6,179.9 427.9,183.2 428.2,171.2 428.5,184.9 428.8,181.7 429.1,180.9 429.4,179.2 429.7,179.9 430.0,180.3 430.3,178.6 430.6,178.3 430.9,172.4 431.2,177.8 431.5,179.7 431.8,183.1 432.1,178.1 432.4,183.3 432.7,182.7 433.0,178.8 433.3,179.0 433.6,181.0 433.9,180.4 434.2,178.4 434.5,182.2 434.8,182.7 435.1,181.5 435.4,182.7 435.7,178.7 436.0,180.6 436.3,178.5 436.6,178.2 436.9,178.6 437.2,184.4 437.5,179.0 437.8,180.3 438.1,178.8 438.4,180.7 438.7,184.1 439.0,180.3 439.3,181.8 439.6,179.0 439.9,183.5 440.2,181.8 440.5,183.5 440.8,180.1 441.1,178.9 441.4,181.5 441.7,179.1 442.0,185.5 442.3,178.7 442.6,176.3 442.9,179.1 443.2,179.0 443.5,183.6 443.8,179.1 444.1,178.9 444.4,183.0 444.7,182.2 445.0,184.6 445.3,183.2 445.6,178.3 445.9,182.3 446.2,179.1 446.5,179.0 446.8,182.4 447.1,179.5 447.4,178.8 447.7,180.9 448.0,184.1 448.3,182.9 448.6,179.9 448.9,180.3 449.2,183.2 449.5,182.7 449.8,184.4 450.1,183.7 450.4,184.4 450.7,180.7 451.0,184.2 451.3,179.0 451.6,185.5 451.9,181.9 452.2,179.9 452.5,178.5 452.8,184.2 453.1,180.4 453.4,182.1 453.7,177.6 454.0,184.3 454.3,178.6 454.6,181.0 454.9,183.1 455.2,181.5 455.5,185.2 455.8,181.4 456.1,184.9 456.4,181.6 456.7,178.7 457.0,180.1 457.3,180.4 457.6,182.2 457.9,181.8 458.2,184.1 458.5,179.1 458.8,184.6 459.1,180.6 459.4,181.6 459.7,183.3 460.0,184.4 460.3,184.2 460.6,181.6 460.9,181.0 461.2,181.2 461.5,184.4 461.8,179.1 462.1,179.7 462.4,181.5 462.7,180.3 463.0,182.5 463.3,184.1 463.6,178.4 463.9,184.9 464.2,184.2 464.5,184.1 464.8,180.9 465.1,178.3 465.4,179.3 465.7,182.1 466.0,182.5 466.3,178.9 466.6,180.7 466.9,179.7 467.2,179.2 467.5,183.7 467.8,180.9 468.1,180.0 468.4,183.9 468.7,183.0 469.0,180.3 469.3,184.7 469.6,182.3 469.9,178.8 470.2,178.2 470.5,191.1 470.8,182.4 471.1,180.3 471.4,183.1 471.7,181.9 472.0,186.2 472.3,182.7 472.6,185.2 472.9,180.3 473.2,172.6 473.5,182.2 473.8,180.1 474.1,178.5 474.4,181.0 474.7,173.9 475.0,183.0 475.3,178.2 475.6,180.0 475.9,179.9 476.2,181.6 476.5,180.1 476.8,178.3 477.1,182.8 477.4,180.7 477.7,182.9 478.0,181.3 478.3,180.9 478.7,180.4 479.0,180.0 479.3,192.5 479.7,205.0 480.0,217.5 480.3,230.0 480.7,242.5 481.0,255.0 481.3,257.6 481.6,260.2 481.9,262.9 482.2,265.5 482.5,268.1 482.8,270.8 483.1,273.4 483.4,276.0 483.7,278.6 484.0,281.2 484.3,283.9 484.6,286.5 484.9,289.1 485.2,291.8 485.5,294.4 485.8,297.0 486.1,302.2 486.5,307.4 486.8,312.6 487.2,317.8 487.5,323.0 487.8,332.4 488.1,341.8 488.4,351.2 488.7,360.6 489.0,370.0 489.3,403.8 489.6,403.8 489.9,403.8 490.2,403.8 490.5,403.8 490.8,403.8 491.1,403.8 491.4,403.8 491.7,403.8 492.0,403.8 492.3,403.8 492.6,403.8 492.9,403.8 493.2,403.8 493.5,403.8 493.8,403.8 494.1,403.8 494.4,403.8 494.7,403.8 495.0,403.8 495.3,403.8 495.6,403.8 495.9,403.8 496.2,403.8 496.5,403.8 496.8,403.8 497.1,403.8 497.4,403.8 497.7,403.8 498.0,403.8 498.3,403.8 498.6,403.8 498.9,403.8 499.2,403.8 499.5,403.8 499.8,403.8 500.1,403.8 500.4,403.8 500.7,403.8 501.0,403.8 501.3,403.8 501.6,403.8 501.9,403.8 502.2,403.8 502.5,403.8 502.8,403.8 503.1,403.8 503.4,403.8 503.7,403.8 504.0,403.8 504.3,403.8 504.6,403.8 504.9,403.8 505.2,403.8 505.5,403.8 505.8,403.8 506.1,403.8 506.4,403.8 506.7,403.8 507.0,403.8 507.3,403.8 507.6,403.8 507.9,403.8 508.2,403.8 508.6,403.8 508.9,403.8 509.2,403.8 509.5,403.8 509.8,403.8 510.1,403.8 510.4,403.8 510.7,403.8 511.0,403.8 511.3,403.8 511.6,403.8 511.9,403.8 512.2,403.8 512.5,403.8 512.8,403.8 513.1,403.8 513.4,403.8 513.7,403.8 514.0,403.8 514.3,403.8 514.6,403.8 514.9,403.8 515.2,403.8 515.5,403.8 515.8,403.8 516.1,403.8 516.4,403.8 516.7,403.8 517.0,403.8 517.3,403.8 517.6,403.8 517.9,403.8 518.2,403.8 518.5,403.8 518.8,403.8 519.1,403.8 519.4,403.8 519.7,403.8 520.0,403.8 520.3,403.8 520.6,403.8 520.9,403.8 521.2,403.8 521.5,403.8 521.8,403.8 522.1,403.8 522.4,403.8 522.7,403.8 523.0,403.8 523.3,403.8 523.6,403.8 523.9,403.8 524.2,403.8 524.5,403.8 524.8,403.8 525.1,403.8 525.4,403.8 525.7,403.8 526.0,403.8 526.3,403.8 526.6,403.8 526.9,403.8 527.2,403.8 527.5,403.8 527.8,403.8 528.1,403.8 528.4,403.8 528.7,403.8 529.0,403.8 529.3,403.8 529.6,403.8 529.9,403.8 530.2,403.8 530.5,403.8 530.8,403.8 531.1,403.8 531.4,403.8 531.7,403.8 532.0,403.8 532.3,403.8 532.6,403.8 532.9,403.8 533.2,403.8 533.5,403.8 533.8,403.8 534.1,403.8 534.4,403.8 534.7,403.8 535.0,403.8 535.3,403.8 535.6,403.8 535.9,403.8 536.2,403.8 536.5,403.8 536.8,403.8 537.1,403.8 537.4,403.8 537.7,403.8 538.0,403.8 538.3,403.8 538.6,403.8 538.9,403.8 539.2,403.8 539.5,403.8 539.8,403.8 540.1,403.8 540.4,403.8 540.7,403.8 541.0,403.8 541.3,403.8 541.6,403.8 541.9,403.8 542.2,403.8 542.5,403.8 542.8,403.8 543.1,403.8 543.4,403.8 543.7,403.8 544.0,403.8 544.3,403.8 544.6,403.8 544.9,403.8 545.2,403.8 545.5,403.8 545.8,403.8 546.1,403.8 546.4,403.8 546.7,403.8 547.1,403.8 547.4,403.8 547.7,403.8 548.0,403.8 548.3,403.8 548.6,403.8 548.9,403.8 549.2,403.8 549.5,403.8 549.8,403.8 550.1,403.8 550.4,403.8 550.7,403.8 551.0,403.8 551.3,403.8 551.6,403.8 551.9,403.8 552.2,403.8 552.5,403.8 552.8,403.8 553.1,403.8 553.4,403.8 553.7,403.8 554.0,403.8 554.3,403.8 554.6,403.8 554.9,403.8 555.2,403.8 555.5,403.8 555.8,403.8 556.1,403.8 556.4,403.8 556.7,403.8 557.0,403.8 557.3,403.8 557.6,403.8 557.9,403.8 558.2,403.8 558.5,403.8 558.8,403.8 559.1,403.8 559.4,403.8 559.7,403.8 560.0,403.8 560.3,403.8 560.6,403.8 560.9,403.8 561.2,403.8 561.5,403.8 561.8,403.8 562.1,403.8 562.4,403.8 562.7,403.8 563.0,403.8 563.3,403.8 563.6,403.8 563.9,403.8 564.2,403.8 564.5,403.8 564.8,403.8 565.1,403.8 565.4,403.8 565.7,403.8 566.0,403.8" stroke="#4DAF4A"/>
<path d="M71.0,391.7 71.3,391.8 71.6,391.6 71.9,391.7 72.2,391.6 72.5,391.8 72.8,391.9 73.1,391.6 73.4,391.8 73.7,391.9 74.0,391.8 74.3,391.6 74.6,391.9 74.9,391.6 75.2,391.5 75.5,391.7 75.8,391.6 76.1,391.8 76.4,391.5 76.7,391.9 77.0,391.7 77.3,391.8 77.6,391.7 77.9,391.6 78.2,391.6 78.5,391.9 78.8,391.8 79.1,391.8 79.4,391.9 79.7,391.9 80.0,391.6 80.3,391.7 80.6,391.6 80.9,391.8 81.2,391.9 81.5,391.6 81.8,391.6 82.1,391.7 82.4,391.7 82.7,391.9 83.0,391.8 83.3,391.7 83.6,392.0 83.9,391.6 84.2,391.5 84.5,391.6 84.8,392.5 85.1,391.9 85.4,391.8 85.7,391.6 86.0,391.9 86.3,392.0 86.6,391.8 86.9,391.7 87.2,391.8 87.5,391.5 87.8,391.8 88.1,391.4 88.4,391.7 88.7,391.7 89.0,391.6 89.3,391.8 89.6,391.8 89.9,391.8 90.2,391.7 90.5,391.7 90.8,391.4 91.1,391.4 91.4,391.5 91.7,391.5 92.0,391.5 92.3,391.5 92.6,391.5 92.9,391.6 93.2,391.8 93.5,391.8 93.8,391.7 94.1,391.7 94.4,391.7 94.7,391.7 95.0,391.4 95.3,391.7 95.6,391.9 95.9,391.7 96.2,391.2 96.5,391.6 96.8,391.9 97.1,391.6 97.4,391.9 97.7,391.7 98.0,391.6 98.3,391.6 98.6,391.6 98.9,391.9 99.2,391.8 99.5,391.2 99.8,391.8 100.1,392.0 100.4,391.9 100.7,392.0 101.0,391.9 101.3,391.7 101.6,391.4 101.9,391.8 102.2,391.7 102.5,391.8 102.8,391.9 103.1,391.9 103.4,392.0 103.7,391.5 104.0,391.7 104.3,391.6 104.6,391.7 104.9,391.5 105.2,391.9 105.5,391.8 105.8,391.5 106.1,391.7 106.4,391.2 106.7,391.5 107.0,391.4 107.3,391.8 107.6,391.6 107.9,391.7 108.2,391.8 108.5,391.7 109.0,388.5 109.5,391.7 109.8,391.7 110.1,391.6 110.4,391.9 110.7,391.2 111.0,390.9 111.3,391.7 111.6,391.5 111.9,391.4 112.2,391.4 112.5,391.7 112.8,391.7 113.1,391.9 113.4,391.6 113.7,391.5 114.0,391.5 114.3,391.9 114.6,391.5 114.9,391.8 115.2,391.3 115.5,391.7 115.8,391.8 116.1,391.6 116.4,391.8 116.7,392.0 117.0,391.8 117.3,391.5 117.6,391.7 117.9,391.9 118.2,391.7 118.5,391.9 118.8,391.7 119.1,391.5 119.4,391.3 119.7,391.9 120.0,391.6 120.3,391.8 120.6,392.0 120.9,391.7 121.2,391.6 121.5,391.6 121.8,391.8 122.1,391.7 122.4,391.7 122.7,391.5 123.0,391.8 123.3,392.0 123.6,391.8 123.9,391.6 124.2,391.5 124.5,391.5 124.8,391.6 125.1,391.5 125.4,391.8 125.7,391.3 126.0,392.0 126.3,391.8 126.6,391.7 126.9,391.4 127.2,391.9 127.5,391.9 127.8,391.5 128.1,391.5 128.4,391.5 128.7,391.8 129.0,391.7 129.3,391.6 129.6,391.5 129.9,392.0 130.2,391.9 130.5,391.7 131.0,395.5 131.5,391.7 131.8,391.6 132.1,391.6 132.4,391.6 132.7,391.8 133.0,391.8 133.3,391.4 133.6,391.6 133.9,391.4 134.2,391.9 134.5,391.7 134.8,391.7 135.1,391.6 135.4,391.6 135.7,391.8 136.0,392.2 136.3,391.8 136.6,391.8 136.9,391.8 137.2,391.2 137.5,392.0 137.8,392.0 138.1,391.8 138.4,391.5 138.7,391.7 139.0,391.7 139.3,391.5 139.6,391.5 139.9,391.9 140.2,391.8 140.5,391.6 140.8,392.1 141.1,391.7 141.4,391.6 141.7,392.0 142.0,391.9 142.3,391.9 142.6,391.5 142.9,391.5 143.2,391.8 143.5,391.6 143.8,391.9 144.1,391.6 144.4,391.6 144.7,391.5 145.0,391.8 145.3,391.6 145.6,391.5 145.9,391.8 146.2,391.6 146.5,391.6 146.8,391.5 147.1,391.5 147.4,391.9 147.7,391.5 148.0,391.6 148.3,391.8 148.6,391.6 148.9,391.7 149.2,391.9 149.5,391.4 149.8,391.8 150.1,391.7 150.4,391.6 150.8,391.7 151.1,391.9 151.4,391.9 151.7,391.7 152.0,391.8 152.3,391.7 152.6,391.6 152.9,391.9 153.2,391.8 153.5,391.6 153.8,391.9 154.1,391.6 154.4,391.7 154.7,391.5 155.0,391.9 155.3,391.9 155.6,391.6 155.9,391.5 156.2,391.8 156.5,392.2 156.8,391.6 157.1,391.7 157.4,391.8 157.7,391.4 158.0,391.7 158.3,391.8 158.6,391.9 158.9,391.8 159.2,391.8 159.5,391.8 159.8,391.8 160.1,390.6 160.4,391.5 160.7,391.8 161.0,391.6 161.3,391.6 161.6,391.9 161.9,391.9 162.2,391.5 162.5,391.6 162.8,391.8 163.1,391.6 163.4,391.5 163.7,391.5 164.0,391.5 164.3,391.7 164.6,391.8 164.9,391.8 165.2,391.6 165.5,391.6 165.8,391.7 166.1,391.5 166.4,391.7 166.7,392.0 167.0,391.8 167.3,391.5 167.6,391.6 167.9,392.1 168.2,391.8 168.5,391.6 168.8,391.5 169.1,391.6 169.4,391.7 169.7,391.8 170.0,391.7 170.3,392.0 170.6,391.1 170.9,391.7 171.2,391.9 171.5,391.5 171.8,391.5 172.1,389.6 172.4,391.4 172.7,391.3 173.0,391.7 173.3,391.9 173.6,392.0 173.9,392.2 174.2,391.3 174.5,391.5 174.8,391.4 175.2,392.3 175.5,391.4 175.8,391.7 176.1,391.2 176.4,391.5 176.7,391.3 177.0,392.1 177.3,392.2 177.6,391.1 177.9,392.0 178.2,391.9 178.5,391.2 178.8,391.7 179.1,391.7 179.4,391.5 179.7,391.9 180.0,391.7 180.3,392.0 180.6,391.4 180.9,392.3 181.2,392.4 181.5,392.1 181.8,392.3 182.1,392.2 182.4,391.9 182.7,392.0 183.0,391.4 183.3,392.3 183.6,392.3 183.9,392.1 184.2,391.4 184.5,392.3 184.8,391.7 185.2,392.2 185.5,391.2 185.8,392.0 186.1,391.5 186.4,392.0 186.7,392.0 187.0,391.9 187.3,392.4 187.6,391.2 187.9,393.4 188.2,392.2 188.5,392.2 188.8,391.8 189.1,391.5 189.4,391.5 189.7,391.3 190.0,391.7 190.3,391.9 190.6,391.9 190.9,391.7 191.2,392.5 191.6,392.4 191.9,392.4 192.2,391.9 192.5,392.4 192.8,392.6 193.1,392.8 193.4,391.7 193.8,392.3 194.1,392.1 194.4,392.2 194.7,392.4 195.0,392.5 195.3,393.1 195.6,393.8 195.9,394.4 196.2,395.0 196.6,395.6 196.9,396.2 197.2,396.9 197.5,397.5 197.8,396.4 198.2,395.3 198.5,394.2 198.8,393.2 199.2,392.1 199.5,391.0 199.8,391.2 200.1,391.7 200.4,391.5 200.7,391.6 201.0,392.1 201.3,392.1 201.6,392.1 201.9,393.8 202.2,392.8 202.5,393.0 202.8,392.8 203.1,392.5 203.4,392.2 203.8,392.0 204.1,391.8 204.4,391.5 204.7,391.2 205.0,391.0 205.5,344.0 205.8,343.2 206.1,342.4 206.4,341.6 206.7,340.8 207.0,340.0 207.3,336.4 207.6,332.7 208.0,329.1 208.3,325.5 208.6,321.8 208.9,318.2 209.2,314.5 209.5,310.9 209.9,307.3 210.2,303.6 210.5,300.0 210.9,296.7 211.2,293.3 211.6,290.0 211.7,207.0 212.2,238.0 212.7,210.0 213.2,242.0 213.7,218.0 214.2,244.0 214.7,230.0 215.1,235.0 215.5,240.0 215.8,240.8 216.2,241.7 216.5,242.5 216.8,243.3 217.2,244.2 217.5,245.0 217.8,245.4 218.1,245.8 218.5,246.2 218.8,246.5 219.1,246.9 219.4,247.3 219.8,247.7 220.1,248.1 220.4,248.5 220.7,248.8 221.1,249.2 221.4,249.6 221.7,250.0 222.2,215.0 222.7,248.0 223.2,212.0 223.7,246.0 224.2,214.0 224.7,244.0 225.2,226.0 225.5,233.0 225.8,240.0 226.1,241.6 226.4,243.2 226.7,244.9 227.1,246.5 227.4,248.1 227.7,249.8 228.0,251.4 228.3,253.0 228.6,253.7 228.9,254.3 229.3,255.0 229.6,255.7 229.9,256.3 230.2,257.0 230.6,257.7 230.9,258.4 231.2,259.0 231.5,259.7 231.9,260.4 232.2,261.0 232.5,261.7 232.8,261.2 233.1,260.8 233.4,260.3 233.8,259.9 234.1,259.4 234.4,258.9 234.7,258.5 235.0,258.0 235.3,257.4 235.6,257.1 235.9,256.9 236.2,254.6 236.6,254.9 236.9,252.8 237.2,253.7 237.5,252.0 237.8,252.7 238.1,248.6 238.4,250.2 238.8,254.4 239.1,250.8 239.4,255.5 239.7,251.5 240.0,253.0 240.3,253.5 240.6,251.8 240.9,252.8 241.2,250.9 241.5,256.8 241.8,254.0 242.1,256.0 242.4,253.2 242.7,255.2 243.0,250.6 243.3,256.2 243.6,249.4 243.9,251.9 244.2,255.1 244.6,249.8 244.9,249.8 245.2,249.0 245.5,249.0 245.8,252.1 246.1,250.8 246.4,249.9 246.7,252.2 247.0,254.4 247.3,249.4 247.6,256.3 247.9,249.8 248.2,249.8 248.5,252.5 248.8,252.0 249.1,254.1 249.4,255.0 249.7,253.4 250.0,254.3 250.3,252.0 250.6,253.3 250.9,252.0 251.2,254.6 251.5,254.2 251.8,252.2 252.1,254.7 252.4,252.3 252.8,254.3 253.1,254.8 253.4,252.2 253.7,254.6 254.0,252.2 254.3,254.5 254.6,254.3 254.9,252.4 255.2,252.8 255.5,252.2 255.8,250.4 256.1,255.1 256.4,254.1 256.7,254.0 257.0,254.3 257.3,252.3 257.6,253.1 258.0,253.9 258.3,253.4 258.6,253.6 258.9,253.4 259.2,252.8 259.5,253.8 259.9,253.0 260.2,253.1 260.5,251.7 260.8,253.0 261.1,248.0 261.5,243.0 261.8,238.0 262.2,233.0 262.5,228.0 263.0,245.0 263.5,222.0 264.0,246.0 264.5,219.0 265.0,247.0 265.5,216.0 266.0,247.0 266.5,215.0 267.0,246.0 267.5,217.0 268.0,245.0 268.3,225.0 268.6,205.0 268.9,201.0 269.2,197.0 269.6,193.0 269.9,189.0 270.2,185.0 270.5,181.0 270.8,185.8 271.2,190.7 271.5,195.5 271.8,200.3 272.2,205.2 272.5,210.0 272.8,213.3 273.1,221.6 273.4,224.8 273.8,227.4 274.1,231.8 274.4,232.3 274.7,245.4 275.0,240.0 275.3,244.2 275.6,243.8 275.9,249.7 276.2,242.5 276.5,247.7 276.8,250.8 277.1,255.1 277.4,255.4 277.7,250.9 278.0,259.2 278.3,256.7 278.6,258.6 278.9,258.0 279.2,257.9 279.5,255.3 279.8,262.7 280.2,262.7 280.5,261.9 280.8,261.2 281.1,263.4 281.4,266.8 281.7,268.0 282.0,269.4 282.3,270.8 282.7,272.2 283.0,273.6 283.3,275.0 283.7,256.7 284.1,238.3 284.5,220.0 284.8,230.8 285.1,241.5 285.5,252.2 285.8,263.0 286.3,246.0 286.8,268.0 287.3,244.0 287.8,270.0 288.3,246.0 288.8,268.0 289.3,248.0 289.6,256.5 290.0,265.0 290.4,257.5 290.7,250.0 291.0,256.0 291.3,262.0 291.6,258.6 292.0,255.3 292.3,252.8 292.6,256.7 292.9,256.8 293.2,249.1 293.5,255.0 293.8,256.0 294.1,256.5 294.4,254.3 294.7,255.4 295.0,256.3 295.3,260.8 295.6,255.1 295.9,257.1 296.2,256.2 296.5,254.1 296.8,256.5 297.1,253.1 297.4,255.8 297.7,254.3 298.0,253.9 298.3,254.7 298.6,256.8 298.9,255.8 299.2,256.8 299.5,254.4 299.8,260.8 300.1,254.0 300.4,254.1 300.7,254.4 301.0,252.8 301.3,254.1 301.6,255.5 301.9,257.0 302.2,253.6 302.5,249.4 302.8,253.9 303.1,251.5 303.4,255.5 303.7,255.0 304.0,255.9 304.3,257.6 304.6,255.5 304.9,256.8 305.2,257.5 305.5,256.8 305.8,255.4 306.1,257.0 306.4,251.9 306.7,251.9 307.0,253.1 307.3,254.2 307.6,254.8 307.9,253.3 308.2,253.8 308.5,257.3 308.8,255.7 309.1,255.4 309.4,254.0 309.7,253.6 310.0,253.6 310.3,255.6 310.6,254.1 310.9,256.8 311.2,255.6 311.5,254.9 311.8,257.3 312.1,257.6 312.4,258.9 312.7,256.0 313.0,257.4 313.3,257.2 313.7,258.5 314.0,255.7 314.3,256.8 314.6,254.7 314.9,257.9 315.2,257.9 315.5,256.3 315.8,256.4 316.1,259.3 316.4,258.9 316.7,255.7 317.0,256.6 317.3,256.8 317.6,258.6 317.9,258.6 318.2,255.2 318.5,258.7 318.8,258.0 319.1,256.2 319.4,258.0 319.7,255.9 320.0,256.5 320.3,255.8 320.6,256.2 320.9,253.8 321.2,256.0 321.5,258.0 321.8,256.1 322.1,255.7 322.4,258.6 322.7,259.2 323.0,256.7 323.3,259.0 323.6,255.8 323.9,255.1 324.2,258.6 324.5,257.8 324.8,257.1 325.1,259.4 325.4,259.1 325.7,258.5 326.0,258.6 326.3,255.2 326.6,257.0 326.9,256.1 327.2,256.2 327.5,258.6 327.8,254.9 328.1,255.2 328.4,253.0 328.7,256.8 329.0,256.9 329.3,255.9 329.6,257.8 329.9,262.1 330.2,255.5 330.5,257.1 330.8,258.9 331.1,257.6 331.4,256.3 331.7,254.3 332.0,257.8 332.3,255.0 332.6,255.5 332.9,256.4 333.2,256.8 333.5,256.4 333.8,257.9 334.1,254.6 334.4,254.0 334.7,255.1 335.0,257.3 335.3,257.6 335.6,257.7 335.9,255.4 336.2,256.4 336.5,255.2 336.8,259.4 337.1,256.4 337.4,259.2 337.7,256.5 338.0,257.2 338.3,255.1 338.6,257.8 338.9,256.8 339.2,256.5 339.5,259.5 339.8,257.0 340.1,257.0 340.4,257.3 340.7,259.9 341.0,256.7 341.3,256.5 341.6,256.9 341.9,257.3 342.2,257.0 342.5,260.2 342.8,256.3 343.1,256.8 343.4,258.4 343.7,257.9 344.0,258.9 344.3,258.8 344.6,256.1 344.9,256.1 345.2,255.9 345.5,256.6 345.8,248.2 346.1,255.0 346.4,258.8 346.7,257.9 347.0,259.6 347.3,259.5 347.6,256.1 347.9,255.7 348.2,260.0 348.5,257.4 348.8,256.4 349.1,259.5 349.4,257.3 349.7,259.1 350.0,258.9 350.3,256.5 350.6,259.5 350.9,256.5 351.2,257.6 351.5,258.2 351.8,259.0 352.1,256.7 352.4,256.3 352.7,259.9 353.0,257.1 353.3,259.2 353.6,257.2 353.9,255.4 354.2,257.4 354.5,258.2 354.8,258.1 355.1,256.6 355.4,255.8 355.7,255.3 356.0,255.0 356.3,258.1 356.6,259.2 356.9,257.3 357.2,257.2 357.5,258.3 357.8,259.3 358.1,255.4 358.4,258.9 358.7,255.6 359.0,256.4 359.3,254.3 359.6,257.3 359.9,258.5 360.2,256.1 360.5,255.9 360.8,256.3 361.2,258.5 361.5,257.2 361.8,255.0 362.1,256.2 362.4,257.2 362.7,257.3 363.0,256.1 363.3,257.5 363.6,255.8 363.9,259.9 364.2,259.7 364.5,259.5 364.8,260.0 365.1,259.6 365.4,257.1 365.7,256.7 366.0,256.3 366.3,257.8 366.6,259.4 366.9,255.5 367.2,254.8 367.5,258.3 367.8,258.7 368.1,258.0 368.4,255.7 368.7,258.9 369.0,258.0 369.3,257.4 369.6,257.3 369.9,260.1 370.2,259.6 370.5,255.5 370.8,259.8 371.1,259.7 371.4,256.1 371.7,256.2 372.0,250.7 372.3,260.0 372.6,260.2 372.9,255.2 373.2,255.6 373.5,259.8 373.8,256.0 374.1,259.0 374.4,257.8 374.7,256.0 375.0,255.9 375.3,259.9 375.6,255.5 375.9,257.6 376.2,259.2 376.5,257.6 376.8,255.9 377.1,258.1 377.4,256.4 377.7,256.6 378.0,259.1 378.3,258.0 378.6,258.6 378.9,254.1 379.2,255.6 379.5,254.9 379.8,257.3 380.1,258.6 380.4,259.4 380.7,258.3 381.0,256.1 381.3,256.6 381.6,256.0 381.9,255.5 382.2,258.4 382.5,258.5 382.8,256.2 383.1,256.0 383.4,253.0 383.7,257.9 384.0,262.4 384.3,259.1 384.6,256.5 384.9,255.1 385.2,257.3 385.5,254.5 385.8,258.0 386.1,254.9 386.4,255.4 386.7,256.6 387.0,257.8 387.3,241.0 387.6,246.2 388.0,251.3 388.3,250.7 388.6,250.5 388.9,252.2 389.2,251.5 389.5,251.3 389.8,251.8 390.1,250.8 390.4,251.8 390.7,251.9 391.0,252.6 391.3,252.6 391.6,252.6 391.9,250.6 392.2,250.4 392.5,251.6 392.8,250.6 393.1,251.3 393.4,252.6 393.7,250.8 394.0,250.6 394.3,250.1 394.6,251.6 394.9,251.5 395.2,251.5 395.5,251.0 395.8,252.2 396.1,251.8 396.4,249.5 396.7,250.5 397.0,249.6 397.3,249.6 397.6,250.0 397.9,251.1 398.2,251.9 398.5,251.4 398.8,249.8 399.1,250.4 399.4,251.9 399.7,251.7 400.0,252.1 400.3,251.8 400.7,250.1 401.0,251.3 401.3,251.2 401.6,252.3 401.9,250.6 402.2,250.2 402.5,250.7 402.8,251.0 403.1,251.7 403.4,251.8 403.7,252.0 404.0,251.0 404.3,250.9 404.6,251.0 404.9,250.4 405.2,251.8 405.5,250.6 405.8,252.0 406.1,250.2 406.4,251.3 406.7,251.5 407.0,250.3 407.3,252.5 407.6,250.5 407.9,251.1 408.2,251.0 408.5,250.8 408.8,251.0 409.1,250.2 409.4,246.9 409.7,251.3 410.0,251.2 410.3,250.2 410.6,252.0 410.9,252.4 411.2,250.7 411.5,252.7 411.8,251.4 412.1,251.3 412.4,250.5 412.7,251.8 413.0,251.3 413.3,251.2 413.6,251.2 413.9,251.1 414.2,251.0 414.5,190.0 415.0,165.0 415.3,166.2 415.7,167.3 416.0,168.5 416.3,169.7 416.7,170.8 417.0,172.0 417.3,175.0 417.7,178.0 418.0,181.0 418.3,184.0 418.7,187.0 419.0,190.0 419.3,192.8 419.6,195.5 419.9,198.2 420.2,201.0 420.5,203.8 420.8,204.0 421.2,204.3 421.5,204.6 421.8,204.9 422.2,205.2 422.5,205.5 422.8,206.4 423.1,205.6 423.4,205.9 423.7,202.7 424.0,208.0 424.3,207.4 424.6,203.4 424.9,201.7 425.2,205.7 425.5,207.1 425.8,203.9 426.1,205.5 426.4,202.3 426.7,192.6 427.0,207.3 427.3,206.1 427.6,212.0 427.9,202.7 428.2,205.5 428.5,208.0 428.8,206.2 429.1,203.2 429.4,207.0 429.7,203.5 430.0,208.5 430.3,205.2 430.6,206.6 430.9,209.7 431.2,204.7 431.5,206.3 431.8,208.3 432.1,207.7 432.4,210.4 432.7,207.7 433.0,207.4 433.3,208.9 433.6,204.7 433.9,209.1 434.2,207.1 434.5,206.7 434.8,203.6 435.1,203.9 435.4,207.0 435.7,202.6 436.0,206.2 436.3,207.7 436.6,209.2 436.9,206.0 437.2,209.1 437.5,204.8 437.8,203.8 438.1,205.6 438.4,209.8 438.7,202.9 439.0,202.2 439.3,209.4 439.6,207.2 439.9,203.8 440.2,204.4 440.5,205.8 440.8,207.9 441.1,205.6 441.4,204.8 441.7,203.3 442.0,207.5 442.3,204.3 442.6,206.3 442.9,208.7 443.2,205.0 443.5,206.3 443.8,206.2 444.1,209.1 444.4,204.7 444.7,202.5 445.0,205.8 445.3,208.7 445.6,204.7 445.9,203.3 446.2,204.9 446.5,203.5 446.8,206.2 447.1,208.7 447.4,207.9 447.7,206.2 448.0,205.6 448.3,204.9 448.6,206.9 448.9,206.8 449.2,205.2 449.5,205.1 449.8,206.2 450.1,201.4 450.4,207.4 450.7,208.2 451.0,206.0 451.3,203.3 451.6,202.6 451.9,203.1 452.2,204.6 452.5,202.1 452.8,205.2 453.1,207.2 453.4,203.0 453.7,208.1 454.0,207.8 454.3,202.7 454.6,207.1 454.9,204.2 455.2,210.4 455.5,204.8 455.8,205.6 456.1,208.3 456.4,210.0 456.7,205.4 457.0,205.1 457.3,205.9 457.6,207.3 457.9,209.4 458.2,206.7 458.5,206.8 458.8,210.0 459.1,208.8 459.4,204.0 459.7,206.5 460.0,206.3 460.3,204.7 460.6,206.5 460.9,206.1 461.2,195.9 461.5,204.4 461.8,205.3 462.1,204.5 462.4,208.3 462.7,204.2 463.0,205.7 463.3,201.9 463.6,203.8 463.9,201.1 464.2,201.5 464.5,205.3 464.8,206.4 465.1,205.5 465.4,204.6 465.7,205.4 466.0,202.6 466.3,201.9 466.6,202.6 466.9,202.4 467.2,204.0 467.5,206.7 467.8,202.2 468.1,202.6 468.4,207.9 468.7,207.5 469.0,201.9 469.3,206.2 469.6,207.6 469.9,202.1 470.2,203.0 470.5,203.0 470.8,203.7 471.1,206.7 471.4,203.2 471.7,206.0 472.0,204.2 472.3,206.0 472.6,203.1 472.9,201.8 473.2,203.2 473.5,207.2 473.8,202.2 474.1,203.6 474.4,207.5 474.7,202.5 475.0,203.1 475.3,215.5 475.6,203.7 475.9,202.7 476.2,208.0 476.5,209.1 476.8,207.5 477.1,208.3 477.4,206.7 477.7,207.7 478.0,205.5 478.3,205.0 478.7,204.5 479.0,204.0 479.3,219.3 479.7,234.7 480.0,250.0 480.3,250.0 480.6,250.0 480.9,250.0 481.2,250.0 481.6,250.0 481.9,250.0 482.2,250.0 482.5,250.0 482.8,250.0 483.1,250.0 483.4,250.0 483.8,250.0 484.1,250.0 484.4,250.0 484.7,250.0 485.0,250.0 485.5,245.0 486.0,183.3 486.3,186.2 486.6,189.1 486.9,191.9 487.2,194.8 487.5,197.7 487.9,200.6 488.2,203.5 488.5,206.4 488.8,209.2 489.1,212.1 489.4,215.0 489.6,283.0 490.0,370.0 490.3,371.0 490.6,372.0 490.9,373.0 491.2,374.0 491.6,375.0 491.9,376.0 492.2,377.0 492.5,378.0 492.8,378.5 493.1,378.9 493.4,379.4 493.7,379.8 494.0,380.3 494.3,380.7 494.6,381.2 494.9,381.6 495.2,382.1 495.5,382.5 495.8,383.0 496.1,383.1 496.4,383.2 496.7,383.2 497.0,383.3 497.3,383.4 497.6,383.5 497.9,383.5 498.3,383.6 498.6,383.7 498.9,383.8 499.2,383.8 499.5,383.9 499.8,384.0 500.1,384.1 500.4,384.1 500.7,384.2 501.0,384.3 501.3,384.4 501.6,384.5 501.9,384.5 502.2,384.6 502.5,384.7 502.9,384.8 503.2,384.8 503.5,384.9 503.8,385.0 504.1,385.1 504.4,385.1 504.7,385.2 505.0,385.3 505.3,385.3 505.6,385.2 505.9,385.4 506.2,385.4 506.5,385.5 506.8,385.3 507.1,385.5 507.4,385.4 507.7,385.2 508.0,385.3 508.3,385.3 508.6,385.2 508.9,385.1 509.2,385.4 509.5,384.4 509.8,385.4 510.1,385.2 510.4,385.1 510.7,385.2 511.0,385.3 511.3,385.4 511.6,385.4 511.9,385.3 512.2,385.4 512.5,385.5 512.8,384.7 513.1,385.4 513.4,385.2 513.7,385.2 514.0,385.2 514.3,385.1 514.6,385.5 514.9,385.3 515.2,385.5 515.5,385.4 515.8,385.5 516.1,385.3 516.4,385.0 516.7,385.2 517.0,385.2 517.3,385.4 517.6,385.4 517.9,385.4 518.2,385.2 518.5,385.2 518.8,385.2 519.1,385.6 519.4,385.6 519.7,385.7 520.0,385.3 520.3,385.2 520.6,385.7 520.9,385.4 521.2,385.4 521.5,385.3 521.8,385.2 522.1,385.3 522.4,385.3 522.7,385.3 523.0,385.7 523.3,385.4 523.6,385.5 523.9,385.4 524.2,385.4 524.5,385.7 524.8,385.7 525.1,385.4 525.4,385.4 525.7,385.4 526.0,385.6 526.3,385.7 526.6,385.3 526.9,385.5 527.2,385.4 527.5,385.6 527.8,385.4 528.1,385.3 528.4,385.3 528.7,385.4 529.0,385.3 529.3,385.5 529.6,385.7 529.9,385.7 530.2,385.4 530.5,385.6 530.8,385.6 531.1,385.5 531.4,385.7 531.7,385.5 532.0,385.6 532.3,385.4 532.6,385.6 532.9,385.4 533.2,385.7 533.5,385.6 533.8,385.5 534.1,385.4 534.4,385.5 534.7,385.6 535.0,385.6 535.3,385.4 535.7,385.3 536.0,385.5 536.3,385.3 536.6,386.2 536.9,385.4 537.2,385.8 537.5,385.5 537.8,385.7 538.1,385.5 538.4,385.6 538.7,385.5 539.0,384.7 539.3,385.6 539.6,385.8 539.9,385.6 540.2,385.9 540.5,385.7 540.8,385.4 541.1,385.3 541.4,385.8 541.7,385.4 542.0,385.4 542.3,385.6 542.6,385.5 542.9,385.7 543.2,385.6 543.5,385.7 543.8,385.6 544.1,385.4 544.4,385.8 544.7,385.7 545.0,385.4 545.3,385.4 545.6,385.5 545.9,385.6 546.2,385.8 546.5,385.7 546.8,385.8 547.1,385.7 547.4,385.6 547.7,385.7 548.0,385.4 548.3,385.9 548.6,385.6 548.9,385.7 549.2,385.6 549.5,385.1 549.8,385.9 550.1,385.5 550.4,385.6 550.7,385.6 551.0,385.9 551.3,385.9 551.6,385.5 551.9,385.9 552.2,385.7 552.5,385.9 552.8,385.7 553.1,385.8 553.4,386.3 553.7,385.9 554.0,385.9 554.3,385.7 554.6,385.8 554.9,385.7 555.2,385.8 555.5,385.9 555.8,385.7 556.1,385.6 556.4,385.8 556.7,385.7 557.0,385.6 557.3,385.6 557.6,385.6 557.9,385.8 558.2,385.7 558.5,385.6 558.8,385.9 559.1,385.5 559.4,385.8 559.7,385.8 560.0,385.9 560.3,385.7 560.6,385.6 560.9,385.8 561.2,385.9 561.5,385.6 561.8,385.8 562.1,385.9 562.4,386.0 562.7,385.9 563.0,385.9 563.3,385.8 563.6,385.5 563.9,386.0 564.2,385.5 564.5,385.8 564.8,385.7 565.1,385.8 565.4,385.8 565.7,385.9 566.0,385.8" stroke="#984EA3"/>
<path d="M71.0,416.0 71.3,416.0 71.6,416.0 71.9,416.0 72.2,416.0 72.5,416.0 72.8,416.0 73.1,416.0 73.4,416.0 73.7,416.0 74.0,416.0 74.3,416.0 74.6,416.0 74.9,416.0 75.2,416.0 75.5,416.0 75.8,416.0 76.1,416.0 76.4,416.0 76.7,416.0 77.0,416.0 77.3,416.0 77.6,416.0 77.9,416.0 78.2,416.0 78.5,416.0 78.8,416.0 79.1,416.0 79.4,416.0 79.7,416.0 80.0,416.0 80.3,416.0 80.6,416.0 80.9,416.0 81.2,416.0 81.5,416.0 81.8,416.0 82.1,416.0 82.4,416.0 82.7,416.0 83.0,416.0 83.3,416.0 83.6,416.0 83.9,416.0 84.2,416.0 84.5,416.0 84.8,416.0 85.1,416.0 85.4,416.0 85.7,416.0 86.0,416.0 86.3,416.0 86.6,416.0 86.9,416.0 87.2,416.0 87.5,416.0 87.8,416.0 88.1,416.0 88.4,416.0 88.7,416.0 89.0,416.0 89.3,416.0 89.6,416.0 89.9,416.0 90.2,416.0 90.5,416.0 90.8,416.0 91.1,416.0 91.4,416.0 91.7,416.0 92.0,416.0 92.3,416.0 92.6,416.0 92.9,416.0 93.2,416.0 93.5,416.0 93.8,416.0 94.1,416.0 94.4,416.0 94.7,416.0 95.0,416.0 95.3,416.0 95.6,416.0 95.9,416.0 96.2,416.0 96.5,416.0 96.8,416.0 97.1,416.0 97.4,416.0 97.7,416.0 98.0,416.0 98.3,416.0 98.6,416.0 98.9,416.0 99.2,416.0 99.5,416.0 99.8,416.0 100.1,416.0 100.4,416.0 100.7,416.0 101.0,416.0 101.3,416.0 101.6,416.0 101.9,416.0 102.2,416.0 102.5,416.0 102.8,416.0 103.1,416.0 103.4,416.0 103.7,416.0 104.0,416.0 104.3,416.0 104.6,416.0 105.0,416.0 105.3,416.0 105.6,416.0 105.9,416.0 106.2,416.0 106.5,416.0 106.8,416.0 107.1,416.0 107.4,416.0 107.7,416.0 108.0,416.0 108.3,416.0 108.6,416.0 108.9,416.0 109.2,416.0 109.5,416.0 109.8,416.0 110.1,416.0 110.4,416.0 110.7,416.0 111.0,416.0 111.3,416.0 111.6,416.0 111.9,416.0 112.2,416.0 112.5,416.0 112.8,416.0 113.1,416.0 113.4,416.0 113.7,416.0 114.0,416.0 114.3,416.0 114.6,416.0 114.9,416.0 115.2,416.0 115.5,416.0 115.8,416.0 116.1,416.0 116.4,416.0 116.7,416.0 117.0,416.0 117.3,416.0 117.6,416.0 117.9,416.0 118.2,416.0 118.5,416.0 118.8,416.0 119.1,416.0 119.4,416.0 119.7,416.0 120.0,416.0 120.3,416.0 120.6,416.0 120.9,416.0 121.2,416.0 121.5,416.0 121.8,416.0 122.1,416.0 122.4,416.0 122.7,416.0 123.0,416.0 123.3,416.0 123.6,416.0 123.9,416.0 124.2,416.0 124.5,416.0 124.8,416.0 125.1,416.0 125.4,416.0 125.7,416.0 126.0,416.0 126.3,416.0 126.6,416.0 126.9,416.0 127.2,416.0 127.5,416.0 127.8,416.0 128.1,416.0 128.4,416.0 128.7,416.0 129.0,416.0 129.3,416.0 129.6,416.0 129.9,416.0 130.2,416.0 130.5,416.0 130.8,416.0 131.1,416.0 131.4,416.0 131.7,416.0 132.0,416.0 132.3,416.0 132.6,416.0 132.9,416.0 133.2,416.0 133.5,416.0 133.8,416.0 134.1,416.0 134.4,416.0 134.7,416.0 135.0,416.0 135.3,416.0 135.6,416.0 135.9,416.0 136.2,416.0 136.5,416.0 136.8,416.0 137.1,416.0 137.4,416.0 137.7,416.0 138.0,416.0 138.3,416.0 138.6,416.0 138.9,416.0 139.2,416.0 139.5,416.0 139.8,416.0 140.1,416.0 140.4,416.0 140.7,416.0 141.0,416.0 141.3,416.0 141.6,416.0 141.9,416.0 142.2,416.0 142.5,416.0 142.8,416.0 143.1,416.0 143.4,416.0 143.7,416.0 144.0,416.0 144.3,416.0 144.6,416.0 144.9,416.0 145.2,416.0 145.5,416.0 145.8,416.0 146.1,416.0 146.4,416.0 146.7,416.0 147.0,416.0 147.3,416.0 147.6,416.0 147.9,416.0 148.2,416.0 148.5,416.0 148.8,416.0 149.1,416.0 149.4,416.0 149.7,416.0 150.0,416.0 150.3,416.0 150.6,416.0 150.9,416.0 151.2,416.0 151.5,416.0 151.8,416.0 152.1,416.0 152.4,416.0 152.7,416.0 153.0,416.0 153.3,416.0 153.6,416.0 153.9,416.0 154.2,416.0 154.5,416.0 154.8,416.0 155.1,416.0 155.4,416.0 155.7,416.0 156.0,416.0 156.3,416.0 156.6,416.0 156.9,416.0 157.2,416.0 157.5,416.0 157.8,416.0 158.1,416.0 158.4,416.0 158.7,416.0 159.0,416.0 159.3,416.0 159.6,416.0 159.9,416.0 160.2,416.0 160.5,416.0 160.8,416.0 161.1,416.0 161.4,416.0 161.7,416.0 162.0,416.0 162.3,416.0 162.6,416.0 162.9,416.0 163.2,416.0 163.5,416.0 163.8,416.0 164.1,416.0 164.4,416.0 164.7,416.0 165.0,416.0 165.3,416.0 165.6,416.0 165.9,416.0 166.2,416.0 166.5,416.0 166.8,416.0 167.1,416.0 167.4,416.0 167.7,416.0 168.0,416.0 168.3,416.0 168.6,416.0 168.9,416.0 169.2,416.0 169.5,416.0 169.8,416.0 170.1,416.0 170.4,416.0 170.7,416.0 171.0,416.0 171.3,416.0 171.6,416.0 171.9,416.0 172.2,416.0 172.5,416.0 172.9,416.0 173.2,416.0 173.5,416.0 173.8,416.0 174.1,416.0 174.4,416.0 174.7,416.0 175.0,416.0 175.3,416.0 175.6,416.0 175.9,416.0 176.2,416.0 176.5,416.0 176.8,416.0 177.1,416.0 177.4,416.0 177.7,416.0 178.0,416.0 178.3,416.0 178.6,416.0 178.9,416.0 179.2,416.0 179.5,416.0 179.8,416.0 180.1,416.0 180.4,416.0 180.7,416.0 181.0,416.0 181.3,416.0 181.6,416.0 181.9,416.0 182.2,416.0 182.5,416.0 182.8,416.0 183.1,416.0 183.4,416.0 183.7,416.0 184.0,416.0 184.3,416.0 184.6,416.0 184.9,416.0 185.2,416.0 185.5,416.0 185.8,416.0 186.1,416.0 186.4,416.0 186.7,416.0 187.0,416.0 187.3,416.0 187.6,416.0 187.9,416.0 188.2,416.0 188.5,416.0 188.8,416.0 189.1,416.0 189.4,416.0 189.7,416.0 190.0,416.0 190.3,416.0 190.6,416.0 190.9,416.0 191.2,416.0 191.5,416.0 191.8,416.0 192.1,416.0 192.4,416.0 192.7,416.0 193.0,416.0 193.3,416.0 193.6,416.0 193.9,416.0 194.2,416.0 194.5,416.0 194.8,416.0 195.1,416.0 195.4,416.0 195.7,416.0 196.0,416.0 196.3,416.0 196.6,416.0 196.9,416.0 197.2,416.0 197.5,416.0 197.8,416.0 198.1,416.0 198.4,416.0 198.7,416.0 199.0,416.0 199.3,416.0 199.6,416.0 199.9,416.0 200.2,416.0 200.5,416.0 200.8,416.0 201.1,416.0 201.4,416.0 201.7,416.0 202.0,416.0 202.3,416.0 202.6,416.0 202.9,416.0 203.2,416.0 203.5,416.0 203.8,416.0 204.1,416.0 204.4,416.0 204.7,416.0 205.0,416.0 205.3,416.0 205.6,416.0 205.9,416.0 206.2,416.0 206.5,416.0 207.0,405.0 207.3,401.8 207.7,398.5 208.0,395.2 208.3,392.0 208.7,366.0 209.0,340.0 209.3,326.7 209.7,313.3 210.0,300.0 210.3,266.7 210.7,233.3 211.0,200.0 211.3,182.5 211.7,165.0 212.0,147.5 212.3,130.0 212.7,112.5 213.0,95.0 213.5,88.0 213.8,87.8 214.1,85.9 214.4,86.0 214.7,85.1 215.0,85.6 215.3,84.3 215.6,83.8 215.9,83.9 216.2,82.7 216.5,82.0 216.8,79.9 217.2,77.9 217.5,75.8 217.8,77.9 218.2,79.9 218.5,82.0 218.8,81.5 219.1,82.1 219.5,82.1 219.8,83.2 220.1,83.0 220.4,84.6 220.7,84.3 221.1,85.1 221.4,85.2 221.7,86.0 222.0,94.0 222.3,102.0 222.6,110.0 222.9,118.0 223.2,126.0 223.6,134.0 223.9,142.0 224.2,150.0 224.5,158.0 224.8,166.0 225.1,158.0 225.4,150.0 225.8,142.0 226.1,134.0 226.4,126.0 226.7,118.0 227.0,110.0 227.4,102.0 227.7,94.0 228.0,86.0 228.3,84.8 228.6,84.5 228.9,84.0 229.2,84.3 229.5,81.5 229.8,83.3 230.1,82.7 230.4,83.2 230.7,81.9 231.0,82.0 231.3,79.1 231.7,76.2 232.0,73.3 232.3,75.5 232.7,77.8 233.0,80.0 233.3,79.8 233.6,80.4 233.9,81.3 234.2,81.8 234.5,82.0 234.8,82.0 235.2,82.6 235.5,83.4 235.8,83.8 236.1,83.1 236.4,83.7 236.7,84.0 237.0,92.7 237.3,101.4 237.6,110.1 237.9,118.9 238.2,127.6 238.5,136.3 238.8,145.0 239.1,136.3 239.4,127.6 239.7,118.9 240.1,110.1 240.4,101.4 240.7,92.7 241.0,84.0 241.3,84.1 241.6,84.2 241.9,82.6 242.2,82.3 242.5,83.1 242.8,83.1 243.1,81.8 243.4,82.0 243.8,81.9 244.1,81.7 244.4,82.2 244.7,80.4 245.0,82.0 245.3,80.2 245.6,81.4 245.9,80.9 246.2,81.0 246.5,80.0 246.8,78.0 247.2,76.0 247.5,74.0 247.8,74.8 248.1,75.6 248.4,76.4 248.7,77.2 249.0,78.0 249.3,78.1 249.6,79.3 250.0,80.2 250.3,79.6 250.6,80.2 250.9,80.8 251.2,82.8 251.5,82.6 251.9,82.9 252.2,84.1 252.5,84.0 252.9,94.0 253.3,104.0 253.6,105.2 254.0,106.4 254.3,107.6 254.7,108.8 255.0,110.0 255.3,110.9 255.6,109.2 255.9,110.3 256.2,109.3 256.5,109.0 256.8,109.9 257.1,110.0 257.4,110.2 257.7,110.4 258.0,109.9 258.3,109.5 258.6,110.6 258.9,110.2 259.2,109.1 259.5,109.6 259.8,109.5 260.1,109.1 260.4,109.1 260.7,110.2 261.0,109.9 261.3,110.2 261.6,110.4 261.9,110.6 262.2,110.9 262.5,108.9 262.8,109.8 263.1,110.3 263.4,110.7 263.7,109.2 264.0,109.4 264.3,110.0 264.6,110.5 264.9,111.3 265.2,109.4 265.5,110.3 265.8,110.6 266.1,110.8 266.4,111.2 266.7,109.7 267.0,111.4 267.3,109.9 267.6,107.5 267.9,110.6 268.2,109.7 268.5,110.0 268.8,111.1 269.1,109.9 269.4,110.0 269.7,109.2 270.0,109.9 270.3,109.2 270.6,113.3 270.9,108.8 271.2,110.8 271.5,108.8 271.8,110.5 272.2,110.9 272.5,110.6 272.8,110.6 273.1,109.1 273.4,110.9 273.7,109.3 274.0,111.2 274.3,108.9 274.6,109.1 274.9,110.6 275.2,109.1 275.5,110.3 275.8,111.3 276.1,111.1 276.4,109.9 276.7,110.3 277.0,109.6 277.3,109.5 277.6,110.8 277.9,110.1 278.2,110.5 278.5,109.5 278.8,110.0 279.1,110.2 279.4,110.2 279.7,110.3 280.0,110.5 280.3,109.8 280.6,111.1 280.9,110.0 281.2,109.2 281.5,107.3 281.8,109.2 282.1,109.4 282.4,109.2 282.7,109.2 283.0,109.4 283.3,109.6 283.6,110.4 283.9,111.6 284.2,109.3 284.5,109.2 284.8,113.1 285.1,110.0 285.4,111.3 285.7,110.2 286.0,109.3 286.3,108.9 286.6,109.2 286.9,110.7 287.2,109.0 287.5,109.0 287.8,109.4 288.1,110.1 288.4,108.7 288.7,108.9 289.0,110.0 289.4,110.0 289.8,110.0 290.1,130.0 290.4,150.0 290.7,170.0 291.1,190.0 291.4,210.0 291.7,230.0 292.0,250.0 292.3,254.8 292.6,259.5 292.9,264.3 293.2,269.1 293.5,273.9 293.8,278.6 294.1,283.4 294.5,288.2 294.8,293.0 295.1,297.7 295.4,302.5 295.7,307.3 296.0,312.1 296.3,316.8 296.6,321.6 297.0,311.1 297.4,300.5 297.8,290.0 298.1,287.8 298.5,285.6 298.8,283.3 299.1,281.1 299.4,278.9 299.8,276.7 300.1,274.4 300.4,272.2 300.8,270.0 301.1,268.3 301.4,266.7 301.8,265.0 302.1,263.3 302.5,261.7 302.8,260.0 303.1,258.4 303.5,256.8 303.8,255.1 304.1,253.5 304.5,251.9 304.8,250.2 305.2,248.6 305.5,247.0 305.8,260.2 306.1,273.5 306.5,286.8 306.8,300.0 307.1,320.2 307.5,340.5 307.9,340.3 308.2,340.2 308.6,340.0 308.9,327.5 309.2,315.0 309.6,302.5 309.9,290.0 310.2,270.0 310.6,250.0 310.9,242.9 311.3,235.7 311.6,228.6 312.0,221.4 312.3,214.3 312.7,207.1 313.0,200.0 313.3,196.6 313.6,193.2 314.0,189.8 314.3,186.4 314.6,183.0 314.9,179.5 315.2,176.1 315.5,172.7 315.9,169.3 316.2,165.9 316.5,162.5 316.8,161.4 317.1,160.4 317.4,159.3 317.7,158.3 318.1,157.2 318.4,156.2 318.7,155.2 319.0,154.1 319.3,153.1 319.6,152.0 319.9,151.9 320.2,151.8 320.5,151.6 320.8,151.5 321.1,151.4 321.4,151.3 321.7,151.2 322.0,151.1 322.4,150.9 322.7,150.8 323.0,150.7 323.3,150.6 323.6,150.5 323.9,150.4 324.2,150.2 324.5,150.1 324.8,150.0 325.1,149.3 325.4,148.5 325.7,147.8 326.0,147.1 326.4,146.3 326.7,145.6 327.0,144.9 327.3,144.2 327.6,143.4 327.9,142.7 328.2,142.0 328.5,141.2 328.8,140.5 329.1,139.8 329.4,139.1 329.8,138.3 330.1,137.6 330.4,136.9 330.7,136.1 331.0,135.4 331.3,136.1 331.6,135.9 331.9,135.5 332.2,135.7 332.5,134.9 332.8,135.0 333.1,134.8 333.4,135.9 333.7,135.4 334.0,135.3 334.3,134.7 334.6,135.3 334.9,135.4 335.2,135.3 335.5,135.5 335.8,135.9 336.1,135.3 336.4,136.1 336.7,135.9 337.0,134.8 337.3,135.2 337.6,135.8 337.9,136.2 338.2,135.4 338.5,135.6 338.8,134.7 339.1,135.8 339.4,135.5 339.7,136.2 340.0,135.0 340.3,135.5 340.6,135.6 340.9,135.8 341.2,134.8 341.5,135.2 341.8,135.1 342.1,135.8 342.4,135.0 342.7,135.6 343.0,135.4 343.3,134.8 343.6,135.6 343.9,135.0 344.2,135.2 344.5,134.8 344.8,134.6 345.1,136.1 345.4,134.8 345.7,135.8 346.0,135.0 346.3,135.7 346.6,135.7 346.9,135.6 347.2,136.0 347.5,136.1 347.8,135.6 348.1,135.3 348.4,136.1 348.7,135.1 349.0,135.4 349.3,134.9 349.6,134.9 349.9,135.9 350.2,135.5 350.5,135.6 350.8,135.4 351.1,136.0 351.4,135.2 351.7,136.0 352.0,135.1 352.3,135.5 352.6,135.5 352.9,135.9 353.2,136.0 353.5,135.1 353.8,135.3 354.1,135.3 354.4,135.2 354.7,135.8 355.0,135.1 355.3,135.0 355.6,135.2 355.9,136.1 356.2,135.9 356.5,134.7 356.8,135.7 357.1,134.6 357.4,134.4 357.7,135.8 358.0,134.3 358.3,134.6 358.6,134.8 358.9,135.5 359.2,135.1 359.5,135.2 359.8,135.4 360.1,134.6 360.4,135.6 360.7,135.7 361.0,135.9 361.3,135.4 361.6,134.4 361.9,134.2 362.2,135.5 362.5,134.3 362.8,134.8 363.1,135.8 363.4,135.9 363.7,133.9 364.0,135.4 364.3,135.7 364.6,134.9 364.9,134.4 365.2,135.5 365.5,134.8 365.8,135.1 366.1,135.1 366.4,135.9 366.7,134.9 367.0,135.3 367.3,135.5 367.6,134.8 367.9,135.7 368.2,135.2 368.5,135.0 368.8,134.9 369.2,135.1 369.5,135.1 369.8,134.5 370.1,135.8 370.4,135.9 370.7,134.6 371.0,136.0 371.3,134.6 371.6,135.9 371.9,134.8 372.2,135.3 372.5,135.3 372.8,135.6 373.1,135.4 373.4,134.4 373.7,134.5 374.0,134.8 374.3,135.4 374.6,135.2 374.9,135.1 375.2,134.2 375.5,133.9 375.8,135.1 376.1,134.8 376.4,134.9 376.7,135.4 377.0,135.0 377.3,135.3 377.6,134.1 377.9,134.5 378.2,135.0 378.5,134.2 378.8,134.9 379.1,134.3 379.4,134.8 379.7,134.0 380.0,135.0 380.3,134.8 380.6,135.4 380.9,134.6 381.2,134.9 381.5,135.1 381.8,134.8 382.1,134.7 382.4,134.9 382.7,135.5 383.0,133.9 383.3,134.3 383.6,133.7 383.9,134.8 384.2,134.1 384.5,134.9 384.8,132.6 385.1,134.3 385.4,134.1 385.7,135.4 386.0,134.2 386.3,135.0 386.6,134.5 386.9,135.6 387.2,135.2 387.5,135.5 387.8,134.8 388.1,134.5 388.4,135.3 388.7,135.6 389.0,135.3 389.3,135.2 389.6,134.4 389.9,134.5 390.2,135.6 390.5,134.5 390.8,135.4 391.1,135.7 391.4,134.6 391.7,135.5 392.0,135.4 392.3,134.8 392.6,135.4 392.9,134.9 393.2,134.8 393.5,135.6 393.8,134.5 394.1,135.1 394.4,135.3 394.7,134.2 395.0,135.5 395.3,134.8 395.6,134.7 395.9,134.6 396.2,135.5 396.5,135.0 396.8,134.5 397.1,135.2 397.4,135.4 397.7,135.2 398.0,134.2 398.3,136.6 398.6,135.3 398.9,135.3 399.2,134.6 399.5,134.9 399.8,135.3 400.1,135.2 400.4,135.4 400.7,133.9 401.0,134.2 401.3,134.1 401.6,134.5 401.9,133.8 402.2,134.9 402.5,133.8 402.8,134.2 403.1,134.2 403.4,135.1 403.7,134.6 404.0,134.7 404.3,135.4 404.6,134.2 404.9,134.1 405.2,134.2 405.5,134.3 405.8,135.2 406.1,134.9 406.4,135.3 406.7,134.2 407.0,134.6 407.3,134.5 407.6,134.4 407.9,134.2 408.2,134.1 408.5,134.0 408.8,119.3 409.2,104.7 409.5,90.0 409.8,87.4 410.1,84.8 410.5,82.1 410.8,79.5 411.1,81.2 411.5,83.0 411.8,84.8 412.1,86.5 412.5,88.2 412.8,90.0 413.2,94.0 413.5,98.0 413.9,102.0 414.3,109.7 414.6,117.3 415.0,125.0 415.3,129.3 415.6,133.5 416.0,137.8 416.3,142.1 416.6,146.4 416.9,150.6 417.2,154.9 417.5,159.2 417.9,163.5 418.2,167.7 418.5,172.0 418.8,169.6 419.2,167.2 419.5,164.8 419.8,162.3 420.2,159.9 420.5,157.5 420.8,155.0 421.1,152.5 421.4,150.0 421.8,147.5 422.1,145.0 422.4,142.5 422.7,140.0 423.0,137.5 423.3,137.1 423.6,136.7 423.9,136.2 424.2,135.8 424.6,135.4 424.9,135.0 425.2,134.6 425.5,134.2 425.8,133.8 426.1,133.3 426.4,132.9 426.8,132.5 427.1,132.1 427.4,132.7 427.7,132.2 428.0,132.2 428.3,132.9 428.6,132.3 428.9,133.5 429.2,132.7 429.5,132.2 429.8,133.6 430.1,132.1 430.4,132.1 430.7,132.5 431.0,131.7 431.3,132.8 431.6,132.8 431.9,132.3 432.2,132.2 432.5,133.4 432.8,132.2 433.1,131.5 433.4,133.0 433.7,133.4 434.0,131.7 434.3,131.7 434.6,131.7 434.9,132.6 435.2,132.8 435.5,133.7 435.8,132.8 436.1,132.3 436.4,132.2 436.7,131.6 437.0,131.1 437.3,132.0 437.6,132.7 437.9,131.3 438.2,132.3 438.5,131.5 438.8,133.1 439.1,132.6 439.4,131.6 439.7,132.0 440.0,132.1 440.3,132.1 440.6,132.5 440.9,131.3 441.2,131.8 441.5,132.2 441.8,133.4 442.1,132.8 442.4,132.4 442.7,131.2 443.0,132.8 443.3,131.6 443.6,132.9 443.9,131.7 444.2,132.7 444.5,131.2 444.8,132.0 445.1,132.6 445.4,133.1 445.7,132.7 446.0,132.4 446.3,132.6 446.6,132.2 446.9,132.6 447.2,132.3 447.6,132.6 447.9,132.3 448.2,132.1 448.5,132.0 448.8,132.2 449.1,131.5 449.4,133.3 449.7,131.6 450.0,133.1 450.3,132.8 450.6,132.0 450.9,133.2 451.2,129.3 451.5,131.4 451.8,128.5 452.1,132.3 452.4,132.4 452.7,132.9 453.0,132.4 453.3,132.1 453.6,132.8 453.9,131.2 454.2,131.1 454.5,131.5 454.8,132.2 455.1,132.2 455.4,131.9 455.7,131.0 456.0,133.0 456.3,132.0 456.6,132.0 456.9,133.2 457.2,131.2 457.5,132.9 457.8,131.4 458.1,132.5 458.4,131.4 458.7,133.1 459.0,130.8 459.3,133.6 459.6,131.7 459.9,131.6 460.2,132.3 460.5,132.8 460.8,132.2 461.1,131.6 461.4,132.6 461.7,131.7 462.0,132.7 462.3,131.8 462.6,132.1 462.9,132.8 463.2,131.2 463.5,129.6 463.8,131.1 464.1,132.3 464.4,131.5 464.7,132.9 465.0,131.9 465.3,131.1 465.6,131.3 465.9,132.7 466.2,131.8 466.5,132.8 466.8,131.9 467.1,131.4 467.4,130.9 467.8,131.8 468.1,132.5 468.4,131.8 468.7,131.6 469.0,131.2 469.3,132.6 469.6,130.8 469.9,131.8 470.2,130.7 470.5,131.7 470.8,132.2 471.1,130.8 471.4,131.3 471.7,132.5 472.0,132.3 472.3,130.8 472.6,130.3 472.9,132.7 473.2,132.3 473.5,132.3 473.8,132.4 474.1,134.2 474.4,131.1 474.7,131.1 475.0,132.0 475.3,131.2 475.6,131.0 475.9,132.0 476.2,131.6 476.5,132.4 476.8,131.4 477.1,132.8 477.4,132.7 477.7,131.4 478.0,131.7 478.3,131.8 478.6,132.0 478.9,146.0 479.2,160.0 479.6,174.0 479.9,188.0 480.2,202.0 480.6,216.0 480.9,230.0 481.2,244.0 481.5,258.0 481.9,272.0 482.2,286.0 482.5,300.0 482.8,317.5 483.2,335.0 483.5,352.5 483.8,370.0 484.2,387.5 484.5,405.0 484.8,406.1 485.1,407.2 485.4,408.4 485.8,409.5 486.1,410.6 486.4,411.8 486.7,412.9 487.0,414.0 487.3,414.2 487.6,414.4 487.9,414.6 488.2,414.8 488.5,415.0 488.8,415.2 489.1,415.4 489.4,415.6 489.7,415.8 490.0,416.0 490.3,416.0 490.6,416.0 490.9,416.0 491.2,416.0 491.5,416.0 491.8,416.0 492.1,416.0 492.4,416.0 492.7,416.0 493.0,416.0 493.3,416.0 493.6,416.0 493.9,416.0 494.2,416.0 494.5,416.0 494.8,416.0 495.1,416.0 495.4,416.0 495.7,416.0 496.0,416.0 496.3,416.0 496.6,416.0 496.9,416.0 497.2,416.0 497.5,416.0 497.8,416.0 498.1,416.0 498.4,416.0 498.7,416.0 499.0,416.0 499.3,416.0 499.6,416.0 499.9,416.0 500.2,416.0 500.5,416.0 500.8,416.0 501.1,416.0 501.4,416.0 501.7,416.0 502.0,416.0 502.3,416.0 502.6,416.0 502.9,416.0 503.2,416.0 503.5,416.0 503.8,416.0 504.1,416.0 504.4,416.0 504.7,416.0 505.0,416.0 505.3,416.0 505.6,416.0 505.9,416.0 506.2,416.0 506.5,416.0 506.8,416.0 507.1,416.0 507.4,416.0 507.7,416.0 508.0,416.0 508.3,416.0 508.6,416.0 508.9,416.0 509.2,416.0 509.5,416.0 509.8,416.0 510.1,416.0 510.4,416.0 510.7,416.0 511.0,416.0 511.3,416.0 511.6,416.0 511.9,416.0 512.2,416.0 512.5,416.0 512.8,416.0 513.1,416.0 513.4,416.0 513.7,416.0 514.0,416.0 514.3,416.0 514.6,416.0 514.9,416.0 515.2,416.0 515.5,416.0 515.8,416.0 516.1,416.0 516.4,416.0 516.7,416.0 517.0,416.0 517.3,416.0 517.6,416.0 517.9,416.0 518.2,416.0 518.5,416.0 518.8,416.0 519.1,416.0 519.4,416.0 519.7,416.0 520.0,416.0 520.3,416.0 520.6,416.0 520.9,416.0 521.2,416.0 521.5,416.0 521.8,416.0 522.1,416.0 522.4,416.0 522.7,416.0 523.0,416.0 523.3,416.0 523.6,416.0 523.9,416.0 524.2,416.0 524.5,416.0 524.8,416.0 525.1,416.0 525.4,416.0 525.7,416.0 526.0,416.0 526.3,416.0 526.6,416.0 526.9,416.0 527.2,416.0 527.5,416.0 527.8,416.0 528.2,416.0 528.5,416.0 528.8,416.0 529.1,416.0 529.4,416.0 529.7,416.0 530.0,416.0 530.3,416.0 530.6,416.0 530.9,416.0 531.2,416.0 531.5,416.0 531.8,416.0 532.1,416.0 532.4,416.0 532.7,416.0 533.0,416.0 533.3,416.0 533.6,416.0 533.9,416.0 534.2,416.0 534.5,416.0 534.8,416.0 535.1,416.0 535.4,416.0 535.7,416.0 536.0,416.0 536.3,416.0 536.6,416.0 536.9,416.0 537.2,416.0 537.5,416.0 537.8,416.0 538.1,416.0 538.4,416.0 538.7,416.0 539.0,416.0 539.3,416.0 539.6,416.0 539.9,416.0 540.2,416.0 540.5,416.0 540.8,416.0 541.1,416.0 541.4,416.0 541.7,416.0 542.0,416.0 542.3,416.0 542.6,416.0 542.9,416.0 543.2,416.0 543.5,416.0 543.8,416.0 544.1,416.0 544.4,416.0 544.7,416.0 545.0,416.0 545.3,416.0 545.6,416.0 545.9,416.0 546.2,416.0 546.5,416.0 546.8,416.0 547.1,416.0 547.4,416.0 547.7,416.0 548.0,416.0 548.3,416.0 548.6,416.0 548.9,416.0 549.2,416.0 549.5,416.0 549.8,416.0 550.1,416.0 550.4,416.0 550.7,416.0 551.0,416.0 551.3,416.0 551.6,416.0 551.9,416.0 552.2,416.0 552.5,416.0 552.8,416.0 553.1,416.0 553.4,416.0 553.7,416.0 554.0,416.0 554.3,416.0 554.6,416.0 554.9,416.0 555.2,416.0 555.5,416.0 555.8,416.0 556.1,416.0 556.4,416.0 556.7,416.0 557.0,416.0 557.3,416.0 557.6,416.0 557.9,416.0 558.2,416.0 558.5,416.0 558.8,416.0 559.1,416.0 559.4,416.0 559.7,416.0 560.0,416.0 560.3,416.0 560.6,416.0 560.9,416.0 561.2,416.0 561.5,416.0 561.8,416.0 562.1,416.0 562.4,416.0 562.7,416.0 563.0,416.0 563.3,416.0 563.6,416.0 563.9,416.0 564.2,416.0 564.5,416.0 564.8,416.0 565.1,416.0 565.4,416.0 565.7,416.0 566.0,416.0" stroke="#FF7F00"/>
<path d="M71.0,414.0 71.3,414.0 71.6,414.0 71.9,414.0 72.2,414.0 72.5,414.0 72.8,414.0 73.1,414.0 73.4,414.0 73.7,414.0 74.0,414.0 74.3,414.0 74.6,414.0 74.9,414.0 75.2,414.0 75.5,414.0 75.8,414.0 76.1,414.0 76.4,414.0 76.7,414.0 77.0,414.0 77.3,414.0 77.6,414.0 77.9,414.0 78.2,414.0 78.5,414.0 78.8,414.0 79.1,414.0 79.4,414.0 79.7,414.0 80.0,414.0 80.3,414.0 80.6,414.0 80.9,414.0 81.2,414.0 81.5,414.0 81.8,414.0 82.1,414.0 82.4,414.0 82.7,414.0 83.0,414.0 83.3,414.0 83.6,414.0 83.9,414.0 84.2,414.0 84.5,414.0 84.8,414.0 85.1,414.0 85.4,414.0 85.7,414.0 86.0,414.0 86.3,414.0 86.6,414.0 86.9,414.0 87.2,414.0 87.5,414.0 87.8,414.0 88.1,414.0 88.4,414.0 88.7,414.0 89.0,414.0 89.3,414.0 89.6,414.0 89.9,414.0 90.2,414.0 90.5,414.0 90.8,414.0 91.1,414.0 91.4,414.0 91.7,414.0 92.0,414.0 92.3,414.0 92.6,414.0 92.9,414.0 93.2,414.0 93.5,414.0 93.8,414.0 94.1,414.0 94.4,414.0 94.7,414.0 95.0,414.0 95.3,414.0 95.6,414.0 95.9,414.0 96.2,414.0 96.5,414.0 96.8,414.0 97.1,414.0 97.4,414.0 97.7,414.0 98.0,414.0 98.3,414.0 98.6,414.0 98.9,414.0 99.2,414.0 99.5,414.0 99.8,414.0 100.1,414.0 100.4,414.0 100.7,414.0 101.0,414.0 101.3,414.0 101.6,414.0 101.9,414.0 102.2,414.0 102.5,414.0 102.8,414.0 103.1,414.0 103.4,414.0 103.7,414.0 104.0,414.0 104.3,414.0 104.6,414.0 105.0,414.0 105.3,414.0 105.6,414.0 105.9,414.0 106.2,414.0 106.5,414.0 106.8,414.0 107.1,414.0 107.4,414.0 107.7,414.0 108.0,414.0 108.3,414.0 108.6,414.0 108.9,414.0 109.2,414.0 109.5,414.0 109.8,414.0 110.1,414.0 110.4,414.0 110.7,414.0 111.0,414.0 111.3,414.0 111.6,414.0 111.9,414.0 112.2,414.0 112.5,414.0 112.8,414.0 113.1,414.0 113.4,414.0 113.7,414.0 114.0,414.0 114.3,414.0 114.6,414.0 114.9,414.0 115.2,414.0 115.5,414.0 115.8,414.0 116.1,414.0 116.4,414.0 116.7,414.0 117.0,414.0 117.3,414.0 117.6,414.0 117.9,414.0 118.2,414.0 118.5,414.0 118.8,414.0 119.1,414.0 119.4,414.0 119.7,414.0 120.0,414.0 120.3,414.0 120.6,414.0 120.9,414.0 121.2,414.0 121.5,414.0 121.8,414.0 122.1,414.0 122.4,414.0 122.7,414.0 123.0,414.0 123.3,414.0 123.6,414.0 123.9,414.0 124.2,414.0 124.5,414.0 124.8,414.0 125.1,414.0 125.4,414.0 125.7,414.0 126.0,414.0 126.3,414.0 126.6,414.0 126.9,414.0 127.2,414.0 127.5,414.0 127.8,414.0 128.1,414.0 128.4,414.0 128.7,414.0 129.0,414.0 129.3,414.0 129.6,414.0 129.9,414.0 130.2,414.0 130.5,414.0 130.8,414.0 131.1,414.0 131.4,414.0 131.7,414.0 132.0,414.0 132.3,414.0 132.6,414.0 132.9,414.0 133.2,414.0 133.5,414.0 133.8,414.0 134.1,414.0 134.4,414.0 134.7,414.0 135.0,414.0 135.3,414.0 135.6,414.0 135.9,414.0 136.2,414.0 136.5,414.0 136.8,414.0 137.1,414.0 137.4,414.0 137.7,414.0 138.0,414.0 138.3,414.0 138.6,414.0 138.9,414.0 139.2,414.0 139.5,414.0 139.8,414.0 140.1,414.0 140.4,414.0 140.7,414.0 141.0,414.0 141.3,414.0 141.6,414.0 141.9,414.0 142.2,414.0 142.5,414.0 142.8,414.0 143.1,414.0 143.4,414.0 143.7,414.0 144.0,414.0 144.3,414.0 144.6,414.0 144.9,414.0 145.2,414.0 145.5,414.0 145.8,414.0 146.1,414.0 146.4,414.0 146.7,414.0 147.0,414.0 147.3,414.0 147.6,414.0 147.9,414.0 148.2,414.0 148.5,414.0 148.8,414.0 149.1,414.0 149.4,414.0 149.7,414.0 150.0,414.0 150.3,414.0 150.6,414.0 150.9,414.0 151.2,414.0 151.5,414.0 151.8,414.0 152.1,414.0 152.4,414.0 152.7,414.0 153.0,414.0 153.3,414.0 153.6,414.0 153.9,414.0 154.2,414.0 154.5,414.0 154.8,414.0 155.1,414.0 155.4,414.0 155.7,414.0 156.0,414.0 156.3,414.0 156.6,414.0 156.9,414.0 157.2,414.0 157.5,414.0 157.8,414.0 158.1,414.0 158.4,414.0 158.7,414.0 159.0,414.0 159.3,414.0 159.6,414.0 159.9,414.0 160.2,414.0 160.5,414.0 160.8,414.0 161.1,414.0 161.4,414.0 161.7,414.0 162.0,414.0 162.3,414.0 162.6,414.0 162.9,414.0 163.2,414.0 163.5,414.0 163.8,414.0 164.1,414.0 164.4,414.0 164.7,414.0 165.0,414.0 165.3,414.0 165.6,414.0 165.9,414.0 166.2,414.0 166.5,414.0 166.8,414.0 167.1,414.0 167.4,414.0 167.7,414.0 168.0,414.0 168.3,414.0 168.6,414.0 168.9,414.0 169.2,414.0 169.5,414.0 169.8,414.0 170.1,414.0 170.4,414.0 170.7,414.0 171.0,414.0 171.3,414.0 171.6,414.0 171.9,414.0 172.2,414.0 172.5,414.0 172.9,414.0 173.2,414.0 173.5,414.0 173.8,414.0 174.1,414.0 174.4,414.0 174.7,414.0 175.0,414.0 175.3,414.0 175.6,414.0 175.9,414.0 176.2,414.0 176.5,414.0 176.8,414.0 177.1,414.0 177.4,414.0 177.7,414.0 178.0,414.0 178.3,414.0 178.6,414.0 178.9,414.0 179.2,414.0 179.5,414.0 179.8,414.0 180.1,414.0 180.4,414.0 180.7,414.0 181.0,414.0 181.3,414.0 181.6,414.0 181.9,414.0 182.2,414.0 182.5,414.0 182.8,414.0 183.1,414.0 183.4,414.0 183.7,414.0 184.0,414.0 184.3,414.0 184.6,414.0 184.9,414.0 185.2,414.0 185.5,414.0 185.8,414.0 186.1,414.0 186.4,414.0 186.7,414.0 187.0,414.0 187.3,414.0 187.6,414.0 187.9,414.0 188.2,414.0 188.5,414.0 188.8,414.0 189.1,414.0 189.4,414.0 189.7,414.0 190.0,414.0 190.3,414.0 190.6,414.0 190.9,414.0 191.2,414.0 191.5,414.0 191.8,414.0 192.1,414.0 192.4,414.0 192.7,414.0 193.0,414.0 193.3,414.0 193.6,414.0 193.9,414.0 194.2,414.0 194.5,414.0 194.8,414.0 195.1,414.0 195.4,414.0 195.7,414.0 196.0,414.0 196.3,414.0 196.6,414.0 196.9,414.0 197.2,414.0 197.5,414.0 197.8,414.0 198.1,414.0 198.4,414.0 198.7,414.0 199.0,414.0 199.3,414.0 199.6,414.0 199.9,414.0 200.2,414.0 200.5,414.0 200.8,414.0 201.1,414.0 201.4,414.0 201.7,414.0 202.0,414.0 202.3,414.0 202.6,414.0 202.9,414.0 203.2,414.0 203.5,414.0 203.8,414.0 204.1,414.0 204.4,414.0 204.7,414.0 205.0,414.0 205.3,414.0 205.6,414.0 205.9,414.0 206.2,414.0 206.5,414.0 206.8,414.0 207.2,357.0 207.5,300.0 207.8,287.5 208.1,275.0 208.4,262.5 208.8,250.0 209.1,237.5 209.4,225.0 209.7,212.5 210.0,200.0 210.3,189.9 210.6,179.8 211.0,169.7 211.3,159.6 211.6,149.5 211.9,139.5 212.2,129.4 212.5,119.3 212.9,109.2 213.2,99.1 213.5,89.0 213.8,88.8 214.1,89.1 214.4,88.8 214.7,88.7 215.0,89.2 215.3,88.9 215.6,88.6 215.9,88.8 216.2,89.4 216.5,88.8 216.8,88.2 217.1,88.2 217.4,89.1 217.8,87.7 218.1,88.6 218.4,88.3 218.7,88.9 219.0,89.0 219.3,88.6 219.6,87.9 219.9,88.3 220.2,87.8 220.5,88.0 220.8,87.7 221.1,87.7 221.4,87.5 221.7,88.0 222.0,96.9 222.3,105.8 222.6,114.7 222.9,123.6 223.2,132.5 223.5,141.3 223.8,150.2 224.1,159.1 224.4,168.0 224.7,176.9 225.0,185.8 225.3,177.0 225.6,168.2 226.0,159.4 226.3,150.6 226.6,141.8 226.9,133.0 227.2,124.2 227.5,115.4 227.9,106.6 228.2,97.8 228.5,89.0 228.8,89.4 229.1,88.7 229.4,87.8 229.7,88.5 230.0,88.9 230.3,88.9 230.6,89.1 230.9,89.0 231.2,88.9 231.5,88.3 231.8,88.4 232.1,87.5 232.4,88.2 232.8,88.9 233.1,88.5 233.4,88.3 233.7,88.5 234.0,87.7 234.3,88.9 234.6,88.4 234.9,87.9 235.2,87.8 235.5,88.6 235.8,88.6 236.1,88.1 236.4,87.0 236.7,88.0 237.0,97.1 237.4,106.2 237.7,115.3 238.0,124.4 238.3,133.5 238.7,142.6 239.0,151.7 239.3,143.7 239.7,135.8 240.0,127.8 240.3,119.8 240.7,111.9 241.0,103.9 241.4,96.0 241.7,88.0 242.0,88.2 242.3,87.9 242.6,87.7 242.9,86.9 243.2,87.0 243.5,87.5 243.8,86.9 244.1,87.1 244.4,86.9 244.7,86.3 245.0,86.0 245.3,86.0 245.6,86.1 245.9,84.9 246.2,85.4 246.5,85.0 246.8,83.5 247.2,82.0 247.5,80.5 247.8,81.4 248.1,82.3 248.4,83.2 248.7,84.1 249.0,85.0 249.3,84.7 249.6,85.2 250.0,86.9 250.3,86.4 250.6,85.9 250.9,86.7 251.2,85.9 251.5,86.1 251.9,85.3 252.2,86.3 252.5,87.0 252.8,94.7 253.2,102.3 253.5,110.0 253.8,111.3 254.1,112.6 254.4,113.9 254.7,115.2 255.0,116.5 255.3,115.1 255.6,116.4 255.9,117.1 256.2,118.4 256.5,117.8 256.8,116.4 257.1,118.6 257.4,117.4 257.7,115.7 258.0,117.8 258.3,116.0 258.7,117.8 259.0,117.8 259.3,114.0 259.6,119.5 259.9,117.8 260.2,119.1 260.5,118.4 260.8,119.1 261.1,118.6 261.4,118.6 261.7,118.6 262.0,120.0 262.3,119.4 262.6,116.9 262.9,119.6 263.2,121.4 263.5,120.6 263.8,121.0 264.1,119.4 264.4,120.2 264.7,119.3 265.0,119.6 265.4,118.9 265.7,118.5 266.0,118.7 266.3,118.7 266.6,119.6 266.9,119.1 267.2,118.6 267.5,120.9 267.8,120.5 268.1,120.0 268.4,119.7 268.7,118.7 269.0,121.1 269.3,120.7 269.6,120.6 269.9,119.0 270.2,118.9 270.5,119.6 270.8,120.2 271.1,119.6 271.4,119.9 271.8,119.7 272.1,118.9 272.4,120.1 272.7,120.6 273.0,120.0 273.3,116.7 273.6,119.0 273.9,119.1 274.2,120.9 274.5,120.8 274.8,118.1 275.1,120.1 275.4,119.6 275.7,118.6 276.0,118.9 276.3,120.0 276.6,120.1 276.9,119.8 277.2,118.6 277.5,120.3 277.8,118.6 278.2,119.4 278.5,119.7 278.8,118.5 279.1,118.3 279.4,118.1 279.7,119.1 280.0,118.0 280.3,116.3 280.6,115.6 280.9,118.2 281.2,119.0 281.7,100.0 282.2,119.0 282.5,119.1 282.8,117.5 283.1,117.2 283.4,117.2 283.7,117.3 284.1,119.1 284.4,119.8 284.7,118.0 285.0,117.5 285.3,119.3 285.6,118.2 285.9,117.3 286.2,118.6 286.5,119.3 286.8,118.4 287.1,118.0 287.5,118.3 287.8,117.8 288.1,118.4 288.4,118.8 288.7,117.7 289.0,118.5 289.5,119.0 289.8,136.6 290.1,154.2 290.4,171.9 290.8,189.5 291.1,207.1 291.4,224.8 291.7,242.4 292.0,260.0 292.3,262.0 292.6,263.9 292.9,265.9 293.2,267.9 293.5,269.9 293.8,271.8 294.1,273.8 294.4,275.8 294.7,277.8 295.0,279.7 295.3,281.7 295.6,281.2 295.9,280.7 296.2,280.2 296.6,279.6 296.9,279.1 297.2,278.6 297.5,278.1 297.8,277.6 298.1,277.1 298.4,276.6 298.7,276.1 299.1,275.5 299.4,275.0 299.7,274.5 300.0,274.0 300.3,272.5 300.6,271.1 301.0,269.6 301.3,268.2 301.6,266.7 301.9,266.0 302.2,265.3 302.5,264.6 302.8,263.8 303.1,263.1 303.4,262.4 303.7,261.7 304.1,261.0 304.4,260.3 304.7,259.6 305.0,258.9 305.3,258.1 305.6,257.4 305.9,256.7 306.2,256.0 306.5,259.4 306.8,262.8 307.1,266.1 307.4,269.5 307.8,272.9 308.1,276.2 308.4,279.6 308.7,283.0 309.0,278.2 309.3,273.4 309.7,268.7 310.0,263.9 310.3,259.1 310.6,254.3 311.0,249.6 311.3,244.8 311.6,240.0 311.9,235.8 312.2,231.7 312.5,227.5 312.8,223.3 313.1,219.2 313.5,215.0 313.8,210.8 314.1,206.7 314.4,202.5 314.7,198.3 315.0,194.2 315.3,190.0 315.6,186.4 316.0,182.8 316.4,179.2 316.7,175.7 317.0,172.1 317.4,168.5 317.7,168.0 318.0,167.5 318.3,167.0 318.6,166.5 318.9,166.0 319.2,165.5 319.5,165.0 319.9,164.5 320.2,164.0 320.5,163.5 320.8,163.0 321.1,162.5 321.4,162.0 321.7,161.5 322.0,161.0 322.3,160.8 322.6,160.6 322.9,160.4 323.2,160.2 323.5,160.0 323.8,159.8 324.2,159.7 324.5,159.5 324.8,159.3 325.1,159.1 325.4,158.9 325.7,158.7 326.0,158.5 326.3,157.5 326.6,156.4 327.0,155.4 327.3,154.3 327.6,153.3 327.9,152.2 328.2,151.2 328.5,150.1 328.9,149.1 329.2,148.0 329.5,147.0 329.8,148.0 330.1,148.2 330.4,146.8 330.7,148.3 331.0,146.4 331.3,147.9 331.6,146.6 331.9,147.7 332.2,147.1 332.5,148.2 332.8,147.4 333.1,148.2 333.4,147.3 333.7,146.8 334.0,146.8 334.3,146.7 334.6,146.9 334.9,145.8 335.2,145.7 335.5,146.0 335.8,147.3 336.1,146.4 336.4,148.1 336.7,147.0 337.0,146.7 337.3,147.0 337.6,146.6 337.9,146.9 338.2,146.1 338.5,147.5 338.8,146.8 339.1,146.3 339.4,147.3 339.7,146.9 340.0,147.6 340.3,146.9 340.6,146.0 340.9,144.9 341.2,148.2 341.5,146.8 341.8,145.9 342.1,146.5 342.4,147.7 342.7,147.3 343.0,146.0 343.3,149.8 343.6,146.3 343.9,146.7 344.2,148.0 344.5,147.0 344.8,148.2 345.1,147.5 345.4,146.1 345.7,146.3 346.0,147.2 346.3,147.3 346.6,146.7 346.9,147.8 347.2,148.0 347.5,146.2 347.8,147.2 348.1,146.5 348.4,147.4 348.7,147.0 349.0,146.2 349.4,147.0 349.7,145.6 350.0,146.8 350.3,146.3 350.6,146.7 350.9,147.8 351.2,146.3 351.5,146.1 351.8,146.9 352.1,145.7 352.4,147.3 352.7,147.3 353.0,146.7 353.3,147.4 353.6,145.7 353.9,145.8 354.2,147.2 354.5,146.9 354.8,146.0 355.1,145.2 355.4,147.6 355.7,147.3 356.0,147.1 356.3,146.2 356.6,146.0 356.9,147.5 357.2,145.7 357.5,147.8 357.8,147.9 358.1,147.7 358.4,143.3 358.7,147.3 359.0,146.0 359.3,146.9 359.6,147.0 359.9,146.7 360.2,146.9 360.5,142.0 360.8,146.0 361.1,146.3 361.4,147.2 361.7,145.8 362.0,146.1 362.3,147.3 362.6,146.5 362.9,145.9 363.2,143.1 363.5,146.5 363.8,145.9 364.1,146.7 364.4,147.0 364.7,145.0 365.0,146.3 365.3,145.9 365.6,145.5 365.9,146.3 366.2,146.8 366.5,146.2 366.8,145.6 367.1,145.7 367.4,147.4 367.7,145.6 368.0,145.5 368.3,145.5 368.6,147.5 368.9,145.2 369.2,146.2 369.5,146.0 369.8,146.5 370.1,146.8 370.4,146.6 370.7,145.6 371.0,145.7 371.3,147.0 371.6,145.9 371.9,145.5 372.2,147.5 372.5,147.4 372.8,147.0 373.1,145.8 373.4,146.4 373.7,147.7 374.0,145.8 374.3,147.4 374.6,147.4 374.9,145.9 375.2,146.5 375.5,145.4 375.8,146.4 376.1,146.4 376.4,145.7 376.7,145.2 377.0,147.0 377.3,145.5 377.6,145.2 377.9,145.4 378.2,145.4 378.5,146.9 378.8,145.1 379.1,146.2 379.4,145.0 379.7,147.2 380.0,147.2 380.3,146.7 380.6,145.9 380.9,147.0 381.2,147.3 381.5,146.4 381.8,146.5 382.1,146.2 382.4,146.3 382.7,146.4 383.0,145.2 383.3,146.7 383.6,145.7 383.9,147.5 384.2,147.4 384.5,146.7 384.8,145.7 385.1,145.2 385.4,146.8 385.7,145.3 386.0,146.4 386.3,146.1 386.6,146.1 386.9,145.8 387.2,146.4 387.5,145.9 387.8,146.1 388.1,145.6 388.4,146.9 388.7,146.5 389.1,145.2 389.4,146.3 389.7,145.2 390.0,145.9 390.3,145.4 390.6,146.5 390.9,146.0 391.2,145.3 391.5,145.4 391.8,145.1 392.1,144.7 392.4,146.6 392.7,146.3 393.0,146.4 393.3,145.8 393.6,146.6 393.9,146.0 394.2,146.9 394.5,146.7 394.8,146.7 395.1,145.2 395.4,146.2 395.7,146.7 396.0,145.0 396.3,146.9 396.6,145.3 396.9,145.0 397.2,144.5 397.5,145.9 397.8,145.0 398.1,146.4 398.4,145.4 398.7,144.4 399.0,147.1 399.3,146.0 399.6,146.2 399.9,145.9 400.2,143.5 400.5,145.9 400.8,145.0 401.1,145.6 401.4,146.9 401.7,145.0 402.0,145.7 402.3,145.2 402.6,145.7 402.9,146.2 403.2,144.5 403.5,146.2 403.8,145.8 404.1,145.9 404.4,144.9 404.7,145.5 405.0,145.9 405.3,144.8 405.6,145.7 405.9,145.0 406.2,145.0 406.5,146.6 406.8,144.9 407.1,145.0 407.4,146.1 407.7,146.2 408.0,145.2 408.3,145.3 408.6,145.6 408.8,145.0 409.1,137.4 409.4,129.8 409.7,122.2 410.0,114.6 410.3,107.0 410.6,108.6 411.0,110.2 411.3,111.8 411.7,113.4 412.0,115.0 412.3,119.0 412.6,123.0 412.9,127.0 413.2,131.0 413.5,135.0 413.8,137.5 414.2,140.0 414.5,142.5 414.8,145.0 415.2,147.5 415.5,150.0 415.8,153.0 416.1,156.0 416.4,159.0 416.7,162.0 417.1,165.0 417.4,168.0 417.7,171.0 418.0,174.0 418.3,177.0 418.6,180.0 418.9,176.4 419.3,172.9 419.6,169.3 420.0,165.7 420.3,162.1 420.7,158.6 421.0,155.0 421.3,154.0 421.6,153.0 421.9,152.0 422.2,151.0 422.5,150.0 422.8,149.0 423.1,148.0 423.4,147.0 423.7,146.0 424.0,145.0 424.3,144.1 424.6,144.2 424.9,144.9 425.2,144.9 425.5,145.4 425.9,143.5 426.2,144.4 426.5,144.7 426.8,144.6 427.1,144.4 427.4,144.0 427.7,143.1 428.0,143.8 428.3,142.2 428.6,143.6 429.0,143.7 429.3,141.8 429.6,142.2 429.9,142.1 430.2,142.6 430.5,142.5 430.8,144.0 431.1,141.7 431.4,140.1 431.7,140.3 432.0,142.7 432.3,141.7 432.6,142.2 432.9,141.2 433.2,142.7 433.5,142.6 433.8,141.7 434.1,139.8 434.4,142.7 434.7,140.5 435.0,140.2 435.3,143.5 435.6,140.5 435.9,143.2 436.2,143.7 436.5,143.2 436.8,140.8 437.1,142.7 437.4,141.5 437.7,140.2 438.0,140.8 438.3,141.9 438.6,143.3 438.9,141.5 439.2,143.3 439.5,142.2 439.8,139.5 440.1,139.9 440.4,143.1 440.7,141.3 441.0,142.8 441.3,141.8 441.6,144.1 441.9,143.5 442.2,143.3 442.5,144.2 442.8,140.8 443.1,142.5 443.4,142.2 443.7,145.3 444.0,144.0 444.3,141.8 444.6,140.5 444.9,142.6 445.2,143.6 445.5,144.6 445.8,143.5 446.1,141.5 446.4,142.1 446.7,143.4 447.0,141.2 447.3,142.3 447.6,142.5 447.9,142.7 448.2,141.2 448.5,143.8 448.8,143.1 449.1,142.7 449.4,144.8 449.7,144.9 450.0,144.7 450.3,143.6 450.6,142.1 450.9,142.3 451.2,140.6 451.5,140.4 451.8,142.7 452.1,144.6 452.4,141.9 452.7,141.5 453.0,140.9 453.3,141.2 453.6,141.7 453.9,141.3 454.2,141.4 454.6,143.2 454.9,141.9 455.2,140.6 455.5,143.8 455.8,142.9 456.1,142.9 456.4,143.7 456.7,140.2 457.0,139.9 457.3,139.8 457.6,142.8 457.9,141.7 458.2,142.5 458.5,140.2 458.8,141.4 459.1,141.0 459.4,140.2 459.7,143.4 460.0,141.4 460.3,140.6 460.6,141.3 460.9,140.4 461.2,140.5 461.5,141.7 461.8,141.5 462.1,141.8 462.4,141.1 462.7,144.0 463.0,142.1 463.3,143.9 463.6,147.4 463.9,141.0 464.2,142.7 464.5,140.5 464.8,143.7 465.1,141.4 465.4,140.7 465.7,142.5 466.0,141.9 466.3,142.7 466.6,143.6 466.9,142.6 467.2,140.6 467.5,140.7 467.8,143.9 468.1,143.0 468.4,142.1 468.7,143.6 469.0,140.3 469.3,140.9 469.6,144.7 469.9,140.7 470.2,144.2 470.5,142.0 470.8,140.8 471.1,140.5 471.4,142.9 471.7,142.3 472.0,144.0 472.3,140.9 472.6,145.0 472.9,141.6 473.2,144.1 473.5,144.5 473.8,143.5 474.1,142.3 474.4,141.3 474.7,143.6 475.0,140.7 475.3,141.8 475.6,140.4 475.9,141.5 476.2,140.8 476.5,144.1 476.8,143.8 477.1,141.4 477.4,143.7 477.7,144.2 478.0,142.5 478.5,142.5 478.8,154.0 479.1,165.5 479.4,177.0 479.7,188.5 480.0,200.0 480.3,212.0 480.7,224.0 481.0,236.0 481.4,248.0 481.7,260.0 482.0,277.5 482.4,295.0 482.7,312.5 483.0,330.0 483.3,344.0 483.6,358.0 483.9,372.0 484.2,386.0 484.5,400.0 484.8,401.8 485.2,403.7 485.5,405.5 485.8,407.3 486.2,409.2 486.5,411.0 486.8,411.3 487.1,411.5 487.5,411.8 487.8,412.1 488.1,412.4 488.4,412.6 488.7,412.9 489.0,413.2 489.4,413.5 489.7,413.7 490.0,414.0 490.3,414.0 490.6,414.0 490.9,414.0 491.2,414.0 491.5,414.0 491.8,414.0 492.1,414.0 492.4,414.0 492.7,414.0 493.0,414.0 493.3,414.0 493.6,414.0 493.9,414.0 494.2,414.0 494.5,414.0 494.8,414.0 495.1,414.0 495.4,414.0 495.7,414.0 496.0,414.0 496.3,414.0 496.6,414.0 496.9,414.0 497.2,414.0 497.5,414.0 497.8,414.0 498.1,414.0 498.4,414.0 498.7,414.0 499.0,414.0 499.3,414.0 499.6,414.0 499.9,414.0 500.2,414.0 500.5,414.0 500.8,414.0 501.1,414.0 501.4,414.0 501.7,414.0 502.0,414.0 502.3,414.0 502.6,414.0 502.9,414.0 503.2,414.0 503.5,414.0 503.8,414.0 504.1,414.0 504.4,414.0 504.7,414.0 505.0,414.0 505.3,414.0 505.6,414.0 505.9,414.0 506.2,414.0 506.5,414.0 506.8,414.0 507.1,414.0 507.4,414.0 507.7,414.0 508.0,414.0 508.3,414.0 508.6,414.0 508.9,414.0 509.2,414.0 509.5,414.0 509.8,414.0 510.1,414.0 510.4,414.0 510.7,414.0 511.0,414.0 511.3,414.0 511.6,414.0 511.9,414.0 512.2,414.0 512.5,414.0 512.8,414.0 513.1,414.0 513.4,414.0 513.7,414.0 514.0,414.0 514.3,414.0 514.6,414.0 514.9,414.0 515.2,414.0 515.5,414.0 515.8,414.0 516.1,414.0 516.4,414.0 516.7,414.0 517.0,414.0 517.3,414.0 517.6,414.0 517.9,414.0 518.2,414.0 518.5,414.0 518.8,414.0 519.1,414.0 519.4,414.0 519.7,414.0 520.0,414.0 520.3,414.0 520.6,414.0 520.9,414.0 521.2,414.0 521.5,414.0 521.8,414.0 522.1,414.0 522.4,414.0 522.7,414.0 523.0,414.0 523.3,414.0 523.6,414.0 523.9,414.0 524.2,414.0 524.5,414.0 524.8,414.0 525.1,414.0 525.4,414.0 525.7,414.0 526.0,414.0 526.3,414.0 526.6,414.0 526.9,414.0 527.2,414.0 527.5,414.0 527.8,414.0 528.2,414.0 528.5,414.0 528.8,414.0 529.1,414.0 529.4,414.0 529.7,414.0 530.0,414.0 530.3,414.0 530.6,414.0 530.9,414.0 531.2,414.0 531.5,414.0 531.8,414.0 532.1,414.0 532.4,414.0 532.7,414.0 533.0,414.0 533.3,414.0 533.6,414.0 533.9,414.0 534.2,414.0 534.5,414.0 534.8,414.0 535.1,414.0 535.4,414.0 535.7,414.0 536.0,414.0 536.3,414.0 536.6,414.0 536.9,414.0 537.2,414.0 537.5,414.0 537.8,414.0 538.1,414.0 538.4,414.0 538.7,414.0 539.0,414.0 539.3,414.0 539.6,414.0 539.9,414.0 540.2,414.0 540.5,414.0 540.8,414.0 541.1,414.0 541.4,414.0 541.7,414.0 542.0,414.0 542.3,414.0 542.6,414.0 542.9,414.0 543.2,414.0 543.5,414.0 543.8,414.0 544.1,414.0 544.4,414.0 544.7,414.0 545.0,414.0 545.3,414.0 545.6,414.0 545.9,414.0 546.2,414.0 546.5,414.0 546.8,414.0 547.1,414.0 547.4,414.0 547.7,414.0 548.0,414.0 548.3,414.0 548.6,414.0 548.9,414.0 549.2,414.0 549.5,414.0 549.8,414.0 550.1,414.0 550.4,414.0 550.7,414.0 551.0,414.0 551.3,414.0 551.6,414.0 551.9,414.0 552.2,414.0 552.5,414.0 552.8,414.0 553.1,414.0 553.4,414.0 553.7,414.0 554.0,414.0 554.3,414.0 554.6,414.0 554.9,414.0 555.2,414.0 555.5,414.0 555.8,414.0 556.1,414.0 556.4,414.0 556.7,414.0 557.0,414.0 557.3,414.0 557.6,414.0 557.9,414.0 558.2,414.0 558.5,414.0 558.8,414.0 559.1,414.0 559.4,414.0 559.7,414.0 560.0,414.0 560.3,414.0 560.6,414.0 560.9,414.0 561.2,414.0 561.5,414.0 561.8,414.0 562.1,414.0 562.4,414.0 562.7,414.0 563.0,414.0 563.3,414.0 563.6,414.0 563.9,414.0 564.2,414.0 564.5,414.0 564.8,414.0 565.1,414.0 565.4,414.0 565.7,414.0 566.0,414.0" stroke="#FFFF33"/>
<path d="M71.0,272.5 71.3,274.2 71.6,273.0 71.9,273.6 72.2,271.7 72.5,269.7 72.8,270.8 73.1,272.9 73.4,271.8 73.7,270.1 74.0,269.4 74.3,274.3 74.6,273.8 74.9,271.8 75.2,271.0 75.5,273.2 75.8,271.7 76.1,273.7 76.4,271.6 76.7,274.9 77.0,273.1 77.3,273.2 77.6,271.0 77.9,272.6 78.2,274.5 78.5,275.0 78.8,271.7 79.1,272.6 79.4,275.0 79.7,273.7 80.0,274.8 80.3,271.5 80.6,273.5 80.9,273.6 81.2,275.4 81.5,273.0 81.8,273.6 82.1,273.1 82.4,271.0 82.7,274.6 83.0,273.3 83.3,273.2 83.6,274.8 83.9,271.3 84.2,274.0 84.5,272.8 84.8,273.0 85.1,274.0 85.4,274.6 85.7,272.3 86.0,273.4 86.3,272.6 86.6,272.6 86.9,273.8 87.2,274.4 87.5,274.3 87.8,275.9 88.1,275.0 88.4,273.1 88.7,272.8 89.0,271.5 89.3,272.8 89.6,271.8 89.9,274.7 90.2,276.2 90.5,276.5 90.8,276.3 91.1,274.9 91.4,274.3 91.7,275.0 92.0,274.7 92.3,276.6 92.6,273.7 92.9,275.8 93.2,273.7 93.5,275.0 93.8,276.9 94.1,276.5 94.4,277.1 94.7,274.2 95.0,276.9 95.3,273.4 95.6,274.4 95.9,273.6 96.2,274.7 96.5,276.1 96.8,274.7 97.1,273.7 97.4,275.5 97.7,273.0 98.0,274.4 98.3,273.4 98.6,273.8 98.9,277.7 99.2,275.1 99.5,277.0 99.8,277.1 100.1,276.7 100.4,274.2 100.7,276.0 101.0,272.5 101.3,273.6 101.6,276.1 101.9,275.7 102.2,274.5 102.5,276.1 102.8,275.5 103.1,273.1 103.4,275.4 103.7,274.0 104.0,274.6 104.3,275.8 104.6,275.7 104.9,275.9 105.2,277.5 105.5,274.3 105.8,274.8 106.1,274.8 106.4,276.1 106.7,275.9 107.0,274.9 107.3,273.9 107.6,280.2 107.9,275.3 108.2,273.7 108.5,274.0 108.8,269.4 109.1,275.4 109.4,275.8 109.7,274.8 110.0,273.9 110.3,277.8 110.6,275.4 110.9,277.0 111.2,276.4 111.5,276.6 111.8,277.5 112.1,275.9 112.4,275.0 112.7,276.8 113.0,274.9 113.3,278.3 113.6,278.2 113.9,277.0 114.2,276.8 114.5,275.4 114.8,275.7 115.1,281.5 115.4,275.2 115.7,275.9 116.0,275.5 116.3,276.3 116.6,277.8 116.9,278.4 117.2,276.8 117.5,275.9 117.8,277.2 118.1,275.2 118.4,275.6 118.7,274.5 119.0,278.9 119.3,277.6 119.6,277.1 119.9,275.7 120.2,276.5 120.5,276.9 120.8,275.6 121.1,278.2 121.4,281.3 121.7,275.5 122.0,279.6 122.3,277.6 122.6,276.6 122.9,277.8 123.2,277.8 123.5,277.7 123.8,276.7 124.1,276.6 124.4,276.6 124.7,278.7 125.0,277.3 125.3,276.6 125.6,276.6 125.9,275.0 126.2,277.3 126.5,276.1 126.8,277.5 127.1,279.4 127.4,279.5 127.7,278.0 128.0,277.3 128.3,276.6 128.6,278.7 128.9,277.3 129.2,277.1 129.5,277.2 129.8,277.3 130.1,278.4 130.4,277.1 130.7,275.4 131.0,277.2 131.3,276.1 131.6,279.5 131.9,279.4 132.2,278.5 132.5,279.1 132.8,278.0 133.1,279.2 133.4,279.4 133.7,276.8 134.0,280.4 134.3,277.3 134.6,277.4 134.9,278.7 135.2,280.0 135.5,279.8 135.8,276.6 136.1,279.1 136.4,276.3 136.7,276.4 137.0,278.3 137.3,277.7 137.6,280.0 137.9,279.8 138.2,277.9 138.5,280.3 138.8,277.4 139.1,280.5 139.4,280.5 139.7,277.8 140.0,279.9 140.3,278.3 140.6,279.2 140.9,278.5 141.2,278.8 141.5,280.7 141.8,277.8 142.1,277.4 142.4,280.7 142.7,277.7 143.0,280.4 143.3,279.3 143.6,280.8 143.9,280.3 144.2,281.3 144.5,277.4 144.8,280.2 145.2,277.5 145.5,277.0 145.8,276.8 146.1,279.2 146.4,276.6 146.7,277.8 147.0,278.9 147.3,277.9 147.6,280.8 147.9,273.7 148.2,275.1 148.5,279.6 148.8,279.4 149.1,278.2 149.4,279.0 149.7,281.8 150.0,281.1 150.3,278.0 150.6,278.2 150.9,281.4 151.2,281.8 151.5,276.7 151.8,277.2 152.1,279.4 152.4,277.9 152.7,278.8 153.0,279.7 153.3,278.4 153.6,279.8 153.9,281.1 154.2,275.9 154.5,277.3 154.8,277.2 155.1,278.9 155.4,280.0 155.7,279.7 156.0,273.3 156.3,282.1 156.6,279.1 156.9,282.0 157.2,281.3 157.5,281.3 157.8,278.2 158.1,281.9 158.4,278.0 158.7,278.0 159.0,280.2 159.3,278.6 159.6,282.2 159.9,279.1 160.2,280.2 160.5,280.8 160.8,278.3 161.1,281.9 161.4,278.9 161.7,280.3 162.0,279.8 162.3,280.1 162.6,274.6 162.9,279.0 163.2,282.6 163.5,279.9 163.8,278.8 164.1,282.5 164.4,279.8 164.7,279.3 165.0,280.0 165.3,279.1 165.6,279.6 165.9,281.6 166.2,282.8 166.5,279.9 166.8,281.2 167.1,278.7 167.4,282.5 167.7,282.3 168.0,279.6 168.3,281.8 168.6,282.9 168.9,282.0 169.2,282.0 169.5,280.5 169.8,279.7 170.1,280.2 170.4,279.7 170.7,279.9 171.0,278.2 171.3,280.0 171.6,273.5 171.9,280.6 172.2,277.4 172.5,277.9 172.8,281.3 173.1,279.3 173.4,278.8 173.7,277.5 174.0,277.7 174.3,280.8 174.6,279.4 175.0,278.4 175.3,279.7 175.6,278.1 175.9,279.7 176.2,278.7 176.5,277.1 176.8,278.0 177.1,279.3 177.4,279.9 177.7,281.7 178.0,278.6 178.3,280.1 178.6,278.4 178.9,279.9 179.2,278.9 179.5,279.3 179.8,281.7 180.1,279.5 180.4,280.1 180.7,279.8 181.0,282.4 181.3,279.7 181.6,282.4 181.9,280.6 182.2,279.4 182.5,282.6 182.8,280.6 183.1,278.3 183.4,279.4 183.7,281.6 184.0,280.7 184.3,282.0 184.6,279.0 184.9,282.7 185.2,282.7 185.5,281.6 185.8,280.4 186.1,278.1 186.4,281.3 186.7,282.4 187.0,279.5 187.3,278.9 187.6,281.8 187.9,279.6 188.2,279.8 188.5,278.3 188.8,282.4 189.1,279.4 189.4,279.8 189.7,282.5 190.0,282.6 190.3,280.2 190.6,283.2 190.9,282.8 191.2,279.2 191.5,281.5 191.8,283.5 192.1,279.8 192.4,280.3 192.7,282.6 193.0,282.6 193.3,282.9 193.6,279.2 193.9,279.4 194.2,279.3 194.5,280.0 194.9,279.7 195.2,278.9 195.5,279.9 195.8,278.8 196.1,281.3 196.4,281.4 196.7,285.7 197.0,281.6 197.3,279.9 197.6,276.0 197.9,280.1 198.2,279.2 198.5,279.1 198.8,279.1 199.1,281.4 199.4,282.1 199.7,282.7 200.0,280.9 200.3,279.0 200.6,282.1 200.9,282.9 201.2,279.7 201.5,279.5 201.8,281.8 202.1,281.5 202.4,279.2 202.7,280.3 203.0,275.2 203.3,278.8 203.6,281.4 203.9,279.4 204.2,281.3 204.5,281.3 204.8,281.1 205.2,281.0 205.6,198.0 206.0,115.0 206.3,114.6 206.6,114.2 206.9,113.8 207.3,113.4 207.6,113.1 207.9,112.7 208.2,112.3 208.5,111.9 208.8,111.5 209.2,111.1 209.5,110.7 209.8,110.3 210.1,109.9 210.4,109.6 210.8,109.2 211.1,108.8 211.4,108.4 211.7,108.0 212.0,103.6 212.3,99.2 212.7,94.8 213.0,90.4 213.3,86.0 213.6,88.9 213.9,89.5 214.2,84.0 214.5,84.9 214.9,85.5 215.2,91.5 215.5,85.5 215.8,87.1 216.1,84.7 216.4,89.3 216.7,84.2 217.0,85.7 217.3,87.5 217.7,86.2 218.0,84.3 218.3,89.5 218.6,86.8 218.9,91.9 219.2,87.3 219.5,85.8 219.8,89.5 220.1,85.9 220.5,82.8 220.8,89.3 221.1,85.3 221.4,84.3 221.7,87.0 222.0,95.1 222.3,103.2 222.6,111.3 222.9,119.3 223.3,127.4 223.6,135.5 223.9,143.6 224.2,151.7 224.5,145.7 224.8,139.8 225.1,133.8 225.4,127.8 225.7,121.8 226.0,115.9 226.3,109.9 226.6,103.9 226.9,97.9 227.2,92.0 227.5,86.0 227.8,86.7 228.1,74.3 228.4,86.9 228.7,80.5 229.0,89.6 229.3,84.2 229.6,86.1 230.0,81.9 230.3,85.3 230.6,88.4 230.9,84.1 231.2,83.4 231.5,80.7 231.8,89.8 232.1,83.3 232.4,87.3 232.7,83.5 233.0,87.4 233.3,86.1 233.6,87.6 233.9,87.6 234.2,84.3 234.6,88.1 234.9,85.8 235.2,82.3 235.5,89.0 235.8,84.0 236.1,85.5 236.4,89.7 236.7,86.0 237.0,94.7 237.3,103.3 237.6,112.0 237.9,120.7 238.2,129.3 238.5,138.0 238.8,130.3 239.2,122.6 239.5,114.9 239.8,107.1 240.1,99.4 240.5,91.7 240.8,84.0 241.1,85.7 241.4,83.6 241.7,82.5 242.0,84.2 242.3,82.3 242.6,83.2 243.0,86.5 243.3,82.4 243.6,86.7 243.9,82.9 244.2,87.3 244.5,84.0 244.8,80.3 245.1,87.4 245.4,86.5 245.7,86.2 246.0,74.3 246.3,88.9 246.7,88.2 247.0,87.0 247.3,83.6 247.6,88.0 247.9,87.9 248.2,86.5 248.5,84.9 248.8,87.9 249.1,88.9 249.4,87.0 249.7,88.8 250.0,89.3 250.3,83.9 250.7,85.0 251.0,84.2 251.3,83.8 251.6,86.0 251.9,82.8 252.2,85.4 252.5,86.0 253.0,104.0 253.3,104.0 253.6,105.6 253.9,103.8 254.2,105.9 254.5,104.7 254.8,105.3 255.1,103.2 255.4,104.5 255.7,102.9 256.0,98.2 256.3,105.6 256.6,103.2 256.9,103.8 257.2,104.9 257.5,102.7 257.8,102.4 258.1,102.4 258.4,105.8 258.7,103.1 259.0,104.1 259.3,103.6 259.6,104.4 259.9,103.1 260.2,104.6 260.5,103.5 260.8,102.6 261.1,104.1 261.4,102.4 261.7,107.2 262.0,103.1 262.3,102.1 262.6,104.1 262.9,103.5 263.2,104.9 263.5,104.6 263.8,103.8 264.1,103.1 264.4,104.5 264.7,104.6 265.0,104.4 265.3,104.5 265.6,105.5 265.9,105.6 266.2,106.0 266.5,104.3 266.8,104.8 267.2,105.8 267.5,103.4 267.8,104.4 268.1,105.5 268.4,104.3 268.7,103.3 269.0,104.3 269.3,105.7 269.6,101.3 269.9,105.4 270.2,105.2 270.5,105.3 270.8,103.3 271.1,105.6 271.4,102.4 271.7,102.9 272.0,102.7 272.3,101.4 272.6,102.4 272.9,103.2 273.2,102.7 273.5,101.5 273.8,103.7 274.1,101.3 274.4,101.4 274.7,102.0 275.0,103.2 275.3,101.0 275.6,102.0 275.9,102.3 276.2,102.9 276.5,102.0 276.8,104.3 277.1,100.5 277.4,105.0 277.7,105.2 278.0,102.5 278.3,104.7 278.6,104.7 278.9,105.3 279.2,105.6 279.5,105.5 279.8,105.2 280.1,103.7 280.4,105.2 280.7,102.1 281.0,104.0 281.4,99.5 281.7,95.0 282.0,99.5 282.4,104.0 282.7,105.1 283.0,104.2 283.3,104.5 283.6,105.4 283.9,102.9 284.2,103.6 284.5,103.5 284.8,104.3 285.1,103.2 285.4,103.8 285.7,105.7 286.0,106.0 286.3,105.5 286.6,103.7 286.9,105.8 287.2,102.4 287.5,102.9 287.8,103.9 288.1,102.4 288.4,103.9 288.7,103.6 289.0,104.0 289.4,104.0 289.7,120.5 290.0,137.0 290.3,136.0 290.6,138.0 290.9,135.1 291.2,137.8 291.5,136.1 291.8,137.3 292.1,139.0 292.4,138.5 292.7,135.6 293.0,137.8 293.3,136.4 293.6,137.8 293.9,138.9 294.2,136.4 294.5,136.1 294.8,137.3 295.1,137.6 295.4,137.2 295.7,136.6 296.0,138.8 296.3,136.9 296.6,139.8 296.9,135.4 297.2,139.0 297.5,136.2 297.8,138.4 298.1,137.4 298.4,135.5 298.7,138.9 299.0,138.5 299.3,138.0 299.6,135.1 299.9,136.2 300.2,134.8 300.5,135.2 300.8,138.2 301.1,136.4 301.4,138.1 301.7,137.4 302.0,136.4 302.4,138.8 302.7,136.9 303.0,137.3 303.3,136.8 303.6,137.3 303.9,138.7 304.2,137.2 304.5,136.6 304.8,135.2 305.1,138.3 305.4,136.1 305.7,135.9 306.0,136.1 306.3,134.4 306.6,139.4 306.9,139.6 307.2,137.8 307.5,137.5 307.8,140.3 308.1,139.4 308.4,139.6 308.7,139.2 309.0,140.9 309.3,138.0 309.6,140.2 309.9,137.4 310.2,137.7 310.5,139.3 310.8,139.9 311.1,137.1 311.4,137.4 311.7,138.7 312.0,140.2 312.3,141.0 312.6,139.3 312.9,136.9 313.2,138.1 313.5,138.7 313.8,138.4 314.1,136.5 314.4,138.5 314.7,130.8 315.0,123.0 315.3,122.6 315.6,123.1 315.9,121.8 316.2,122.6 316.5,123.6 316.8,123.2 317.1,121.9 317.4,122.2 317.7,123.1 318.0,123.8 318.3,123.1 318.6,122.3 318.9,123.1 319.2,122.7 319.5,122.3 319.8,123.5 320.1,121.6 320.4,122.0 320.7,122.9 321.0,121.6 321.3,121.8 321.6,121.7 321.9,123.3 322.2,123.5 322.5,122.9 322.8,121.9 323.1,122.3 323.4,122.2 323.7,121.6 324.0,122.9 324.3,121.9 324.6,121.7 324.9,121.8 325.2,121.4 325.5,122.0 326.0,116.7 326.3,116.5 326.6,115.9 326.9,116.7 327.2,115.5 327.5,115.8 327.8,115.5 328.1,115.2 328.4,118.3 328.7,117.0 329.0,114.6 329.3,117.0 329.6,116.7 329.9,116.5 330.2,115.7 330.5,116.6 330.8,118.0 331.1,118.8 331.4,119.2 331.7,116.1 332.0,115.4 332.3,117.8 332.6,116.8 332.9,114.8 333.2,117.2 333.5,117.4 333.8,116.8 334.1,115.1 334.4,115.4 334.7,114.8 335.0,117.5 335.3,114.4 335.6,116.6 335.9,114.8 336.2,114.8 336.5,116.1 336.8,118.1 337.1,117.6 337.4,115.3 337.7,117.6 338.0,115.3 338.3,118.0 338.6,116.9 338.9,115.0 339.2,116.7 339.5,117.2 339.8,116.8 340.1,117.3 340.4,116.2 340.7,116.4 341.0,117.9 341.3,116.9 341.6,114.7 341.9,115.6 342.2,115.7 342.5,117.2 342.8,118.4 343.1,120.9 343.4,117.4 343.7,118.1 344.0,116.1 344.3,116.4 344.6,116.4 344.9,115.9 345.2,117.5 345.5,116.4 345.8,118.2 346.1,116.0 346.4,116.3 346.7,117.3 347.0,112.6 347.3,116.8 347.6,116.4 347.9,117.3 348.2,117.9 348.5,117.7 348.8,115.6 349.1,116.4 349.4,117.1 349.7,111.3 350.0,118.8 350.3,119.0 350.6,117.7 350.9,116.4 351.2,116.3 351.5,118.3 351.8,118.3 352.1,117.4 352.4,118.0 352.7,117.7 353.0,118.6 353.3,115.1 353.6,115.6 353.9,116.1 354.2,118.4 354.5,118.3 354.8,116.0 355.1,115.4 355.4,118.8 355.7,116.7 356.0,117.1 356.3,117.7 356.6,118.4 356.9,116.1 357.2,117.6 357.5,117.5 357.8,116.5 358.1,118.2 358.4,116.4 358.7,115.9 359.0,117.8 359.3,117.2 359.6,117.4 359.9,119.0 360.2,119.3 360.5,113.9 360.8,119.0 361.1,110.8 361.4,114.8 361.7,116.4 362.0,116.5 362.3,115.3 362.6,115.0 362.9,116.1 363.2,115.9 363.5,118.2 363.8,116.4 364.1,114.7 364.4,115.2 364.7,116.5 365.0,118.5 365.3,116.4 365.6,113.2 365.9,117.8 366.2,116.5 366.5,117.4 366.8,116.1 367.1,115.7 367.4,114.9 367.7,116.0 368.0,116.1 368.3,114.3 368.6,115.7 368.9,117.2 369.2,117.1 369.5,114.8 369.8,117.3 370.1,118.3 370.4,118.6 370.7,118.1 371.0,116.9 371.3,117.7 371.6,114.9 371.9,116.8 372.2,117.6 372.5,117.1 372.8,117.6 373.1,115.7 373.4,116.3 373.7,116.3 374.0,115.5 374.3,115.4 374.6,115.1 374.9,115.4 375.2,117.3 375.5,114.5 375.8,117.1 376.1,115.9 376.4,115.9 376.7,113.9 377.0,114.3 377.3,115.6 377.6,115.8 377.9,114.3 378.2,118.8 378.5,118.2 378.8,117.9 379.1,117.1 379.4,115.2 379.7,118.0 380.0,116.7 380.3,117.2 380.6,115.3 380.9,116.5 381.2,118.3 381.5,117.6 381.8,116.5 382.1,116.2 382.4,116.2 382.7,114.7 383.0,118.7 383.3,117.3 383.6,114.9 383.9,118.4 384.2,117.7 384.5,115.8 384.8,115.9 385.1,115.0 385.4,117.9 385.7,119.7 386.0,115.3 386.3,119.4 386.6,118.0 386.9,115.7 387.2,117.3 387.5,117.9 387.8,116.3 388.1,118.3 388.4,118.4 388.7,117.4 389.0,115.6 389.3,115.1 389.6,116.0 389.9,116.0 390.2,117.5 390.5,115.4 390.8,114.5 391.1,115.9 391.4,113.5 391.7,118.3 392.0,118.3 392.3,113.4 392.6,115.9 392.9,114.8 393.2,117.3 393.5,114.7 393.8,118.2 394.2,117.1 394.5,115.3 394.8,117.9 395.1,116.6 395.4,114.9 395.7,115.9 396.0,117.0 396.3,115.1 396.6,118.0 396.9,115.3 397.2,114.6 397.5,117.6 397.8,116.4 398.1,115.6 398.4,118.5 398.7,117.6 399.0,116.6 399.3,114.0 399.6,114.2 399.9,113.5 400.2,116.0 400.5,116.3 400.8,117.4 401.1,117.1 401.4,117.9 401.7,113.9 402.0,116.9 402.3,114.4 402.6,116.1 402.9,116.1 403.2,115.8 403.5,114.7 403.8,118.5 404.1,110.9 404.4,115.6 404.7,118.9 405.0,119.5 405.3,116.8 405.6,116.4 405.9,119.0 406.2,115.2 406.5,116.6 406.8,119.5 407.1,119.4 407.4,118.5 407.7,114.2 408.0,116.7 408.5,90.0 409.0,112.0 409.5,84.0 410.0,110.0 410.5,82.0 411.0,112.0 411.5,83.0 412.0,114.0 412.5,88.0 413.0,116.0 413.5,98.0 414.0,120.0 414.5,108.0 415.0,124.0 415.3,126.4 415.7,128.8 416.0,131.2 416.3,133.5 416.7,135.9 417.0,138.3 417.3,136.3 417.6,134.2 417.9,132.2 418.2,130.2 418.5,128.2 418.8,126.1 419.1,124.1 419.4,122.1 419.7,120.0 420.0,118.0 420.3,117.5 420.7,117.0 421.0,116.5 421.3,116.0 421.7,115.5 422.0,115.0 422.3,113.7 422.6,117.6 422.9,115.3 423.2,118.2 423.5,117.7 423.8,113.6 424.1,114.8 424.4,113.6 424.7,116.8 425.0,112.5 425.3,115.7 425.6,115.2 425.9,115.5 426.2,116.8 426.5,117.0 426.8,117.9 427.1,115.0 427.4,115.8 427.7,112.7 428.0,110.7 428.3,111.7 428.6,113.6 428.9,116.1 429.2,115.9 429.5,116.9 429.8,111.3 430.1,114.8 430.4,111.6 430.7,113.3 431.0,113.0 431.3,113.6 431.6,122.5 431.9,110.8 432.2,116.7 432.5,116.2 432.8,115.7 433.1,115.3 433.4,111.9 433.7,116.6 434.0,114.0 434.3,114.0 434.6,113.7 434.9,117.1 435.2,115.2 435.5,113.4 435.8,117.2 436.2,117.8 436.5,115.6 436.8,114.5 437.1,117.5 437.4,112.1 437.7,111.1 438.0,114.3 438.3,114.1 438.6,113.8 438.9,116.6 439.2,113.9 439.5,112.7 439.8,113.5 440.1,116.6 440.4,114.3 440.7,116.6 441.0,116.3 441.3,115.0 441.6,117.2 441.9,111.0 442.2,116.1 442.5,117.5 442.8,116.1 443.1,113.1 443.4,113.0 443.7,116.6 444.0,112.4 444.3,114.2 444.6,112.0 444.9,114.8 445.2,111.1 445.5,114.3 445.8,111.0 446.1,116.0 446.4,115.1 446.7,111.4 447.0,111.8 447.3,111.6 447.6,116.5 447.9,115.4 448.2,111.1 448.5,116.0 448.8,111.0 449.1,116.6 449.4,114.1 449.7,117.1 450.0,114.0 450.3,116.6 450.6,118.9 450.9,113.4 451.2,114.1 451.5,114.6 451.8,117.6 452.1,114.5 452.4,114.2 452.7,114.1 453.0,113.0 453.3,114.8 453.6,116.8 453.9,113.3 454.2,115.9 454.5,119.3 454.8,118.5 455.1,115.9 455.4,116.1 455.7,115.4 456.0,112.7 456.3,112.1 456.6,114.6 456.9,118.0 457.2,118.5 457.5,117.3 457.8,119.6 458.1,114.1 458.4,115.1 458.7,116.5 459.0,119.8 459.3,115.1 459.6,114.5 459.9,116.0 460.2,115.8 460.5,119.3 460.8,116.5 461.1,116.0 461.4,116.7 461.7,115.9 462.0,112.6 462.3,112.7 462.6,117.8 462.9,113.8 463.2,115.8 463.5,111.9 463.8,112.3 464.2,115.6 464.5,111.7 464.8,115.2 465.1,117.2 465.4,112.8 465.7,120.0 466.0,115.9 466.3,111.0 466.6,110.2 466.9,114.7 467.2,112.2 467.5,115.8 467.8,112.0 468.1,115.9 468.4,111.5 468.7,113.0 469.0,118.9 469.3,116.5 469.6,118.4 469.9,114.8 470.2,116.2 470.5,115.5 470.8,112.9 471.1,106.0 471.4,116.4 471.7,113.6 472.0,116.3 472.3,116.4 472.6,113.6 472.9,113.8 473.2,113.2 473.5,119.8 473.8,115.4 474.1,113.2 474.4,116.8 474.7,115.5 475.0,116.2 475.3,111.6 475.6,116.9 475.9,115.0 476.2,118.2 476.5,111.0 476.8,115.4 477.1,116.9 477.4,116.7 477.7,116.8 478.0,115.0 478.5,115.0 479.0,172.0 479.3,202.3 479.7,232.7 480.0,263.0 480.3,267.0 480.7,271.0 481.0,275.0 481.4,279.0 481.7,283.0 482.0,284.4 482.4,285.9 482.7,287.3 483.0,288.7 483.3,290.1 483.7,291.6 484.0,293.0 484.3,293.4 484.6,293.7 484.9,294.1 485.2,294.4 485.5,294.8 485.8,295.1 486.1,295.5 486.5,295.9 486.8,296.2 487.1,296.6 487.4,296.9 487.7,297.3 488.0,297.6 488.3,298.0 488.6,298.2 488.9,298.4 489.2,298.6 489.5,298.9 489.8,299.1 490.1,299.3 490.4,299.5 490.8,299.7 491.1,299.9 491.4,300.1 491.7,300.4 492.0,300.6 492.3,300.8 492.6,301.0 492.9,301.2 493.2,301.4 493.5,301.6 493.8,301.9 494.1,302.1 494.4,302.3 494.8,302.5 495.1,302.6 495.4,302.7 495.7,302.8 496.0,302.9 496.4,303.0 496.7,303.1 497.0,303.2 497.3,303.0 497.6,303.0 497.9,303.0 498.2,303.2 498.5,303.2 498.8,303.3 499.1,303.2 499.4,303.2 499.7,303.0 500.0,303.3 500.3,303.1 500.6,303.0 500.9,303.2 501.2,303.1 501.5,303.0 501.8,303.0 502.1,303.2 502.4,303.4 502.8,303.3 503.1,303.3 503.4,303.0 503.7,303.2 504.0,303.0 504.3,302.6 504.6,303.0 504.9,303.3 505.2,303.1 505.5,303.4 505.8,303.2 506.1,303.5 506.4,303.1 506.7,303.3 507.0,303.1 507.3,303.1 507.6,303.4 507.9,303.1 508.2,303.5 508.5,303.2 508.8,303.5 509.1,303.7 509.4,304.0 509.8,304.2 510.1,304.5 510.4,304.8 510.7,305.0 511.0,305.3 511.3,304.9 511.6,305.0 511.9,305.3 512.2,305.1 512.5,305.1 512.8,305.3 513.1,305.7 513.4,305.6 513.7,305.2 514.0,305.5 514.3,305.4 514.6,305.4 514.9,305.4 515.2,305.5 515.5,305.6 515.8,305.7 516.1,305.8 516.4,304.8 516.7,305.6 517.0,305.6 517.3,305.3 517.6,305.8 517.9,305.2 518.2,304.7 518.5,305.7 518.8,305.6 519.1,304.8 519.4,306.2 519.7,304.4 520.0,306.1 520.3,305.1 520.6,305.9 520.9,306.1 521.2,305.7 521.5,305.2 521.8,305.2 522.1,306.1 522.4,305.7 522.7,305.4 523.0,305.0 523.3,305.2 523.6,305.3 523.9,306.1 524.2,306.3 524.5,304.5 524.8,305.4 525.1,306.0 525.4,305.7 525.7,305.9 526.0,305.1 526.3,305.7 526.6,305.4 526.9,304.8 527.2,305.2 527.5,305.9 527.8,305.3 528.1,305.1 528.4,306.2 528.7,305.5 529.0,305.0 529.3,305.1 529.6,305.3 529.9,305.8 530.2,305.2 530.5,305.3 530.8,305.8 531.1,306.0 531.4,304.8 531.7,305.2 532.0,305.6 532.3,304.9 532.6,304.7 532.9,306.2 533.2,306.2 533.5,306.3 533.8,305.0 534.1,305.0 534.4,305.7 534.7,305.0 535.0,305.0 535.3,305.6 535.6,305.7 535.9,305.1 536.2,304.8 536.5,305.4 536.8,305.9 537.1,305.9 537.4,305.1 537.7,305.2 538.0,306.0 538.3,305.1 538.6,306.3 538.9,305.4 539.2,305.9 539.5,305.9 539.8,304.8 540.1,305.2 540.4,305.1 540.7,306.3 541.0,305.3 541.3,304.5 541.6,304.8 541.9,304.8 542.2,305.2 542.5,306.3 542.8,305.4 543.1,305.4 543.4,305.4 543.7,306.2 544.0,305.8 544.3,305.6 544.6,305.8 544.9,304.8 545.2,304.7 545.5,305.8 545.8,305.0 546.1,306.5 546.4,304.6 546.7,306.2 547.0,305.1 547.3,305.2 547.6,305.9 547.9,304.8 548.2,306.2 548.5,306.1 548.8,305.3 549.2,306.7 549.5,305.0 549.8,306.4 550.1,305.6 550.4,305.3 550.7,305.8 551.0,305.3 551.3,306.0 551.6,306.2 551.9,305.4 552.2,305.4 552.5,307.1 552.8,306.3 553.1,306.1 553.4,305.2 553.7,305.5 554.0,306.5 554.3,306.1 554.6,306.0 554.9,306.7 555.2,306.6 555.5,306.7 555.8,304.8 556.1,306.5 556.4,305.4 556.7,305.2 557.0,306.6 557.3,305.8 557.6,306.3 557.9,305.0 558.2,305.9 558.5,306.4 558.8,305.7 559.1,305.0 559.4,305.1 559.7,305.5 560.0,306.3 560.3,305.3 560.6,305.4 560.9,305.8 561.2,306.2 561.5,304.3 561.8,306.1 562.1,306.3 562.4,305.6 562.7,305.6 563.0,306.3 563.3,305.0 563.6,306.0 563.9,306.4 564.2,305.3 564.5,306.3 564.8,303.7 565.1,306.1 565.4,306.2 565.7,306.1 566.0,305.8" stroke="#A65628"/>
<path d="M71.0,246.8 71.3,246.4 71.6,247.1 71.9,247.7 72.2,248.1 72.5,247.9 72.8,247.8 73.1,245.8 73.4,248.1 73.7,247.4 74.0,246.9 74.3,245.9 74.6,246.5 74.9,247.2 75.2,248.1 75.5,246.2 75.8,247.4 76.1,248.0 76.4,248.3 76.7,248.0 77.0,246.2 77.3,248.1 77.6,248.7 77.9,246.1 78.2,246.9 78.6,247.8 78.9,246.8 79.2,248.0 79.5,247.9 79.8,248.0 80.1,247.9 80.4,246.0 80.7,248.1 81.0,246.7 81.3,247.9 81.6,244.0 81.9,245.6 82.2,246.0 82.5,246.0 82.8,248.0 83.1,248.2 83.4,249.1 83.7,247.7 84.0,248.9 84.3,246.2 84.6,246.4 84.9,249.0 85.2,246.4 85.5,245.0 85.8,247.0 86.1,247.3 86.4,248.3 86.7,250.2 87.0,247.1 87.3,249.2 87.6,246.5 87.9,246.3 88.2,247.1 88.5,247.0 88.8,248.3 89.1,246.6 89.4,248.1 89.7,247.4 90.0,247.3 90.3,247.2 90.6,247.0 90.9,248.4 91.2,246.9 91.5,247.3 91.8,248.5 92.1,248.7 92.4,247.4 92.8,248.0 93.1,246.6 93.4,247.4 93.7,247.0 94.0,249.3 94.3,248.1 94.6,246.7 94.9,246.9 95.2,249.2 95.5,249.4 95.8,248.0 96.1,247.2 96.4,247.6 96.7,247.4 97.0,246.7 97.3,248.5 97.6,246.4 97.9,247.2 98.2,248.2 98.5,248.4 98.8,246.3 99.1,247.0 99.4,246.5 99.7,248.8 100.0,248.2 100.3,247.9 100.6,247.0 100.9,249.4 101.2,247.0 101.5,246.9 101.8,249.1 102.1,248.7 102.4,247.9 102.7,248.1 103.0,249.6 103.3,249.2 103.6,249.9 103.9,248.7 104.2,248.0 104.5,247.5 104.8,249.5 105.1,249.6 105.4,249.6 105.7,248.8 106.0,248.5 106.3,249.2 106.6,249.2 106.9,250.4 107.2,247.5 107.5,249.6 107.8,249.7 108.1,247.9 108.4,250.4 108.7,249.7 109.0,250.1 109.3,248.2 109.6,248.0 109.9,249.6 110.2,247.8 110.5,249.1 110.8,250.1 111.1,248.8 111.4,249.8 111.7,249.4 112.0,250.2 112.3,247.9 112.7,248.3 113.0,249.3 113.3,250.1 113.6,251.8 113.9,250.7 114.2,249.8 114.5,250.9 114.8,249.8 115.1,251.2 115.4,249.8 115.7,248.7 116.0,248.7 116.3,248.6 116.6,251.0 116.9,249.9 117.2,248.6 117.5,250.0 117.8,249.6 118.1,250.4 118.4,248.4 118.7,251.1 119.0,248.3 119.3,249.9 119.6,250.6 119.9,248.3 120.2,250.9 120.5,249.4 120.8,249.3 121.1,248.5 121.4,248.9 121.7,251.5 122.0,251.6 122.3,252.0 122.6,250.4 122.9,251.1 123.2,249.5 123.5,251.4 123.8,250.8 124.1,251.7 124.4,250.3 124.7,250.1 125.0,250.0 125.3,251.6 125.6,248.9 125.9,249.2 126.2,248.2 126.5,249.2 126.8,249.2 127.1,254.4 127.4,249.3 127.7,251.6 128.0,251.4 128.3,249.8 128.6,251.7 128.9,251.9 129.2,249.8 129.5,248.9 129.8,251.4 130.1,249.2 130.4,248.9 130.7,250.2 131.0,250.4 131.3,250.8 131.6,248.9 131.9,250.9 132.2,250.5 132.5,250.3 132.8,250.1 133.1,250.7 133.4,251.1 133.7,251.5 134.0,250.3 134.3,248.9 134.6,249.8 134.9,250.3 135.2,250.6 135.5,251.5 135.8,250.1 136.1,250.0 136.4,248.7 136.7,248.8 137.0,250.0 137.3,250.9 137.6,247.0 137.9,250.8 138.2,249.5 138.5,249.4 138.8,251.1 139.1,248.7 139.4,250.5 139.7,251.4 140.0,248.8 140.3,249.4 140.6,249.0 140.9,249.0 141.2,250.1 141.5,250.6 141.8,249.7 142.1,246.9 142.4,250.4 142.7,249.9 143.0,250.7 143.3,250.5 143.6,249.8 143.9,250.3 144.2,249.1 144.5,249.1 144.8,253.6 145.2,251.0 145.5,249.5 145.8,250.0 146.1,249.3 146.4,250.8 146.7,248.9 147.0,249.7 147.3,248.8 147.6,250.0 147.9,248.7 148.2,249.7 148.5,250.9 148.8,251.6 149.1,250.8 149.4,251.9 149.7,251.4 150.0,251.3 150.3,249.2 150.6,251.3 150.9,249.9 151.2,250.9 151.5,249.9 151.8,251.3 152.1,251.0 152.4,251.7 152.7,251.5 153.0,249.3 153.3,250.3 153.6,250.7 153.9,249.5 154.2,251.4 154.5,254.1 154.8,249.2 155.1,249.2 155.4,249.9 155.7,249.9 156.0,250.7 156.3,250.5 156.6,251.2 156.9,250.8 157.2,249.6 157.5,251.0 157.8,250.7 158.1,249.1 158.4,250.4 158.7,249.9 159.0,250.3 159.3,250.9 159.6,250.5 159.9,251.8 160.2,250.0 160.5,250.3 160.8,251.6 161.1,250.8 161.4,251.9 161.7,251.0 162.0,251.9 162.3,250.4 162.6,249.8 162.9,251.6 163.2,249.6 163.5,249.5 163.8,251.3 164.1,249.8 164.4,249.7 164.7,251.2 165.0,251.0 165.3,252.8 165.6,251.4 165.9,250.3 166.2,251.2 166.5,250.5 166.8,247.9 167.1,252.5 167.4,252.4 167.7,250.7 168.0,250.9 168.3,251.6 168.6,250.2 168.9,251.7 169.2,251.9 169.5,251.9 169.8,252.5 170.1,252.8 170.4,251.0 170.7,252.2 171.0,252.3 171.3,251.3 171.6,252.4 171.9,252.7 172.2,252.0 172.5,250.6 172.8,252.4 173.1,251.4 173.4,250.1 173.7,250.3 174.0,250.9 174.3,249.8 174.6,250.1 175.0,252.2 175.3,251.8 175.6,250.6 175.9,250.4 176.2,250.3 176.5,252.8 176.8,251.6 177.1,252.1 177.4,251.1 177.7,251.7 178.0,251.6 178.3,252.4 178.6,250.4 178.9,252.4 179.2,252.9 179.5,250.9 179.8,246.1 180.1,250.4 180.4,251.0 180.7,250.6 181.0,251.3 181.3,253.3 181.6,252.4 181.9,254.6 182.2,252.6 182.5,251.4 182.8,251.4 183.1,251.9 183.4,249.5 183.7,251.2 184.0,252.1 184.3,249.7 184.6,249.8 184.9,251.4 185.2,250.9 185.5,251.2 185.8,252.8 186.1,248.1 186.4,251.2 186.7,252.2 187.0,251.3 187.3,250.4 187.6,251.1 187.9,250.5 188.2,250.8 188.5,252.1 188.8,251.2 189.1,252.0 189.4,251.2 189.7,252.5 190.0,252.3 190.3,250.5 190.6,252.4 190.9,252.0 191.2,250.6 191.5,251.4 191.8,251.9 192.1,251.8 192.4,252.3 192.7,251.9 193.0,252.8 193.3,250.9 193.6,251.6 193.9,251.1 194.2,252.8 194.5,252.7 194.9,252.8 195.2,252.2 195.5,251.3 195.8,250.4 196.1,252.1 196.4,252.8 196.7,251.3 197.0,250.3 197.3,252.1 197.6,251.8 197.9,251.7 198.2,252.4 198.5,252.1 198.8,251.7 199.1,251.5 199.4,253.1 199.7,250.8 200.0,252.3 200.3,251.3 200.6,250.9 200.9,251.2 201.2,251.2 201.5,252.7 201.8,251.9 202.1,251.2 202.4,251.2 202.7,252.5 203.0,251.6 203.3,251.6 203.6,252.8 203.9,251.7 204.2,249.3 204.5,251.6 205.0,251.5 205.4,154.8 205.8,58.0 206.2,52.3 206.6,46.7 207.0,41.0 207.3,41.9 207.6,40.1 207.9,40.5 208.2,41.2 208.6,40.4 208.9,39.7 209.2,39.4 209.5,40.0 209.8,45.5 210.2,51.0 210.5,56.5 210.8,62.0 211.1,55.9 211.5,49.8 211.8,43.7 212.2,37.6 212.5,31.5 212.8,32.1 213.1,30.0 213.4,31.6 213.7,33.2 214.0,33.6 214.3,32.6 214.7,32.1 215.0,32.0 215.3,33.0 215.6,32.7 215.9,30.7 216.2,33.2 216.5,31.8 216.8,33.1 217.1,32.1 217.4,33.3 217.7,31.9 218.0,31.5 218.3,33.9 218.6,34.8 219.0,33.4 219.3,33.4 219.6,34.4 219.9,29.8 220.2,36.1 220.5,38.5 220.8,34.0 221.1,39.2 221.5,44.4 221.8,49.6 222.2,54.8 222.5,60.0 222.8,73.6 223.2,87.2 223.5,100.8 223.9,114.4 224.2,128.0 224.5,116.7 224.8,105.3 225.1,94.0 225.4,82.7 225.7,71.3 226.0,60.0 226.3,54.5 226.6,49.0 226.9,43.5 227.2,38.0 227.5,32.5 227.8,31.4 228.1,35.1 228.4,34.0 228.7,32.3 229.0,31.1 229.3,29.9 229.6,31.0 230.0,32.3 230.3,32.7 230.6,32.3 230.9,31.9 231.2,32.4 231.5,32.0 231.8,31.8 232.1,33.7 232.4,31.4 232.7,33.9 233.0,31.9 233.3,30.3 233.6,33.5 233.9,30.8 234.2,33.5 234.6,30.6 234.9,33.4 235.2,30.7 235.5,33.1 235.8,32.2 236.1,31.2 236.4,31.8 236.7,32.0 237.0,37.0 237.3,42.0 237.7,47.0 238.0,52.0 238.3,57.0 238.6,53.2 238.9,49.4 239.2,45.6 239.6,41.9 239.9,38.1 240.2,34.3 240.5,30.5 240.8,26.7 241.1,27.7 241.4,28.5 241.7,29.7 242.1,30.4 242.4,31.2 242.7,30.5 243.0,32.0 243.3,32.8 243.6,28.8 244.0,33.2 244.3,31.2 244.6,33.2 244.9,31.3 245.2,32.0 245.6,32.7 245.9,32.3 246.2,32.5 246.7,26.0 247.2,32.5 247.5,31.4 247.8,31.9 248.1,32.5 248.4,34.5 248.8,33.5 249.1,32.9 249.4,32.2 249.7,32.2 250.0,31.5 250.3,33.8 250.6,32.7 250.9,33.2 251.3,31.8 251.6,33.4 251.9,33.0 252.2,31.9 252.5,33.0 253.0,40.0 253.3,40.0 253.6,40.9 253.9,40.2 254.2,40.0 254.5,39.7 254.8,41.2 255.1,41.1 255.4,37.2 255.7,39.3 256.0,38.4 256.3,39.1 256.6,40.6 256.9,40.7 257.2,38.2 257.5,39.1 257.8,40.0 258.1,41.7 258.4,38.7 258.7,40.6 259.0,38.9 259.3,39.1 259.6,41.6 259.9,38.4 260.2,41.4 260.5,35.8 260.8,39.6 261.1,42.2 261.4,42.3 261.7,39.0 262.0,41.3 262.3,41.9 262.6,40.3 262.9,41.5 263.2,39.5 263.5,40.5 263.8,40.0 264.1,39.9 264.4,39.5 264.7,38.9 265.0,41.8 265.3,38.5 265.6,41.0 265.9,39.1 266.2,41.5 266.5,35.8 266.8,39.5 267.1,39.6 267.4,41.3 267.7,41.7 268.0,40.0 268.3,41.1 268.6,40.3 268.9,40.0 269.2,36.9 269.5,40.9 269.8,39.6 270.1,40.9 270.4,38.4 270.7,41.0 271.0,41.2 271.3,39.2 271.6,40.8 271.9,39.9 272.2,40.9 272.5,39.8 272.8,37.9 273.1,40.1 273.4,39.1 273.7,37.4 274.0,39.3 274.3,40.0 274.6,37.5 274.9,34.0 275.2,39.2 275.5,37.9 275.8,33.0 276.1,37.5 276.4,38.5 276.7,38.5 277.0,37.8 277.3,38.4 277.6,38.6 277.9,38.9 278.2,41.0 278.5,38.4 278.8,39.6 279.1,39.2 279.4,39.5 279.7,40.7 280.0,38.3 280.3,40.4 280.6,39.3 280.9,33.9 281.2,39.3 281.5,41.6 281.8,40.1 282.1,41.0 282.4,38.1 282.7,35.2 283.0,39.0 283.3,40.5 283.6,38.9 283.9,37.8 284.2,38.9 284.5,40.5 284.8,38.2 285.1,39.0 285.4,40.0 285.7,39.8 286.0,37.9 286.3,40.7 286.6,40.6 286.9,39.8 287.2,36.1 287.5,38.8 287.8,39.7 288.1,39.9 288.4,38.1 288.7,40.8 289.0,39.5 289.4,39.0 289.8,46.2 290.1,53.3 290.5,60.5 290.8,58.6 291.1,58.6 291.4,60.1 291.7,60.5 292.0,59.4 292.3,62.0 292.6,59.9 293.0,60.7 293.3,58.5 293.6,59.5 293.9,59.7 294.2,62.1 294.5,59.6 294.8,62.0 295.1,60.6 295.4,59.9 295.7,58.8 296.0,64.4 296.3,62.1 296.6,59.6 296.9,58.6 297.2,60.9 297.5,61.8 297.9,60.3 298.2,60.4 298.5,62.0 298.8,59.2 299.1,60.4 299.4,61.3 299.7,61.4 300.0,60.5 300.3,60.0 300.6,60.3 300.9,60.1 301.2,60.8 301.5,63.0 301.8,59.8 302.1,61.6 302.4,59.7 302.7,60.9 303.0,59.9 303.3,60.1 303.7,63.4 304.0,62.0 304.3,62.4 304.6,61.8 304.9,63.3 305.2,62.5 305.5,64.3 305.8,64.6 306.1,64.4 306.4,64.0 306.7,63.3 307.0,63.5 307.3,64.5 307.6,62.6 307.9,64.1 308.2,64.3 308.5,64.2 308.8,63.5 309.1,62.8 309.4,63.1 309.7,63.3 310.0,60.8 310.3,63.1 310.6,62.7 310.9,62.0 311.2,62.0 311.5,61.5 311.8,60.1 312.1,62.5 312.4,61.9 312.7,62.2 313.0,62.6 313.3,61.7 313.6,60.7 314.0,59.6 314.4,58.5 314.7,57.5 315.0,56.5 315.4,55.4 315.7,55.5 316.0,54.3 316.3,55.7 316.6,55.6 316.9,54.5 317.2,58.0 317.5,55.6 317.8,52.5 318.2,54.8 318.5,56.0 318.8,56.4 319.1,55.2 319.4,54.5 319.7,54.5 320.0,56.2 320.3,55.6 320.6,56.2 320.9,55.1 321.2,55.1 321.5,55.3 321.8,55.9 322.1,55.7 322.4,56.1 322.7,55.8 323.1,56.1 323.4,55.3 323.7,55.5 324.0,54.6 324.3,56.2 324.6,55.1 324.9,54.5 325.2,54.2 325.5,55.0 326.0,52.8 326.3,52.8 326.6,53.0 326.9,52.2 327.2,51.9 327.5,52.7 327.8,52.4 328.1,53.4 328.4,53.3 328.7,53.3 329.0,53.2 329.3,53.0 329.6,51.8 329.9,53.7 330.2,53.0 330.5,52.2 330.8,51.7 331.1,53.2 331.4,53.4 331.7,53.0 332.0,55.9 332.3,53.9 332.6,53.7 332.9,54.2 333.2,53.7 333.5,52.2 333.8,53.1 334.1,54.4 334.4,53.5 334.7,53.2 335.0,53.0 335.3,52.8 335.6,52.6 335.9,52.5 336.2,53.3 336.5,53.2 336.8,53.6 337.1,52.1 337.4,54.0 337.7,53.5 338.0,53.5 338.3,54.5 338.6,53.4 338.9,54.4 339.2,53.1 339.5,54.3 339.8,54.4 340.1,53.2 340.4,52.4 340.8,53.1 341.1,54.8 341.4,53.4 341.7,53.2 342.0,54.1 342.3,53.6 342.6,52.3 342.9,52.6 343.2,53.4 343.5,52.6 343.8,53.7 344.1,53.9 344.4,52.2 344.7,52.7 345.0,53.0 345.3,54.2 345.6,52.6 345.9,52.9 346.2,52.2 346.5,53.5 346.8,53.3 347.1,51.6 347.4,53.9 347.7,52.2 348.0,54.1 348.3,51.9 348.6,53.7 348.9,54.4 349.2,54.1 349.5,52.8 349.8,53.8 350.1,54.3 350.4,52.4 350.7,54.2 351.0,54.0 351.3,54.9 351.6,52.4 351.9,53.1 352.2,52.5 352.5,53.8 352.8,54.5 353.1,54.2 353.4,53.4 353.7,53.5 354.0,52.6 354.3,52.8 354.6,53.9 354.9,52.8 355.2,52.2 355.5,53.3 355.8,53.2 356.1,52.9 356.4,52.8 356.7,52.6 357.0,52.7 357.3,54.2 357.6,53.2 357.9,53.4 358.2,54.1 358.5,53.2 358.8,52.6 359.1,53.3 359.4,54.1 359.7,53.0 360.0,53.3 360.3,53.6 360.6,54.1 360.9,54.2 361.2,53.1 361.5,53.7 361.8,53.5 362.1,53.6 362.4,52.1 362.7,52.9 363.0,52.5 363.3,54.1 363.6,52.9 363.9,52.7 364.2,52.5 364.5,52.9 364.8,52.6 365.1,53.4 365.4,52.1 365.7,53.3 366.0,52.1 366.3,53.3 366.6,52.1 366.9,52.9 367.2,52.2 367.5,53.8 367.8,52.7 368.1,53.5 368.4,54.1 368.7,53.0 369.0,54.8 369.3,53.3 369.6,54.2 369.9,53.6 370.2,53.7 370.6,52.6 370.9,53.2 371.2,54.0 371.5,54.7 371.8,53.2 372.1,53.4 372.4,54.7 372.7,53.9 373.0,53.8 373.3,53.3 373.6,53.9 373.9,53.9 374.2,54.8 374.5,54.0 374.8,52.8 375.1,54.2 375.4,54.7 375.7,57.2 376.0,54.8 376.3,53.7 376.6,54.8 376.9,54.4 377.2,53.7 377.5,53.0 377.8,52.8 378.1,52.3 378.4,52.4 378.7,52.7 379.0,54.5 379.3,52.8 379.6,53.7 379.9,54.0 380.2,54.7 380.5,54.2 380.8,54.9 381.1,55.2 381.4,53.4 381.7,51.9 382.0,53.3 382.3,54.8 382.6,53.5 382.9,53.4 383.2,54.2 383.5,53.9 383.8,54.5 384.1,54.2 384.4,49.1 384.7,54.5 385.0,53.8 385.3,54.1 385.6,54.1 385.9,51.9 386.2,53.1 386.5,54.2 386.8,52.2 387.1,52.2 387.4,52.6 387.7,53.9 388.0,53.2 388.3,53.5 388.6,53.0 388.9,52.9 389.2,53.3 389.5,51.0 389.8,52.4 390.2,51.6 390.5,51.3 390.8,53.1 391.1,51.9 391.4,51.0 391.7,54.1 392.0,52.1 392.3,52.4 392.6,53.3 392.9,50.6 393.2,54.0 393.5,50.9 393.8,48.9 394.1,54.2 394.4,55.1 394.7,52.4 395.0,53.6 395.3,54.7 395.6,54.3 395.9,53.8 396.2,53.6 396.5,53.2 396.8,53.4 397.1,54.0 397.4,53.2 397.7,54.8 398.0,52.8 398.3,56.9 398.6,54.1 398.9,54.2 399.2,53.2 399.5,52.5 399.8,54.3 400.2,55.0 400.5,51.5 400.8,52.5 401.1,51.9 401.4,54.7 401.7,54.9 402.0,52.8 402.3,53.7 402.6,53.2 402.9,53.1 403.2,54.7 403.5,54.9 403.8,53.4 404.1,55.6 404.4,53.6 404.7,52.0 405.0,53.0 405.3,51.6 405.6,52.0 405.9,50.8 406.2,51.6 406.6,51.0 406.9,50.0 407.2,49.9 407.5,48.0 407.8,46.9 408.1,45.7 408.4,44.6 408.7,43.5 409.0,42.4 409.3,41.2 409.6,40.1 409.9,39.0 410.2,37.8 410.5,36.7 410.8,38.4 411.1,40.0 411.4,41.7 411.7,43.4 412.1,45.0 412.4,46.7 412.7,48.4 413.0,50.0 413.3,51.7 413.6,53.7 414.0,55.7 414.3,57.7 414.7,59.7 415.0,61.7 415.3,66.7 415.7,71.7 416.0,76.7 416.3,81.7 416.7,86.7 417.0,91.7 417.3,89.5 417.6,87.4 417.9,85.2 418.2,83.0 418.5,80.8 418.8,78.7 419.1,76.5 419.4,74.3 419.7,72.2 420.0,70.0 420.3,68.4 420.6,66.9 420.9,65.3 421.2,63.8 421.6,62.2 421.9,60.6 422.2,59.1 422.5,57.5 422.8,55.8 423.1,56.1 423.4,54.6 423.7,59.1 424.0,58.1 424.3,58.3 424.6,56.0 424.9,55.9 425.2,54.3 425.5,50.7 425.8,55.1 426.1,58.1 426.4,56.8 426.7,58.0 427.0,55.8 427.3,56.4 427.6,58.5 427.9,59.2 428.2,58.6 428.5,57.3 428.8,58.9 429.1,58.6 429.4,56.8 429.7,57.3 430.0,60.0 430.3,48.3 430.6,59.3 430.9,59.2 431.2,56.4 431.5,55.4 431.8,58.6 432.1,55.4 432.4,57.4 432.7,58.6 433.0,57.8 433.3,57.5 433.6,58.6 433.9,58.9 434.2,57.2 434.5,63.3 434.8,58.6 435.1,57.4 435.4,55.5 435.7,58.7 436.0,57.6 436.3,55.7 436.6,58.0 436.9,56.8 437.2,55.7 437.5,57.7 437.8,58.4 438.1,55.7 438.4,58.0 438.7,59.1 439.0,56.5 439.3,56.1 439.6,55.3 439.9,56.6 440.2,56.8 440.5,57.6 440.8,56.4 441.1,57.6 441.4,56.8 441.7,57.0 442.0,58.0 442.3,56.9 442.6,56.3 442.9,54.5 443.2,56.5 443.5,55.1 443.8,58.8 444.1,56.6 444.4,55.6 444.7,58.7 445.0,55.0 445.3,58.6 445.6,56.4 445.9,59.4 446.2,58.6 446.5,56.9 446.8,55.4 447.1,57.0 447.4,56.1 447.7,49.0 448.0,55.6 448.3,55.6 448.6,58.7 448.9,55.2 449.2,59.0 449.5,58.7 449.8,59.5 450.1,59.4 450.4,59.9 450.7,58.2 451.0,57.9 451.3,55.9 451.6,54.8 451.9,59.2 452.2,56.2 452.5,58.5 452.8,56.5 453.1,56.4 453.4,57.1 453.7,58.8 454.0,59.0 454.3,57.8 454.6,54.8 454.9,53.9 455.2,54.8 455.5,58.1 455.8,55.3 456.1,58.3 456.4,59.3 456.7,58.9 457.0,58.7 457.3,55.2 457.6,55.2 457.9,57.3 458.2,54.8 458.5,57.0 458.8,56.0 459.1,55.7 459.4,55.4 459.7,56.2 460.0,56.5 460.3,54.8 460.6,58.6 460.9,59.9 461.2,55.5 461.5,57.7 461.8,57.6 462.1,59.7 462.4,55.3 462.7,55.7 463.0,51.3 463.3,55.7 463.6,57.0 463.9,57.1 464.2,59.6 464.5,59.1 464.8,56.4 465.1,56.3 465.4,54.0 465.7,54.9 466.0,57.9 466.3,55.1 466.6,55.7 466.9,56.3 467.2,57.3 467.5,57.8 467.8,59.3 468.1,57.9 468.4,58.9 468.7,60.8 469.0,56.8 469.3,60.3 469.6,56.9 469.9,59.8 470.2,60.3 470.5,57.2 470.8,58.3 471.1,55.9 471.4,59.1 471.7,59.5 472.0,60.2 472.3,59.9 472.6,58.5 472.9,60.1 473.2,57.2 473.5,59.8 473.8,55.5 474.1,55.5 474.4,58.8 474.7,54.4 475.0,58.2 475.3,55.8 475.6,55.3 475.9,58.6 476.2,58.3 476.5,56.4 476.8,57.0 477.1,58.6 477.4,54.6 477.7,57.8 478.0,57.0 478.3,57.0 478.8,170.0 479.1,174.1 479.4,178.2 479.7,182.4 480.0,186.5 480.3,190.6 480.6,194.7 480.9,198.8 481.2,202.9 481.6,207.1 481.9,211.2 482.2,215.3 482.5,219.4 482.8,223.5 483.1,227.6 483.4,231.8 483.7,235.9 484.0,240.0 484.3,243.5 484.6,246.9 485.0,250.4 485.3,253.8 485.6,257.3 485.9,260.7 486.2,264.2 486.5,267.6 486.9,271.1 487.2,274.5 487.5,278.0 487.8,279.9 488.1,281.8 488.4,283.6 488.8,285.5 489.1,287.4 489.4,289.2 489.7,291.1 490.0,293.0 490.3,293.7 490.6,294.3 490.9,295.0 491.2,295.7 491.5,296.3 491.8,297.0 492.2,297.7 492.5,298.4 492.8,299.0 493.1,299.7 493.4,300.4 493.7,301.0 494.0,301.7 494.3,302.0 494.6,302.2 494.9,302.5 495.2,302.8 495.5,303.1 495.8,303.3 496.1,303.6 496.4,303.9 496.7,304.2 497.0,304.4 497.3,304.7 497.6,305.0 497.9,305.3 498.2,305.5 498.5,305.8 498.8,305.5 499.1,305.5 499.4,305.9 499.7,305.3 500.0,305.4 500.3,305.4 500.6,306.0 500.9,306.3 501.2,305.3 501.5,306.0 501.8,306.1 502.1,305.3 502.4,305.6 502.7,305.9 503.0,305.7 503.3,304.7 503.6,305.2 503.9,305.5 504.2,305.2 504.6,305.5 504.9,306.0 505.2,306.2 505.5,305.3 505.8,305.8 506.1,305.3 506.4,305.7 506.7,305.5 507.0,305.9 507.3,306.1 507.6,305.1 507.9,305.1 508.2,305.6 508.5,305.8 508.8,305.6 509.1,305.7 509.4,305.4 509.7,305.6 510.0,305.3 510.3,304.8 510.6,304.8 510.9,305.5 511.2,305.3 511.5,305.0 511.8,305.8 512.1,305.3 512.4,305.8 512.7,304.7 513.0,305.4 513.3,304.9 513.6,305.1 513.9,305.4 514.2,305.3 514.5,304.7 514.8,305.7 515.1,305.0 515.4,305.0 515.7,304.6 516.0,305.5 516.3,305.3 516.6,305.5 516.9,304.8 517.2,305.3 517.5,304.8 517.8,304.6 518.1,304.7 518.4,305.6 518.7,305.0 519.0,305.3 519.3,304.9 519.6,304.9 519.9,304.8 520.2,304.7 520.5,305.5 520.8,304.9 521.2,305.4 521.5,306.0 521.8,305.4 522.1,305.4 522.4,305.4 522.7,305.5 523.0,304.6 523.3,304.7 523.6,305.2 523.9,304.9 524.2,305.6 524.5,305.3 524.8,304.6 525.1,304.4 525.4,304.7 525.7,304.8 526.0,305.0 526.3,305.4 526.6,305.5 526.9,304.9 527.2,304.6 527.5,304.7 527.8,305.2 528.1,305.3 528.4,305.3 528.7,304.5 529.0,305.0 529.3,305.0 529.6,305.0 529.9,305.2 530.2,304.4 530.5,305.1 530.8,304.8 531.1,304.9 531.4,304.6 531.7,305.1 532.0,304.8 532.3,305.0 532.6,305.0 532.9,305.2 533.2,304.4 533.5,304.6 533.8,305.3 534.1,304.9 534.4,304.2 534.7,304.5 535.0,304.1 535.3,304.7 535.6,303.6 535.9,304.2 536.2,304.4 536.5,304.1 536.8,304.2 537.1,305.2 537.4,304.1 537.7,303.8 538.0,304.1 538.3,304.8 538.7,303.8 539.0,304.9 539.3,304.5 539.6,303.4 539.9,302.8 540.2,303.6 540.5,304.2 540.8,303.6 541.1,304.9 541.4,304.1 541.7,303.4 542.0,303.5 542.3,303.6 542.6,303.3 542.9,304.4 543.2,303.3 543.5,304.2 543.8,304.2 544.1,303.4 544.4,303.5 544.7,303.7 545.0,303.5 545.3,303.2 545.6,304.1 545.9,303.2 546.2,303.2 546.5,302.6 546.8,303.2 547.1,302.8 547.4,303.8 547.7,303.0 548.0,302.9 548.3,303.6 548.6,302.6 548.9,302.7 549.2,302.8 549.5,302.6 549.8,302.7 550.1,303.6 550.4,302.6 550.7,303.5 551.0,302.5 551.3,303.9 551.6,303.1 551.9,302.8 552.2,302.6 552.5,303.1 552.8,302.5 553.1,303.8 553.4,302.9 553.7,303.3 554.0,303.0 554.3,302.5 554.6,302.3 554.9,303.0 555.2,302.6 555.5,303.7 555.8,302.9 556.1,302.1 556.4,303.6 556.7,303.6 557.0,303.2 557.3,302.5 557.6,302.0 557.9,302.4 558.2,302.1 558.5,303.3 558.8,303.0 559.1,302.2 559.4,303.2 559.7,302.8 560.0,303.2 560.3,303.2 560.6,303.3 560.9,302.2 561.2,303.4 561.5,303.1 561.8,302.8 562.1,302.7 562.4,302.5 562.7,301.9 563.0,303.3 563.3,302.4 563.6,303.0 563.9,302.2 564.2,301.6 564.5,302.8 564.8,301.8 565.1,302.3 565.4,302.2 565.7,302.6 566.0,302.5" stroke="#F781BF"/>
</g>
<g><rect x="42" y="59" width="4" height="1" fill="#333"/><rect x="42" y="149" width="4" height="1" fill="#333"/><rect x="42" y="239" width="4" height="1" fill="#333"/><rect x="42" y="329" width="4" height="1" fill="#333"/><rect x="42" y="419" width="4" height="1" fill="#333"/><rect x="71" y="435" width="1" height="4" fill="#333"/><rect x="236" y="435" width="1" height="4" fill="#333"/><rect x="401" y="435" width="1" height="4" fill="#333"/><rect x="566" y="435" width="1" height="4" fill="#333"/></g>
<g><text x="38.4" y="64.0" text-anchor="end" class="tk">40</text><text x="38.4" y="154.0" text-anchor="end" class="tk">30</text><text x="38.4" y="244.0" text-anchor="end" class="tk">20</text><text x="38.4" y="334.0" text-anchor="end" class="tk">10</text><text x="38.4" y="424.0" text-anchor="end" class="tk">0</text><text x="70.5" y="452.6" text-anchor="middle" class="tk">15:00</text><text x="235.5" y="452.6" text-anchor="middle" class="tk">16:00</text><text x="400.5" y="452.6" text-anchor="middle" class="tk">17:00</text><text x="565.5" y="452.6" text-anchor="middle" class="tk">18:00</text></g>
<text x="318" y="469.8" text-anchor="middle" class="tt">ts</text>
<text transform="translate(19.3,221.6) rotate(-90)" text-anchor="middle" class="tt">value</text>
<text x="613" y="132" class="tt">key</text>
<g><rect x="613" y="140" width="23" height="183.82" fill="#F2F2F2"/><line x1="615" x2="633" y1="151.00" y2="151.00" stroke="#E41A1C" stroke-width="2"/><text x="642.6" y="156.70" class="lg">Y0</text><line x1="615" x2="633" y1="174.10" y2="174.10" stroke="#377EB8" stroke-width="2"/><text x="642.6" y="179.80" class="lg">Y1</text><line x1="615" x2="633" y1="197.20" y2="197.20" stroke="#4DAF4A" stroke-width="2"/><text x="642.6" y="202.90" class="lg">Y2</text><line x1="615" x2="633" y1="220.30" y2="220.30" stroke="#984EA3" stroke-width="2"/><text x="642.6" y="226.00" class="lg">Y3</text><line x1="615" x2="633" y1="243.40" y2="243.40" stroke="#FF7F00" stroke-width="2"/><text x="642.6" y="249.10" class="lg">Y4</text><line x1="615" x2="633" y1="266.50" y2="266.50" stroke="#FFFF33" stroke-width="2"/><text x="642.6" y="272.20" class="lg">Y5</text><line x1="615" x2="633" y1="289.60" y2="289.60" stroke="#A65628" stroke-width="2"/><text x="642.6" y="295.30" class="lg">Y6</text><line x1="615" x2="633" y1="312.70" y2="312.70" stroke="#F781BF" stroke-width="2"/><text x="642.6" y="318.40" class="lg">Y7</text></g>
</svg>
</body></html>
